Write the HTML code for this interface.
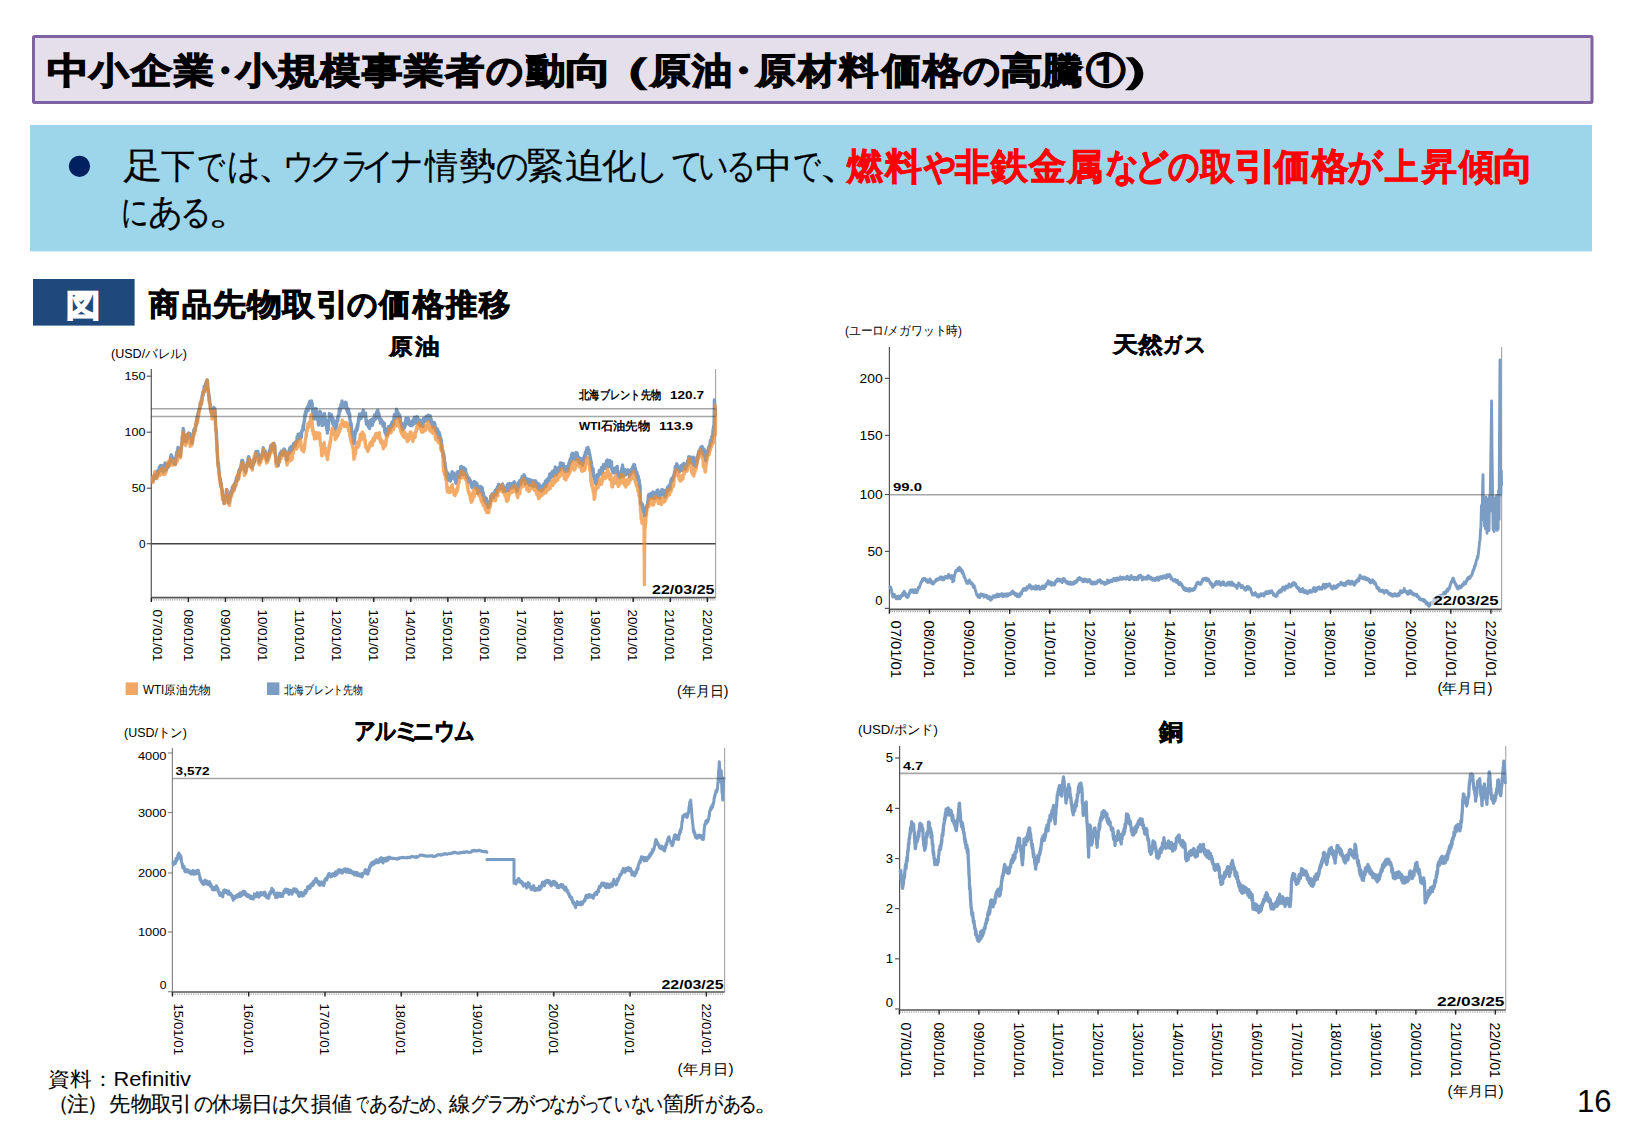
<!DOCTYPE html>
<html lang="ja"><head><meta charset="utf-8"><title>slide</title>
<style>
html,body{margin:0;padding:0;background:#fff;}
body{width:1625px;height:1125px;position:relative;overflow:hidden;font-family:'Liberation Sans', sans-serif;}
svg text{font-family:'Liberation Sans', sans-serif;}
</style></head><body>
<svg width="1625" height="1125" viewBox="0 0 1625 1125" style="position:absolute;left:0;top:0">
<rect x="33.5" y="36.5" width="1558.5" height="66" rx="1" fill="#e5dfec" stroke="#7f62a1" stroke-width="3"/>
<text transform="translate(68.79,82.98) scale(1.094,0.932)" x="0" y="0" font-size="39" font-weight="bold" fill="#000" text-anchor="middle" stroke="#000" stroke-width="1.3">中</text>
<text transform="translate(108.99,82.98) scale(1.026,0.932)" x="0" y="0" font-size="39" font-weight="bold" fill="#000" text-anchor="middle" stroke="#000" stroke-width="1.3">小</text>
<text transform="translate(151.70,82.98) scale(1.068,0.932)" x="0" y="0" font-size="39" font-weight="bold" fill="#000" text-anchor="middle" stroke="#000" stroke-width="1.3">企</text>
<text transform="translate(193.95,82.98) scale(1.029,0.932)" x="0" y="0" font-size="39" font-weight="bold" fill="#000" text-anchor="middle" stroke="#000" stroke-width="1.3">業</text>
<text transform="translate(224.57,82.98) scale(0.925,0.932)" x="0" y="0" font-size="39" font-weight="bold" fill="#000" text-anchor="middle" stroke="#000" stroke-width="1.3">・</text>
<text transform="translate(256.38,82.98) scale(1.041,0.932)" x="0" y="0" font-size="39" font-weight="bold" fill="#000" text-anchor="middle" stroke="#000" stroke-width="1.3">小</text>
<text transform="translate(298.95,82.98) scale(1.103,0.932)" x="0" y="0" font-size="39" font-weight="bold" fill="#000" text-anchor="middle" stroke="#000" stroke-width="1.3">規</text>
<text transform="translate(340.90,82.98) scale(1.047,0.932)" x="0" y="0" font-size="39" font-weight="bold" fill="#000" text-anchor="middle" stroke="#000" stroke-width="1.3">模</text>
<text transform="translate(382.45,82.98) scale(1.045,0.932)" x="0" y="0" font-size="39" font-weight="bold" fill="#000" text-anchor="middle" stroke="#000" stroke-width="1.3">事</text>
<text transform="translate(423.50,82.98) scale(1.026,0.932)" x="0" y="0" font-size="39" font-weight="bold" fill="#000" text-anchor="middle" stroke="#000" stroke-width="1.3">業</text>
<text transform="translate(465.10,82.98) scale(1.021,0.932)" x="0" y="0" font-size="39" font-weight="bold" fill="#000" text-anchor="middle" stroke="#000" stroke-width="1.3">者</text>
<text transform="translate(505.22,82.98) scale(0.949,0.932)" x="0" y="0" font-size="39" font-weight="bold" fill="#000" text-anchor="middle" stroke="#000" stroke-width="1.3">の</text>
<text transform="translate(545.41,82.98) scale(1.022,0.932)" x="0" y="0" font-size="39" font-weight="bold" fill="#000" text-anchor="middle" stroke="#000" stroke-width="1.3">動</text>
<text transform="translate(588.28,82.98) scale(1.223,0.932)" x="0" y="0" font-size="39" font-weight="bold" fill="#000" text-anchor="middle" stroke="#000" stroke-width="1.3">向</text>
<text transform="translate(624.00,82.98) scale(1.533,0.932)" x="0" y="0" font-size="39" font-weight="bold" fill="#000" text-anchor="middle" stroke="#000" stroke-width="1.3">（</text>
<text transform="translate(670.65,82.98) scale(1.045,0.932)" x="0" y="0" font-size="39" font-weight="bold" fill="#000" text-anchor="middle" stroke="#000" stroke-width="1.3">原</text>
<text transform="translate(712.20,82.98) scale(1.047,0.932)" x="0" y="0" font-size="39" font-weight="bold" fill="#000" text-anchor="middle" stroke="#000" stroke-width="1.3">油</text>
<text transform="translate(743.41,82.98) scale(1.038,0.932)" x="0" y="0" font-size="39" font-weight="bold" fill="#000" text-anchor="middle" stroke="#000" stroke-width="1.3">・</text>
<text transform="translate(775.40,82.98) scale(1.021,0.932)" x="0" y="0" font-size="39" font-weight="bold" fill="#000" text-anchor="middle" stroke="#000" stroke-width="1.3">原</text>
<text transform="translate(817.40,82.98) scale(0.995,0.932)" x="0" y="0" font-size="39" font-weight="bold" fill="#000" text-anchor="middle" stroke="#000" stroke-width="1.3">材</text>
<text transform="translate(858.40,82.98) scale(1.021,0.932)" x="0" y="0" font-size="39" font-weight="bold" fill="#000" text-anchor="middle" stroke="#000" stroke-width="1.3">料</text>
<text transform="translate(901.42,82.98) scale(1.021,0.932)" x="0" y="0" font-size="39" font-weight="bold" fill="#000" text-anchor="middle" stroke="#000" stroke-width="1.3">価</text>
<text transform="translate(942.96,82.98) scale(1.018,0.932)" x="0" y="0" font-size="39" font-weight="bold" fill="#000" text-anchor="middle" stroke="#000" stroke-width="1.3">格</text>
<text transform="translate(982.17,82.98) scale(0.946,0.932)" x="0" y="0" font-size="39" font-weight="bold" fill="#000" text-anchor="middle" stroke="#000" stroke-width="1.3">の</text>
<text transform="translate(1021.85,82.98) scale(1.103,0.932)" x="0" y="0" font-size="39" font-weight="bold" fill="#000" text-anchor="middle" stroke="#000" stroke-width="1.3">高</text>
<text transform="translate(1062.90,82.98) scale(1.068,0.932)" x="0" y="0" font-size="39" font-weight="bold" fill="#000" text-anchor="middle" stroke="#000" stroke-width="1.3">騰</text>
<text transform="translate(1105.39,82.98) scale(1.022,0.932)" x="0" y="0" font-size="39" font-weight="bold" fill="#000" text-anchor="middle" stroke="#000" stroke-width="1.3">①</text>
<text transform="translate(1150.52,82.98) scale(1.644,0.932)" x="0" y="0" font-size="39" font-weight="bold" fill="#000" text-anchor="middle" stroke="#000" stroke-width="1.3">）</text>
<rect x="30" y="125" width="1562" height="126.4" fill="#9dd5ea"/>
<circle cx="79.5" cy="166.3" r="10.6" fill="#002060"/>
<text transform="translate(141.95,178.20) scale(1.097,1.000)" x="0" y="0" font-size="35.5" font-weight="normal" fill="#000" text-anchor="middle" stroke="#000" stroke-width="0.2">足</text>
<text transform="translate(177.80,178.20) scale(0.976,1.000)" x="0" y="0" font-size="35.5" font-weight="normal" fill="#000" text-anchor="middle" stroke="#000" stroke-width="0.2">下</text>
<text transform="translate(211.61,178.20) scale(0.788,1.000)" x="0" y="0" font-size="35.5" font-weight="normal" fill="#000" text-anchor="middle" stroke="#000" stroke-width="0.2">で</text>
<text transform="translate(244.20,178.20) scale(0.920,1.000)" x="0" y="0" font-size="35.5" font-weight="normal" fill="#000" text-anchor="middle" stroke="#000" stroke-width="0.2">は</text>
<text transform="translate(278.52,178.20) scale(1.217,1.000)" x="0" y="0" font-size="35.5" font-weight="normal" fill="#000" text-anchor="middle" stroke="#000" stroke-width="0.2">、</text>
<text transform="translate(299.14,178.20) scale(0.889,1.000)" x="0" y="0" font-size="35.5" font-weight="normal" fill="#000" text-anchor="middle" stroke="#000" stroke-width="0.2">ウ</text>
<text transform="translate(327.35,178.20) scale(0.996,1.000)" x="0" y="0" font-size="35.5" font-weight="normal" fill="#000" text-anchor="middle" stroke="#000" stroke-width="0.2">ク</text>
<text transform="translate(354.88,178.20) scale(0.777,1.000)" x="0" y="0" font-size="35.5" font-weight="normal" fill="#000" text-anchor="middle" stroke="#000" stroke-width="0.2">ラ</text>
<text transform="translate(378.02,178.20) scale(0.923,1.000)" x="0" y="0" font-size="35.5" font-weight="normal" fill="#000" text-anchor="middle" stroke="#000" stroke-width="0.2">イ</text>
<text transform="translate(407.99,178.20) scale(0.894,1.000)" x="0" y="0" font-size="35.5" font-weight="normal" fill="#000" text-anchor="middle" stroke="#000" stroke-width="0.2">ナ</text>
<text transform="translate(442.20,178.20) scale(0.947,1.000)" x="0" y="0" font-size="35.5" font-weight="normal" fill="#000" text-anchor="middle" stroke="#000" stroke-width="0.2">情</text>
<text transform="translate(476.82,178.20) scale(1.036,1.000)" x="0" y="0" font-size="35.5" font-weight="normal" fill="#000" text-anchor="middle" stroke="#000" stroke-width="0.2">勢</text>
<text transform="translate(512.25,178.20) scale(0.897,1.000)" x="0" y="0" font-size="35.5" font-weight="normal" fill="#000" text-anchor="middle" stroke="#000" stroke-width="0.2">の</text>
<text transform="translate(545.55,178.20) scale(1.066,1.000)" x="0" y="0" font-size="35.5" font-weight="normal" fill="#000" text-anchor="middle" stroke="#000" stroke-width="0.2">緊</text>
<text transform="translate(583.99,178.20) scale(1.094,1.000)" x="0" y="0" font-size="35.5" font-weight="normal" fill="#000" text-anchor="middle" stroke="#000" stroke-width="0.2">迫</text>
<text transform="translate(618.90,178.20) scale(0.976,1.000)" x="0" y="0" font-size="35.5" font-weight="normal" fill="#000" text-anchor="middle" stroke="#000" stroke-width="0.2">化</text>
<text transform="translate(651.64,178.20) scale(0.964,1.000)" x="0" y="0" font-size="35.5" font-weight="normal" fill="#000" text-anchor="middle" stroke="#000" stroke-width="0.2">し</text>
<text transform="translate(687.24,178.20) scale(0.890,1.000)" x="0" y="0" font-size="35.5" font-weight="normal" fill="#000" text-anchor="middle" stroke="#000" stroke-width="0.2">て</text>
<text transform="translate(713.13,178.20) scale(0.835,1.000)" x="0" y="0" font-size="35.5" font-weight="normal" fill="#000" text-anchor="middle" stroke="#000" stroke-width="0.2">い</text>
<text transform="translate(741.56,178.20) scale(0.826,1.000)" x="0" y="0" font-size="35.5" font-weight="normal" fill="#000" text-anchor="middle" stroke="#000" stroke-width="0.2">る</text>
<text transform="translate(774.27,178.20) scale(1.079,1.000)" x="0" y="0" font-size="35.5" font-weight="normal" fill="#000" text-anchor="middle" stroke="#000" stroke-width="0.2">中</text>
<text transform="translate(806.94,178.20) scale(0.759,1.000)" x="0" y="0" font-size="35.5" font-weight="normal" fill="#000" text-anchor="middle" stroke="#000" stroke-width="0.2">で</text>
<text transform="translate(842.28,178.20) scale(1.383,1.000)" x="0" y="0" font-size="35.5" font-weight="normal" fill="#000" text-anchor="middle" stroke="#000" stroke-width="0.2">、</text>
<text transform="translate(864.91,179.00) scale(0.973,1.000)" x="0" y="0" font-size="36.5" font-weight="bold" fill="#ff0000" text-anchor="middle" stroke="#ff0000" stroke-width="0.8">燃</text>
<text transform="translate(903.20,179.00) scale(1.000,1.000)" x="0" y="0" font-size="36.5" font-weight="bold" fill="#ff0000" text-anchor="middle" stroke="#ff0000" stroke-width="0.8">料</text>
<text transform="translate(940.57,179.00) scale(0.872,1.000)" x="0" y="0" font-size="36.5" font-weight="bold" fill="#ff0000" text-anchor="middle" stroke="#ff0000" stroke-width="0.8">や</text>
<text transform="translate(972.30,179.00) scale(0.972,1.000)" x="0" y="0" font-size="36.5" font-weight="bold" fill="#ff0000" text-anchor="middle" stroke="#ff0000" stroke-width="0.8">非</text>
<text transform="translate(1009.70,179.00) scale(1.000,1.000)" x="0" y="0" font-size="36.5" font-weight="bold" fill="#ff0000" text-anchor="middle" stroke="#ff0000" stroke-width="0.8">鉄</text>
<text transform="translate(1047.50,179.00) scale(1.000,1.000)" x="0" y="0" font-size="36.5" font-weight="bold" fill="#ff0000" text-anchor="middle" stroke="#ff0000" stroke-width="0.8">金</text>
<text transform="translate(1085.45,179.00) scale(1.003,1.000)" x="0" y="0" font-size="36.5" font-weight="bold" fill="#ff0000" text-anchor="middle" stroke="#ff0000" stroke-width="0.8">属</text>
<text transform="translate(1121.77,179.00) scale(0.871,1.000)" x="0" y="0" font-size="36.5" font-weight="bold" fill="#ff0000" text-anchor="middle" stroke="#ff0000" stroke-width="0.8">な</text>
<text transform="translate(1151.91,179.00) scale(0.894,1.000)" x="0" y="0" font-size="36.5" font-weight="bold" fill="#ff0000" text-anchor="middle" stroke="#ff0000" stroke-width="0.8">ど</text>
<text transform="translate(1184.12,179.00) scale(0.840,1.000)" x="0" y="0" font-size="36.5" font-weight="bold" fill="#ff0000" text-anchor="middle" stroke="#ff0000" stroke-width="0.8">の</text>
<text transform="translate(1217.38,179.00) scale(0.949,1.000)" x="0" y="0" font-size="36.5" font-weight="bold" fill="#ff0000" text-anchor="middle" stroke="#ff0000" stroke-width="0.8">取</text>
<text transform="translate(1255.34,179.00) scale(1.196,1.000)" x="0" y="0" font-size="36.5" font-weight="bold" fill="#ff0000" text-anchor="middle" stroke="#ff0000" stroke-width="0.8">引</text>
<text transform="translate(1292.35,179.00) scale(1.003,1.000)" x="0" y="0" font-size="36.5" font-weight="bold" fill="#ff0000" text-anchor="middle" stroke="#ff0000" stroke-width="0.8">価</text>
<text transform="translate(1330.15,179.00) scale(0.997,1.000)" x="0" y="0" font-size="36.5" font-weight="bold" fill="#ff0000" text-anchor="middle" stroke="#ff0000" stroke-width="0.8">格</text>
<text transform="translate(1365.64,179.00) scale(0.924,1.000)" x="0" y="0" font-size="36.5" font-weight="bold" fill="#ff0000" text-anchor="middle" stroke="#ff0000" stroke-width="0.8">が</text>
<text transform="translate(1401.65,179.00) scale(0.925,1.000)" x="0" y="0" font-size="36.5" font-weight="bold" fill="#ff0000" text-anchor="middle" stroke="#ff0000" stroke-width="0.8">上</text>
<text transform="translate(1439.50,179.00) scale(0.972,1.000)" x="0" y="0" font-size="36.5" font-weight="bold" fill="#ff0000" text-anchor="middle" stroke="#ff0000" stroke-width="0.8">昇</text>
<text transform="translate(1476.50,179.00) scale(0.972,1.000)" x="0" y="0" font-size="36.5" font-weight="bold" fill="#ff0000" text-anchor="middle" stroke="#ff0000" stroke-width="0.8">傾</text>
<text transform="translate(1513.51,179.00) scale(1.107,1.000)" x="0" y="0" font-size="36.5" font-weight="bold" fill="#ff0000" text-anchor="middle" stroke="#ff0000" stroke-width="0.8">向</text>
<text transform="translate(134.62,224.00) scale(0.759,1.000)" x="0" y="0" font-size="35.5" font-weight="normal" fill="#000" text-anchor="middle" stroke="#000" stroke-width="0.2">に</text>
<text transform="translate(165.48,224.00) scale(0.968,1.000)" x="0" y="0" font-size="35.5" font-weight="normal" fill="#000" text-anchor="middle" stroke="#000" stroke-width="0.2">あ</text>
<text transform="translate(196.44,224.00) scale(0.889,1.000)" x="0" y="0" font-size="35.5" font-weight="normal" fill="#000" text-anchor="middle" stroke="#000" stroke-width="0.2">る</text>
<text transform="translate(233.00,224.00) scale(1.500,1.000)" x="0" y="0" font-size="35.5" font-weight="normal" fill="#000" text-anchor="middle" stroke="#000" stroke-width="0.2">。</text>
<rect x="33" y="279" width="101.6" height="46.6" fill="#1f497d"/>
<text transform="translate(83.50,315.50) scale(1.115,1.000)" x="0" y="0" font-size="31" font-weight="bold" fill="#fff" text-anchor="middle" stroke="#fff" stroke-width="1.4">図</text>
<text transform="translate(164.00,315.00) scale(0.973,1.000)" x="0" y="0" font-size="31" font-weight="bold" fill="#000" text-anchor="middle" stroke="#000" stroke-width="0.9">商</text>
<text transform="translate(196.75,315.00) scale(0.961,1.000)" x="0" y="0" font-size="31" font-weight="bold" fill="#000" text-anchor="middle" stroke="#000" stroke-width="0.9">品</text>
<text transform="translate(229.52,315.00) scale(1.055,1.000)" x="0" y="0" font-size="31" font-weight="bold" fill="#000" text-anchor="middle" stroke="#000" stroke-width="0.9">先</text>
<text transform="translate(264.51,315.00) scale(1.128,1.000)" x="0" y="0" font-size="31" font-weight="bold" fill="#000" text-anchor="middle" stroke="#000" stroke-width="0.9">物</text>
<text transform="translate(298.45,315.00) scale(1.050,1.000)" x="0" y="0" font-size="31" font-weight="bold" fill="#000" text-anchor="middle" stroke="#000" stroke-width="0.9">取</text>
<text transform="translate(332.80,315.00) scale(1.070,1.000)" x="0" y="0" font-size="31" font-weight="bold" fill="#000" text-anchor="middle" stroke="#000" stroke-width="0.9">引</text>
<text transform="translate(362.63,315.00) scale(0.969,1.000)" x="0" y="0" font-size="31" font-weight="bold" fill="#000" text-anchor="middle" stroke="#000" stroke-width="0.9">の</text>
<text transform="translate(394.80,315.00) scale(1.007,1.000)" x="0" y="0" font-size="31" font-weight="bold" fill="#000" text-anchor="middle" stroke="#000" stroke-width="0.9">価</text>
<text transform="translate(428.71,315.00) scale(1.019,1.000)" x="0" y="0" font-size="31" font-weight="bold" fill="#000" text-anchor="middle" stroke="#000" stroke-width="0.9">格</text>
<text transform="translate(461.60,315.00) scale(1.013,1.000)" x="0" y="0" font-size="31" font-weight="bold" fill="#000" text-anchor="middle" stroke="#000" stroke-width="0.9">推</text>
<text transform="translate(494.30,315.00) scale(1.013,1.000)" x="0" y="0" font-size="31" font-weight="bold" fill="#000" text-anchor="middle" stroke="#000" stroke-width="0.9">移</text>
<text transform="translate(401.25,354.26) scale(0.979,0.913)" x="0" y="0" font-size="24" font-weight="bold" fill="#000" text-anchor="middle" stroke="#000" stroke-width="0.5">原</text>
<text transform="translate(427.37,354.26) scale(1.030,0.913)" x="0" y="0" font-size="24" font-weight="bold" fill="#000" text-anchor="middle" stroke="#000" stroke-width="0.5">油</text>
<text transform="translate(1125.30,351.64) scale(1.090,0.965)" x="0" y="0" font-size="23" font-weight="bold" fill="#000" text-anchor="middle" stroke="#000" stroke-width="0.5">天</text>
<text transform="translate(1151.10,351.64) scale(1.091,0.965)" x="0" y="0" font-size="23" font-weight="bold" fill="#000" text-anchor="middle" stroke="#000" stroke-width="0.5">然</text>
<text transform="translate(1173.23,351.64) scale(0.823,0.965)" x="0" y="0" font-size="23" font-weight="bold" fill="#000" text-anchor="middle" stroke="#000" stroke-width="0.5">ガ</text>
<text transform="translate(1195.16,351.64) scale(0.960,0.965)" x="0" y="0" font-size="23" font-weight="bold" fill="#000" text-anchor="middle" stroke="#000" stroke-width="0.5">ス</text>
<text transform="translate(365.65,739.02) scale(0.945,1.060)" x="0" y="0" font-size="23" font-weight="bold" fill="#000" text-anchor="middle" stroke="#000" stroke-width="0.5">ア</text>
<text transform="translate(386.35,739.02) scale(0.904,1.060)" x="0" y="0" font-size="23" font-weight="bold" fill="#000" text-anchor="middle" stroke="#000" stroke-width="0.5">ル</text>
<text transform="translate(406.94,739.02) scale(1.392,1.060)" x="0" y="0" font-size="23" font-weight="bold" fill="#000" text-anchor="middle" stroke="#000" stroke-width="0.5">ミ</text>
<text transform="translate(424.51,739.02) scale(0.921,1.060)" x="0" y="0" font-size="23" font-weight="bold" fill="#000" text-anchor="middle" stroke="#000" stroke-width="0.5">ニ</text>
<text transform="translate(445.22,739.02) scale(0.922,1.060)" x="0" y="0" font-size="23" font-weight="bold" fill="#000" text-anchor="middle" stroke="#000" stroke-width="0.5">ウ</text>
<text transform="translate(464.90,739.02) scale(0.900,1.060)" x="0" y="0" font-size="23" font-weight="bold" fill="#000" text-anchor="middle" stroke="#000" stroke-width="0.5">ム</text>
<text transform="translate(1171.00,740.00) scale(1.000,1.000)" x="0" y="0" font-size="24" font-weight="bold" fill="#000" text-anchor="middle" stroke="#000" stroke-width="0.5">銅</text>
<line x1="715.6" y1="369" x2="715.6" y2="597.6" stroke="#aaa" stroke-width="1.2" />
<line x1="151.3" y1="369" x2="151.3" y2="597.6" stroke="#555" stroke-width="1.2" />
<line x1="146.8" y1="376.2" x2="151.3" y2="376.2" stroke="#555" stroke-width="1.2" />
<text x="145.5" y="380.4" font-size="11.2" font-weight="normal" fill="#000" text-anchor="end" textLength="21.0" lengthAdjust="spacingAndGlyphs" >150</text>
<line x1="146.8" y1="432.2" x2="151.3" y2="432.2" stroke="#555" stroke-width="1.2" />
<text x="145.5" y="436.4" font-size="11.2" font-weight="normal" fill="#000" text-anchor="end" textLength="21.0" lengthAdjust="spacingAndGlyphs" >100</text>
<line x1="146.8" y1="488.2" x2="151.3" y2="488.2" stroke="#555" stroke-width="1.2" />
<text x="145.5" y="492.4" font-size="11.2" font-weight="normal" fill="#000" text-anchor="end" textLength="13.8" lengthAdjust="spacingAndGlyphs" >50</text>
<line x1="146.8" y1="543.7" x2="151.3" y2="543.7" stroke="#555" stroke-width="1.2" />
<text x="145.5" y="547.9000000000001" font-size="11.2" font-weight="normal" fill="#000" text-anchor="end" textLength="6.6" lengthAdjust="spacingAndGlyphs" >0</text>
<line x1="151.3" y1="543.7" x2="715.6" y2="543.7" stroke="#444" stroke-width="1.5" />
<polyline points="152.5,477.2 152.7,478.3 152.9,478.2 153.1,481.0 153.3,478.5 153.5,477.8 153.7,476.7 153.9,477.7 154.1,477.2 154.3,474.9 154.5,477.6 154.7,477.9 154.9,477.1 155.1,477.3 155.3,475.6 155.5,474.8 155.7,474.6 155.9,475.1 156.1,478.5 156.3,475.6 156.5,476.9 156.7,474.1 156.9,477.1 157.1,475.9 157.3,470.9 157.5,471.8 157.7,474.1 157.9,473.5 158.1,473.3 158.3,473.7 158.5,470.4 158.7,472.6 158.9,469.4 159.1,469.7 159.3,467.1 159.6,467.0 159.8,470.9 160.0,468.5 160.2,467.1 160.4,469.9 160.6,465.3 160.8,465.9 161.0,468.5 161.2,465.7 161.4,469.2 161.6,470.1 161.8,465.7 162.0,470.4 162.2,470.0 162.4,468.3 162.6,468.7 162.8,466.5 163.0,466.7 163.2,472.2 163.4,468.3 163.6,470.4 163.8,467.5 164.0,470.1 164.2,468.3 164.4,464.7 164.6,464.6 164.8,466.6 165.0,463.0 165.2,464.2 165.4,465.7 165.6,468.3 165.8,468.4 166.0,466.7 166.2,466.4 166.4,470.2 166.6,464.4 166.8,467.2 167.0,467.9 167.2,468.1 167.4,466.9 167.6,466.6 167.8,467.4 168.0,467.3 168.2,463.5 168.4,463.8 168.6,465.9 168.8,466.5 169.0,463.4 169.2,464.6 169.4,463.6 169.6,461.7 169.8,461.7 170.0,461.7 170.2,462.6 170.4,461.7 170.6,456.3 170.8,460.2 171.0,461.9 171.2,454.7 171.4,456.8 171.6,460.2 171.8,457.1 172.0,456.3 172.2,461.6 172.4,459.9 172.6,458.6 172.8,461.7 173.0,458.6 173.1,460.9 173.3,458.4 173.5,459.4 173.7,461.3 173.9,462.4 174.1,463.9 174.3,460.4 174.5,461.9 174.7,461.3 174.9,460.0 175.1,459.7 175.3,464.5 175.5,460.0 175.7,461.7 175.9,459.8 176.1,455.7 176.3,457.7 176.5,453.2 176.8,452.6 177.0,453.9 177.2,451.0 177.4,455.6 177.6,451.0 177.8,449.1 178.0,447.3 178.2,451.3 178.4,450.5 178.6,451.2 178.8,448.1 179.0,448.4 179.2,450.2 179.4,451.0 179.6,450.4 179.7,451.1 179.9,452.1 180.1,450.8 180.3,454.6 180.5,456.2 180.7,452.0 180.9,451.0 181.1,447.8 181.3,448.4 181.5,447.7 181.8,445.5 182.0,442.9 182.2,437.0 182.4,438.2 182.6,437.6 182.8,436.8 183.0,433.0 183.2,428.4 183.4,433.2 183.6,429.9 183.8,433.4 184.0,437.3 184.2,434.1 184.5,435.9 184.7,439.3 184.9,440.1 185.1,441.3 185.3,441.3 185.5,440.1 185.7,440.6 185.9,442.1 186.1,441.9 186.3,437.1 186.5,440.0 186.8,440.8 187.0,437.2 187.2,437.9 187.4,434.3 187.6,434.6 187.8,434.2 188.0,434.3 188.2,435.1 188.4,433.1 188.6,433.7 188.8,433.3 189.0,435.0 189.2,438.1 189.4,433.3 189.6,437.1 189.8,433.3 190.1,434.5 190.3,434.3 190.5,437.2 190.7,437.4 190.9,437.7 191.1,439.5 191.3,438.1 191.5,442.7 191.7,443.3 191.9,442.2 192.1,443.4 192.3,440.9 192.5,441.6 192.7,436.1 192.9,437.6 193.2,436.2 193.4,436.1 193.6,431.2 193.8,429.9 194.0,432.5 194.2,429.5 194.4,430.4 194.6,428.3 194.8,428.4 195.0,429.6 195.2,429.8 195.4,430.2 195.7,424.2 195.9,425.6 196.1,426.2 196.3,422.8 196.5,422.7 196.7,422.5 196.9,417.1 197.1,416.4 197.3,420.7 197.5,417.2 197.7,417.2 197.9,413.6 198.2,413.1 198.4,412.4 198.6,411.3 198.8,411.9 199.0,409.1 199.2,409.5 199.4,407.9 199.6,408.5 199.8,407.2 200.0,404.4 200.2,407.4 200.4,405.0 200.6,404.8 200.8,404.8 200.9,401.8 201.1,403.9 201.3,404.4 201.5,401.8 201.7,401.2 201.9,399.0 202.1,395.9 202.3,396.1 202.5,394.9 202.7,393.7 202.9,391.8 203.1,395.3 203.3,393.4 203.6,393.2 203.8,392.1 204.0,391.8 204.2,386.1 204.4,390.6 204.6,390.3 204.8,390.5 205.0,387.6 205.2,388.6 205.4,384.2 205.6,386.5 205.8,386.4 206.1,381.9 206.3,386.0 206.5,382.7 206.7,382.7 206.9,379.9 207.1,382.0 207.3,380.2 207.5,381.7 207.7,385.8 207.9,388.2 208.1,388.5 208.3,392.0 208.5,390.3 208.7,396.1 208.9,394.7 209.1,396.1 209.3,400.3 209.5,398.1 209.8,402.0 210.0,404.1 210.2,405.2 210.4,404.9 210.6,408.7 210.8,410.9 211.0,410.3 211.2,408.8 211.4,411.4 211.6,413.1 211.8,412.4 212.0,412.4 212.2,414.3 212.4,412.4 212.6,413.6 212.8,412.4 213.0,410.9 213.2,412.4 213.4,412.3 213.7,408.4 213.9,407.5 214.1,412.1 214.3,412.2 214.5,411.5 214.7,408.3 214.9,408.5 215.1,413.9 215.2,414.0 215.4,418.5 215.6,423.1 215.8,428.8 216.0,431.2 216.2,429.4 216.4,431.9 216.6,439.2 216.8,441.6 217.0,446.5 217.2,452.8 217.4,452.9 217.6,458.0 217.8,463.4 218.0,462.9 218.2,465.5 218.4,462.6 218.6,465.4 218.9,470.9 219.1,470.3 219.3,473.5 219.5,477.7 219.7,477.0 219.9,479.9 220.1,478.1 220.3,478.8 220.5,481.0 220.7,485.8 220.9,486.7 221.2,483.6 221.4,486.4 221.6,488.5 221.8,488.1 222.0,488.8 222.2,491.1 222.4,490.5 222.6,494.3 222.8,496.3 223.0,496.6 223.1,499.8 223.3,498.0 223.5,500.0 223.7,496.9 223.9,500.9 224.1,503.7 224.3,499.8 224.5,500.4 224.7,497.1 224.9,497.0 225.1,500.3 225.3,498.0 225.6,496.0 225.8,495.0 226.0,494.8 226.2,493.9 226.4,493.0 226.6,489.4 226.8,491.3 227.0,489.9 227.2,495.5 227.4,497.5 227.6,494.1 227.8,494.8 228.0,495.0 228.2,499.2 228.4,498.6 228.6,503.1 228.8,498.7 229.0,500.7 229.2,498.4 229.4,498.2 229.6,497.3 229.8,499.1 230.0,494.9 230.2,495.7 230.4,496.8 230.6,493.2 230.8,491.7 231.0,494.7 231.2,494.1 231.4,490.7 231.6,491.5 231.8,493.3 232.0,490.6 232.2,487.9 232.4,487.4 232.6,486.8 232.8,490.2 233.0,489.2 233.2,489.1 233.4,490.1 233.6,486.4 233.8,486.9 234.0,484.4 234.1,488.7 234.3,484.0 234.5,488.3 234.7,488.2 234.9,487.0 235.1,482.7 235.3,483.8 235.5,484.8 235.7,480.6 235.9,481.2 236.1,479.9 236.3,478.2 236.5,480.0 236.7,480.1 236.9,481.4 237.1,478.4 237.3,479.9 237.6,475.4 237.8,476.8 238.0,476.5 238.2,479.1 238.4,477.3 238.6,474.9 238.8,470.5 239.0,472.7 239.2,473.1 239.4,472.6 239.6,470.1 239.8,468.7 240.0,471.5 240.2,468.0 240.4,470.4 240.7,468.5 240.9,468.2 241.1,465.2 241.3,467.9 241.5,462.4 241.7,462.3 241.9,460.2 242.1,462.7 242.3,463.1 242.5,460.3 242.7,461.0 242.9,462.9 243.1,461.9 243.3,463.8 243.5,466.7 243.8,469.3 244.0,469.1 244.2,469.4 244.4,469.6 244.6,467.1 244.8,470.3 245.0,470.7 245.2,471.2 245.4,471.9 245.6,472.0 245.8,467.8 246.0,471.0 246.2,469.5 246.4,467.1 246.6,464.7 246.8,464.9 246.9,466.1 247.1,466.6 247.3,462.5 247.5,464.8 247.7,461.1 247.9,460.9 248.1,458.7 248.3,458.1 248.5,458.4 248.7,456.6 248.9,456.8 249.1,458.9 249.3,463.3 249.5,462.6 249.7,461.1 249.9,459.4 250.1,463.7 250.3,466.0 250.5,464.4 250.7,465.7 250.9,467.2 251.1,463.5 251.3,464.4 251.5,466.9 251.7,465.2 251.9,465.7 252.1,468.0 252.3,467.4 252.5,464.4 252.7,463.7 252.9,464.1 253.1,465.1 253.3,462.4 253.5,462.0 253.7,461.0 253.9,463.2 254.0,459.3 254.2,458.6 254.4,461.8 254.6,461.7 254.8,460.7 255.0,458.8 255.2,458.5 255.4,455.8 255.6,455.9 255.8,454.2 256.0,451.4 256.2,455.0 256.4,454.4 256.6,455.6 256.8,451.7 257.0,455.6 257.2,452.3 257.4,454.5 257.6,456.1 257.8,451.1 258.0,453.4 258.2,453.5 258.4,454.3 258.6,454.6 258.8,460.3 259.0,461.2 259.2,458.9 259.4,459.5 259.6,462.0 259.8,461.7 260.0,456.4 260.2,459.7 260.4,456.8 260.6,459.6 260.8,455.1 261.0,456.7 261.2,458.5 261.5,454.9 261.7,457.6 261.9,456.1 262.1,456.2 262.3,452.7 262.5,454.7 262.7,455.7 262.9,451.6 263.1,448.3 263.3,447.7 263.5,453.3 263.7,451.4 263.9,452.2 264.1,452.2 264.3,450.2 264.5,454.3 264.7,452.3 264.9,451.4 265.1,454.1 265.4,451.5 265.6,453.8 265.8,456.2 266.0,454.0 266.2,455.3 266.4,458.3 266.6,456.3 266.8,460.5 267.0,460.5 267.2,458.4 267.4,459.2 267.6,459.5 267.8,459.6 268.0,458.0 268.2,455.9 268.4,456.5 268.6,454.7 268.8,455.4 269.0,454.3 269.2,450.7 269.4,454.4 269.6,455.0 269.8,453.0 270.0,452.9 270.2,448.7 270.4,447.9 270.6,445.9 270.8,448.8 271.0,448.1 271.2,447.9 271.4,445.2 271.6,448.8 271.8,446.2 272.0,447.9 272.2,447.8 272.4,449.5 272.6,449.5 272.8,449.0 272.9,444.0 273.1,446.1 273.3,446.0 273.5,445.5 273.7,449.5 273.9,443.2 274.1,444.7 274.3,445.8 274.5,444.6 274.7,445.2 274.9,447.0 275.1,453.2 275.3,454.4 275.6,456.9 275.8,456.3 276.0,458.9 276.2,462.4 276.4,462.8 276.6,462.0 276.8,463.8 277.0,462.3 277.2,462.9 277.4,462.3 277.6,462.3 277.8,463.0 278.0,463.3 278.2,465.9 278.4,462.9 278.5,464.3 278.7,461.0 278.9,462.0 279.1,459.4 279.3,461.1 279.5,457.5 279.7,455.8 279.9,453.3 280.1,454.1 280.3,454.7 280.5,454.5 280.7,452.4 280.9,453.4 281.1,453.2 281.3,451.1 281.5,451.2 281.7,454.1 281.9,451.6 282.1,454.3 282.3,453.6 282.5,455.0 282.8,452.0 283.0,453.1 283.2,450.9 283.4,453.1 283.6,452.2 283.8,449.1 284.0,449.5 284.2,449.0 284.4,451.7 284.6,452.7 284.8,449.7 285.0,451.9 285.2,453.1 285.4,451.1 285.6,454.8 285.9,456.3 286.1,458.6 286.3,459.6 286.5,457.1 286.7,460.4 286.9,459.8 287.1,456.6 287.3,459.3 287.5,456.7 287.7,454.9 287.9,455.8 288.0,455.0 288.2,453.2 288.4,454.3 288.6,454.2 288.8,453.1 289.0,450.3 289.2,451.9 289.4,451.4 289.6,449.3 289.8,448.1 290.0,448.2 290.2,452.0 290.4,447.4 290.6,447.9 290.8,447.1 291.0,451.1 291.2,448.1 291.4,446.5 291.6,449.4 291.8,448.1 292.0,446.2 292.2,447.9 292.4,449.5 292.6,448.8 292.8,447.5 293.1,446.3 293.3,448.0 293.5,447.7 293.7,443.6 293.9,443.2 294.1,445.7 294.3,442.8 294.5,445.9 294.7,444.4 294.9,443.1 295.1,445.8 295.3,445.5 295.5,441.9 295.7,443.9 295.9,443.6 296.1,441.3 296.3,442.5 296.5,441.2 296.7,442.4 296.9,441.8 297.1,436.6 297.3,437.6 297.5,439.4 297.7,436.3 297.9,436.0 298.1,434.2 298.3,437.0 298.5,438.8 298.7,438.6 298.9,434.5 299.1,437.9 299.3,436.7 299.4,438.0 299.6,436.4 299.8,438.0 300.0,438.7 300.2,434.4 300.4,437.9 300.6,433.9 300.8,433.0 301.0,434.9 301.2,437.2 301.4,437.5 301.6,432.0 301.8,432.2 302.0,429.9 302.2,431.6 302.4,430.2 302.6,430.3 302.8,429.4 303.0,427.2 303.2,425.2 303.4,430.0 303.6,425.4 303.8,425.1 304.1,421.0 304.3,421.8 304.5,419.2 304.7,418.9 304.9,414.4 305.1,416.8 305.3,414.3 305.5,411.4 305.7,414.4 305.9,414.0 306.1,413.3 306.3,409.8 306.5,411.3 306.7,410.4 306.9,408.3 307.1,407.6 307.3,407.6 307.5,407.1 307.7,406.6 307.9,408.5 308.1,410.6 308.3,407.6 308.5,408.7 308.7,404.6 308.9,403.9 309.1,408.3 309.3,402.2 309.5,404.6 309.7,401.4 309.9,405.2 310.1,401.2 310.3,403.4 310.5,401.8 310.7,402.3 310.9,403.2 311.2,403.8 311.4,405.4 311.6,401.0 311.8,404.5 312.0,404.6 312.2,403.2 312.4,408.3 312.6,408.3 312.8,412.2 313.0,410.7 313.2,412.1 313.4,413.0 313.6,415.4 313.8,419.1 314.0,415.9 314.2,419.0 314.4,414.1 314.6,413.9 314.9,415.2 315.1,409.5 315.3,408.8 315.5,410.8 315.7,413.1 315.9,408.3 316.1,409.7 316.3,411.9 316.5,411.5 316.7,417.5 316.9,418.1 317.1,417.8 317.4,419.8 317.6,419.6 317.8,420.5 318.0,419.8 318.2,422.3 318.4,424.3 318.6,425.0 318.8,422.2 319.1,421.5 319.3,413.9 319.5,414.3 319.7,411.3 319.9,415.6 320.1,411.5 320.3,416.4 320.5,416.4 320.7,412.5 320.9,415.4 321.1,415.5 321.3,418.7 321.5,423.4 321.7,420.2 321.9,421.8 322.1,425.6 322.3,422.5 322.5,425.4 322.7,425.2 322.9,421.4 323.1,419.7 323.3,419.9 323.5,421.9 323.7,421.3 323.9,414.9 324.1,414.5 324.3,413.7 324.5,413.6 324.7,416.0 324.9,416.2 325.1,418.5 325.3,420.8 325.5,419.2 325.7,420.9 325.9,425.5 326.2,424.6 326.4,423.0 326.6,424.3 326.8,429.9 327.0,429.1 327.2,428.4 327.4,433.2 327.6,429.3 327.8,428.7 328.0,429.8 328.2,430.0 328.4,423.8 328.6,423.7 328.8,419.9 329.0,419.7 329.2,416.7 329.4,413.5 329.6,417.6 329.8,414.9 330.0,415.8 330.2,416.5 330.4,418.7 330.6,417.5 330.8,417.0 331.0,416.2 331.2,415.0 331.4,419.2 331.5,414.6 331.7,417.3 331.9,418.1 332.1,420.4 332.3,421.3 332.5,420.6 332.7,423.9 332.9,424.2 333.1,418.4 333.3,420.9 333.5,424.8 333.7,423.8 333.9,424.0 334.1,425.7 334.3,421.8 334.5,424.1 334.7,425.5 334.9,425.9 335.1,422.7 335.3,428.9 335.5,424.3 335.7,426.2 335.9,423.0 336.1,426.8 336.3,427.0 336.5,425.0 336.8,420.3 337.0,422.0 337.2,422.6 337.4,421.3 337.6,417.4 337.8,420.6 338.0,416.6 338.2,417.7 338.4,415.0 338.6,414.9 338.8,415.4 339.0,414.8 339.2,410.7 339.4,408.4 339.6,408.8 339.8,411.3 340.0,411.3 340.2,410.4 340.4,407.2 340.6,409.0 340.8,405.5 341.0,404.2 341.2,404.7 341.4,406.0 341.6,403.8 341.8,405.3 342.0,400.9 342.2,403.0 342.4,405.2 342.6,405.0 342.8,402.9 343.0,407.3 343.2,403.3 343.4,406.5 343.6,406.3 343.8,404.3 344.0,403.4 344.1,404.2 344.3,404.4 344.5,403.2 344.7,403.8 344.9,403.0 345.1,405.5 345.3,403.6 345.5,402.2 345.7,404.3 345.9,408.2 346.1,402.5 346.3,404.3 346.5,406.0 346.7,409.4 346.9,408.6 347.1,411.3 347.3,408.6 347.5,408.0 347.7,410.4 347.9,408.6 348.1,413.5 348.3,412.8 348.5,409.5 348.7,410.0 348.9,413.3 349.1,414.1 349.3,414.8 349.5,414.2 349.7,413.7 349.9,419.7 350.2,420.4 350.4,423.6 350.6,425.0 350.8,425.5 351.0,424.8 351.2,423.4 351.4,425.8 351.6,428.6 351.8,432.1 352.0,431.6 352.2,434.1 352.4,431.9 352.6,433.8 352.8,435.8 353.0,438.1 353.2,436.4 353.4,442.1 353.6,441.2 353.8,440.5 354.0,443.7 354.2,441.6 354.4,440.2 354.6,439.3 354.8,438.2 355.0,433.3 355.2,433.6 355.4,430.9 355.6,433.6 355.8,430.0 356.0,431.8 356.2,428.7 356.4,428.8 356.6,430.6 356.8,429.5 357.0,426.2 357.2,427.0 357.4,429.1 357.6,423.9 357.8,427.1 358.0,424.7 358.2,423.6 358.4,420.6 358.7,417.9 358.9,420.7 359.1,420.5 359.3,419.6 359.5,413.8 359.7,417.0 359.9,414.5 360.1,414.5 360.3,414.6 360.5,415.0 360.7,415.1 360.9,416.8 361.1,413.7 361.3,418.4 361.5,416.8 361.7,414.5 361.9,415.1 362.1,415.5 362.3,413.0 362.4,415.0 362.6,416.3 362.8,414.7 363.0,412.5 363.2,410.2 363.4,415.0 363.6,412.3 363.8,415.6 364.0,412.5 364.2,413.6 364.4,413.7 364.6,415.6 364.8,416.7 365.0,413.4 365.2,416.8 365.4,413.2 365.6,413.1 365.8,416.7 366.0,421.3 366.2,421.5 366.4,424.0 366.6,423.8 366.8,422.5 367.0,420.7 367.2,423.4 367.4,421.5 367.6,423.6 367.8,425.5 368.0,425.0 368.2,424.4 368.4,426.8 368.6,422.4 368.8,426.0 369.0,427.5 369.2,422.7 369.4,423.9 369.6,428.5 369.8,426.9 370.0,420.9 370.2,420.5 370.5,424.7 370.7,423.6 370.9,423.3 371.1,423.0 371.3,422.1 371.5,424.2 371.7,419.4 371.9,421.1 372.1,424.3 372.3,425.4 372.5,424.5 372.7,423.6 372.9,419.6 373.1,419.0 373.3,419.5 373.5,419.3 373.7,421.4 373.9,421.0 374.1,420.8 374.3,418.3 374.5,414.9 374.7,417.9 374.9,415.8 375.1,414.8 375.2,415.8 375.4,419.2 375.6,415.1 375.8,415.2 376.0,418.5 376.2,417.3 376.4,413.9 376.6,411.9 376.8,415.9 377.0,415.2 377.2,412.0 377.4,413.7 377.6,414.0 377.8,410.1 378.0,411.8 378.2,415.4 378.4,416.0 378.6,415.3 378.8,413.1 379.0,418.2 379.2,414.8 379.4,418.7 379.6,418.8 379.8,419.5 380.0,420.4 380.2,419.8 380.4,423.1 380.6,419.2 380.8,419.1 381.0,419.1 381.2,420.1 381.4,422.4 381.7,423.6 381.9,421.0 382.1,420.9 382.3,422.3 382.5,423.9 382.7,422.2 382.9,425.2 383.1,426.0 383.3,423.6 383.5,422.6 383.7,424.2 383.9,426.9 384.1,423.8 384.3,423.0 384.5,425.1 384.7,431.2 384.9,429.5 385.1,432.6 385.3,432.5 385.5,433.5 385.7,433.0 385.9,432.1 386.1,435.2 386.3,431.1 386.5,435.0 386.7,434.2 386.9,435.3 387.1,430.4 387.3,432.7 387.5,434.7 387.7,430.0 387.9,428.1 388.1,432.3 388.3,428.6 388.5,429.1 388.7,426.4 388.9,429.8 389.1,427.0 389.3,429.8 389.5,430.3 389.7,427.6 389.9,430.4 390.1,428.7 390.3,426.1 390.5,426.6 390.7,427.7 390.9,424.7 391.2,425.3 391.4,424.0 391.6,426.6 391.8,425.4 392.0,423.6 392.2,421.8 392.4,422.4 392.6,426.1 392.8,424.5 393.0,425.3 393.2,425.3 393.4,423.9 393.6,424.2 393.8,420.4 394.0,416.8 394.2,418.3 394.4,414.3 394.6,417.9 394.8,417.2 395.0,416.2 395.2,416.3 395.4,415.9 395.6,418.5 395.8,416.5 395.9,414.5 396.1,414.6 396.3,412.6 396.5,409.2 396.7,410.6 396.9,413.2 397.1,410.7 397.3,413.1 397.5,415.0 397.7,415.6 397.9,414.6 398.1,412.5 398.3,414.3 398.5,417.9 398.7,417.3 398.9,415.8 399.1,415.3 399.3,416.2 399.5,417.3 399.7,415.0 399.9,421.7 400.1,419.7 400.3,417.4 400.5,421.6 400.7,422.4 400.9,423.6 401.1,423.1 401.3,424.7 401.5,426.4 401.7,426.6 401.9,423.4 402.1,425.9 402.4,429.7 402.6,428.0 402.8,424.7 403.0,428.2 403.2,424.4 403.4,424.8 403.6,427.2 403.8,426.6 404.0,427.7 404.2,426.9 404.4,428.0 404.6,427.3 404.8,426.9 405.0,422.4 405.2,425.7 405.4,421.4 405.6,420.5 405.8,422.9 406.0,418.2 406.2,418.6 406.4,420.5 406.6,420.6 406.8,418.9 407.0,423.8 407.2,422.8 407.4,419.8 407.6,420.7 407.8,419.7 408.0,422.1 408.2,418.3 408.4,419.2 408.6,422.2 408.8,420.3 409.0,421.7 409.2,424.0 409.4,424.6 409.6,422.5 409.8,421.5 410.0,423.2 410.1,425.3 410.3,422.8 410.5,424.6 410.7,425.5 410.9,424.7 411.1,424.4 411.3,423.5 411.5,424.4 411.7,421.6 411.9,424.5 412.1,425.7 412.3,423.6 412.5,422.9 412.7,421.1 412.9,420.2 413.1,423.4 413.3,422.5 413.5,422.4 413.7,424.1 413.9,418.7 414.2,421.8 414.4,417.1 414.6,420.7 414.8,422.4 415.0,420.1 415.2,422.6 415.4,422.6 415.6,423.0 415.8,419.6 416.0,419.8 416.2,420.1 416.4,419.6 416.6,419.6 416.8,416.6 417.0,418.1 417.2,420.2 417.4,416.8 417.6,418.5 417.8,422.7 418.0,422.3 418.2,418.9 418.4,419.8 418.6,419.6 418.8,420.3 419.0,424.2 419.2,424.1 419.4,421.4 419.6,422.4 419.8,425.0 420.0,424.2 420.2,420.1 420.4,426.1 420.6,422.8 420.8,423.7 421.0,423.2 421.2,425.0 421.4,424.3 421.6,422.1 421.8,420.6 422.1,421.8 422.3,424.7 422.5,421.5 422.7,426.0 422.9,426.4 423.1,421.7 423.3,420.7 423.5,418.4 423.7,421.2 423.9,419.3 424.1,421.7 424.3,420.6 424.5,421.7 424.7,421.3 424.9,420.2 425.1,419.5 425.3,418.0 425.5,419.4 425.7,419.3 425.9,419.0 426.1,416.5 426.3,419.3 426.5,417.2 426.7,417.3 426.9,417.1 427.1,420.1 427.3,419.4 427.5,418.9 427.7,418.1 427.9,416.9 428.1,415.1 428.3,416.6 428.5,416.6 428.7,417.9 428.9,415.9 429.1,416.2 429.3,416.7 429.5,418.9 429.7,420.5 429.9,419.1 430.1,419.2 430.2,415.7 430.4,417.2 430.6,422.0 430.8,420.6 431.0,419.9 431.2,419.2 431.4,423.4 431.6,423.1 431.8,422.7 432.0,422.3 432.2,424.1 432.4,424.9 432.6,421.9 432.8,423.9 433.0,427.4 433.2,425.1 433.4,424.4 433.6,426.9 433.9,424.2 434.1,426.9 434.3,425.6 434.5,422.6 434.7,425.4 434.9,424.2 435.1,428.5 435.3,429.3 435.5,429.3 435.7,427.7 435.9,431.2 436.1,428.3 436.3,431.0 436.5,428.3 436.7,429.7 436.9,432.5 437.1,428.7 437.3,429.5 437.4,434.0 437.6,433.4 437.8,429.9 438.0,430.6 438.2,432.5 438.4,433.3 438.6,437.6 438.8,435.5 439.0,435.9 439.2,432.3 439.4,436.1 439.6,438.3 439.8,434.2 440.0,436.1 440.2,437.9 440.4,440.1 440.6,440.0 440.8,438.4 441.0,439.1 441.2,442.9 441.4,440.2 441.6,447.9 441.8,444.6 442.0,445.1 442.2,451.3 442.4,449.9 442.6,450.1 442.8,451.5 443.0,456.1 443.2,455.7 443.4,457.1 443.6,453.2 443.8,454.4 444.0,456.6 444.2,456.6 444.4,459.9 444.6,461.1 444.8,462.1 445.0,464.3 445.1,462.9 445.3,467.0 445.5,466.5 445.7,469.5 445.9,468.8 446.1,471.1 446.3,473.5 446.5,476.8 446.7,476.9 446.9,476.6 447.1,476.7 447.4,472.7 447.6,475.0 447.8,478.8 448.0,478.7 448.2,475.0 448.4,479.9 448.6,474.0 448.8,477.2 449.0,478.4 449.2,476.9 449.4,480.4 449.6,475.2 449.8,477.6 450.0,476.9 450.2,476.9 450.4,481.2 450.6,477.4 450.8,477.4 451.0,475.8 451.2,475.4 451.4,475.0 451.6,479.0 451.8,476.3 452.1,471.6 452.3,475.5 452.5,472.7 452.7,474.9 452.9,475.9 453.1,477.0 453.3,475.0 453.5,472.8 453.7,473.1 453.9,475.2 454.1,473.9 454.3,478.0 454.6,476.9 454.8,479.0 455.0,479.8 455.2,475.3 455.4,476.7 455.6,477.8 455.8,483.2 456.0,481.5 456.2,481.2 456.4,477.2 456.6,478.9 456.8,476.7 457.0,475.7 457.2,471.9 457.4,474.9 457.6,473.9 457.8,475.8 458.0,474.8 458.2,474.7 458.5,471.7 458.7,472.5 458.9,475.0 459.1,475.6 459.3,477.5 459.5,476.2 459.7,472.2 459.9,473.4 460.1,474.0 460.3,474.9 460.5,470.4 460.7,466.7 460.9,471.1 461.1,469.6 461.3,467.2 461.5,466.4 461.7,471.1 461.9,468.2 462.1,466.8 462.3,471.0 462.5,468.5 462.6,470.8 462.8,472.2 463.0,469.3 463.2,474.6 463.4,470.2 463.6,469.6 463.8,473.1 464.0,468.5 464.2,467.8 464.4,471.9 464.6,472.1 464.8,470.5 465.0,471.6 465.2,473.4 465.4,473.5 465.6,469.2 465.8,473.4 466.0,472.1 466.2,474.2 466.4,477.1 466.6,477.6 466.8,474.4 467.0,476.4 467.2,475.3 467.4,476.7 467.6,478.7 467.8,479.3 468.0,479.3 468.2,478.4 468.4,481.1 468.6,481.6 468.8,477.7 469.0,479.2 469.2,478.2 469.4,479.3 469.7,479.8 469.9,482.3 470.1,480.2 470.3,480.2 470.5,482.9 470.7,482.8 470.9,482.9 471.1,485.4 471.3,483.1 471.5,482.5 471.7,486.9 471.9,487.5 472.1,484.4 472.3,483.6 472.5,483.6 472.7,484.0 472.9,486.4 473.1,485.1 473.3,482.7 473.5,485.5 473.7,486.7 473.9,484.1 474.2,481.3 474.4,484.1 474.6,484.1 474.8,487.7 475.0,483.8 475.2,487.6 475.4,486.8 475.6,484.7 475.8,482.4 476.0,486.1 476.2,483.0 476.4,485.5 476.6,488.1 476.8,488.0 477.0,483.8 477.2,484.9 477.4,484.9 477.6,487.0 477.8,493.6 478.0,488.5 478.2,488.5 478.4,490.0 478.6,490.3 478.8,488.2 479.0,490.4 479.2,488.1 479.4,489.9 479.6,490.3 479.8,486.7 480.0,489.0 480.2,487.0 480.4,488.4 480.6,486.3 480.8,490.6 481.0,491.5 481.2,487.2 481.4,492.1 481.6,491.8 481.8,492.1 482.0,487.5 482.2,487.8 482.4,488.6 482.5,490.2 482.7,494.2 482.9,495.7 483.1,493.9 483.3,492.6 483.5,494.5 483.7,495.1 483.9,497.6 484.1,498.3 484.3,500.8 484.5,496.7 484.7,498.9 484.9,498.9 485.1,498.2 485.3,498.0 485.5,500.4 485.7,503.0 485.9,500.4 486.1,498.6 486.4,498.3 486.6,499.2 486.8,504.0 487.0,501.8 487.2,504.5 487.4,505.8 487.6,502.7 487.8,503.9 488.0,503.4 488.2,507.7 488.4,506.7 488.6,502.5 488.8,505.8 489.0,506.2 489.2,503.4 489.4,501.3 489.6,502.5 489.8,501.7 490.0,502.8 490.2,503.8 490.4,500.0 490.6,499.8 490.8,495.8 491.0,496.3 491.2,499.3 491.4,496.8 491.6,496.1 491.8,494.5 492.0,493.9 492.2,497.0 492.4,495.1 492.6,497.7 492.8,495.3 493.0,497.3 493.2,497.3 493.4,497.6 493.6,496.2 493.8,495.0 494.0,492.9 494.2,493.1 494.4,493.2 494.6,492.9 494.7,494.2 494.9,494.9 495.1,490.3 495.3,494.2 495.5,493.1 495.7,492.8 495.9,494.9 496.1,489.4 496.3,490.6 496.5,490.2 496.7,493.6 496.9,489.1 497.1,491.2 497.3,487.2 497.5,489.0 497.7,487.8 497.9,486.3 498.1,489.5 498.3,489.5 498.5,484.1 498.7,485.7 498.9,484.5 499.2,486.7 499.4,484.6 499.6,486.6 499.8,485.8 500.0,485.9 500.2,485.8 500.4,486.1 500.6,486.6 500.8,488.0 501.0,487.5 501.2,488.9 501.4,486.7 501.6,485.6 501.8,487.7 502.0,487.4 502.2,485.9 502.4,487.1 502.6,484.0 502.8,489.4 503.0,485.2 503.2,485.7 503.4,489.9 503.6,490.2 503.8,491.4 504.0,491.2 504.2,491.1 504.4,491.1 504.6,490.3 504.8,488.0 505.0,490.1 505.2,490.7 505.4,491.2 505.6,488.9 505.8,488.7 506.0,490.8 506.2,488.4 506.4,489.6 506.6,489.9 506.8,491.0 507.0,486.9 507.2,485.1 507.4,487.6 507.7,486.1 507.9,484.8 508.1,484.0 508.3,485.8 508.5,488.9 508.7,490.7 508.9,488.7 509.1,485.8 509.3,483.5 509.5,487.8 509.7,487.3 509.9,488.3 510.1,485.9 510.3,486.1 510.5,485.0 510.7,486.7 510.9,484.6 511.1,487.4 511.3,485.6 511.6,483.7 511.8,486.3 512.0,485.6 512.2,487.9 512.4,483.5 512.6,484.1 512.8,485.9 513.0,483.3 513.2,484.3 513.4,485.7 513.6,484.2 513.8,483.8 514.0,484.5 514.2,481.6 514.4,483.1 514.6,483.4 514.8,486.1 515.0,486.7 515.2,486.7 515.4,485.9 515.6,487.8 515.8,488.1 516.0,484.8 516.2,486.1 516.4,489.6 516.6,489.5 516.8,490.4 517.0,491.5 517.2,490.1 517.4,490.2 517.6,486.6 517.8,488.3 518.0,482.7 518.2,486.1 518.4,484.1 518.6,482.9 518.8,486.9 518.9,482.3 519.1,484.8 519.3,484.1 519.5,481.0 519.7,484.6 519.9,480.4 520.1,483.9 520.3,483.9 520.5,480.8 520.7,481.8 520.9,481.8 521.1,483.9 521.3,480.2 521.5,479.8 521.7,478.1 521.9,477.5 522.1,476.8 522.3,479.1 522.5,478.6 522.7,477.2 522.9,480.0 523.1,477.7 523.3,480.0 523.5,478.1 523.8,475.2 524.0,474.8 524.2,477.8 524.4,481.0 524.6,475.7 524.8,480.6 525.0,477.7 525.2,480.8 525.4,483.8 525.6,483.4 525.8,480.8 526.0,478.2 526.2,482.6 526.4,482.3 526.6,482.7 526.8,481.4 527.0,479.6 527.2,479.0 527.4,481.2 527.6,480.3 527.8,482.0 528.0,479.2 528.2,482.5 528.4,481.1 528.6,479.5 528.8,479.3 529.0,484.5 529.2,484.3 529.4,484.7 529.6,482.7 529.8,485.1 530.0,479.7 530.2,483.6 530.4,485.3 530.6,481.9 530.8,481.0 531.0,481.9 531.2,481.0 531.4,485.2 531.6,483.5 531.8,481.6 532.0,480.4 532.2,484.3 532.4,481.5 532.6,481.0 532.8,481.7 533.0,485.0 533.2,486.6 533.4,484.7 533.6,484.4 533.8,485.0 534.0,481.2 534.2,483.1 534.4,480.6 534.6,484.0 534.8,485.8 535.0,484.2 535.3,481.5 535.5,484.4 535.7,480.9 535.9,484.6 536.1,481.8 536.3,484.6 536.5,485.7 536.7,485.6 536.9,487.1 537.1,486.4 537.3,486.9 537.5,485.4 537.7,483.4 537.9,485.3 538.1,488.8 538.3,486.5 538.5,486.3 538.7,486.7 539.0,484.0 539.2,485.1 539.4,486.4 539.6,489.3 539.8,490.1 540.0,489.0 540.2,488.1 540.4,489.6 540.6,485.8 540.8,490.3 541.0,489.6 541.2,489.3 541.4,487.3 541.6,491.0 541.8,489.5 542.0,488.0 542.2,490.2 542.4,489.0 542.6,486.5 542.8,486.2 543.0,489.6 543.2,487.1 543.4,486.1 543.6,488.7 543.8,484.0 544.0,487.5 544.2,484.3 544.4,485.4 544.6,485.4 544.8,483.3 545.0,484.4 545.2,483.0 545.4,480.8 545.6,483.4 545.8,485.5 546.0,486.5 546.2,482.2 546.4,482.9 546.6,481.9 546.8,480.5 547.1,479.4 547.3,482.6 547.5,479.5 547.7,480.9 547.9,479.9 548.1,479.3 548.3,479.1 548.5,477.6 548.7,480.5 548.9,478.8 549.1,480.4 549.3,478.9 549.5,477.5 549.7,474.9 549.9,473.9 550.1,476.0 550.3,476.9 550.5,476.1 550.7,477.9 550.9,475.8 551.1,477.0 551.3,476.1 551.5,475.3 551.7,475.9 551.8,476.4 552.0,474.5 552.2,471.5 552.4,474.6 552.6,475.5 552.8,472.8 553.0,476.4 553.2,473.6 553.4,471.4 553.6,475.5 553.8,474.0 554.0,470.3 554.2,470.4 554.4,471.0 554.6,471.7 554.8,471.3 555.0,471.7 555.2,467.0 555.4,468.5 555.6,468.8 555.8,471.3 556.0,473.4 556.2,470.1 556.4,474.8 556.6,471.8 556.8,469.9 557.0,468.6 557.2,471.4 557.4,470.3 557.7,470.0 557.9,468.0 558.1,472.0 558.3,469.1 558.5,471.4 558.7,469.0 558.9,468.9 559.1,468.7 559.3,467.3 559.5,469.1 559.7,468.4 559.9,470.1 560.1,467.2 560.3,462.9 560.5,468.9 560.7,463.6 560.9,463.0 561.1,465.3 561.3,463.6 561.5,467.6 561.7,465.8 561.9,464.4 562.1,464.5 562.3,466.4 562.5,464.0 562.7,466.0 562.9,463.5 563.2,464.5 563.4,463.9 563.6,466.6 563.8,468.9 564.0,466.2 564.2,469.5 564.4,468.2 564.6,470.2 564.8,471.0 565.0,468.6 565.2,470.2 565.4,469.5 565.6,471.4 565.8,467.3 566.0,470.4 566.2,466.7 566.4,467.0 566.6,468.7 566.8,466.5 567.0,468.8 567.2,467.2 567.4,470.3 567.6,467.1 567.8,469.0 568.0,471.0 568.2,467.7 568.4,469.5 568.6,466.7 568.8,463.7 569.0,463.1 569.2,463.2 569.4,462.0 569.6,464.1 569.8,463.2 570.0,459.5 570.2,460.5 570.4,459.4 570.6,458.5 570.8,462.1 571.1,458.8 571.3,459.5 571.5,454.6 571.7,456.7 571.9,453.9 572.1,454.9 572.3,453.6 572.5,453.2 572.7,457.5 572.9,456.1 573.1,456.1 573.3,456.8 573.5,457.7 573.7,458.2 573.9,456.7 574.1,458.8 574.3,457.0 574.5,458.6 574.7,459.3 574.9,459.8 575.1,459.4 575.3,458.3 575.5,456.1 575.7,454.2 575.9,452.6 576.1,455.1 576.3,452.8 576.5,455.1 576.7,455.0 576.9,454.8 577.1,453.0 577.3,454.7 577.5,456.6 577.7,460.7 577.9,456.4 578.1,459.9 578.3,460.7 578.5,461.1 578.7,458.2 578.9,457.8 579.1,462.5 579.3,457.7 579.6,459.9 579.8,462.8 580.0,461.8 580.2,461.3 580.4,461.3 580.6,458.6 580.8,460.8 581.0,458.7 581.2,461.5 581.4,462.2 581.6,463.8 581.8,463.1 582.0,464.4 582.2,463.6 582.4,460.0 582.6,465.1 582.8,463.0 583.0,461.5 583.2,463.2 583.3,461.3 583.5,460.6 583.7,459.4 583.9,457.1 584.1,456.9 584.3,456.8 584.5,455.4 584.7,457.8 584.9,455.0 585.1,456.6 585.3,452.3 585.5,455.5 585.7,453.7 586.0,451.1 586.2,453.6 586.4,449.6 586.6,449.4 586.8,449.5 587.0,447.9 587.2,450.0 587.4,450.3 587.6,447.9 587.8,450.0 588.0,447.5 588.2,450.1 588.5,450.9 588.7,452.6 588.9,449.7 589.1,453.8 589.3,452.4 589.5,454.8 589.7,454.3 589.9,454.8 590.1,458.6 590.3,457.1 590.5,457.9 590.8,460.9 591.0,463.1 591.2,465.8 591.4,462.1 591.6,464.7 591.8,466.2 592.0,468.7 592.2,468.3 592.4,471.0 592.6,469.8 592.8,469.6 593.0,469.8 593.2,468.9 593.4,474.4 593.5,473.5 593.7,477.0 593.9,474.4 594.1,477.2 594.3,478.8 594.5,476.1 594.7,476.3 594.9,482.1 595.1,483.3 595.3,481.0 595.5,478.2 595.7,479.3 595.9,478.9 596.1,483.8 596.3,482.0 596.5,479.4 596.7,481.4 596.9,478.4 597.1,478.2 597.3,474.7 597.5,476.1 597.7,476.7 597.9,475.7 598.1,476.9 598.3,474.0 598.5,475.2 598.7,473.8 598.9,474.5 599.1,475.1 599.3,470.4 599.5,473.2 599.7,474.1 599.9,471.8 600.1,470.8 600.3,471.7 600.5,471.2 600.7,470.3 600.9,471.0 601.1,473.9 601.3,471.8 601.5,467.3 601.7,470.9 601.9,471.5 602.1,469.0 602.3,466.8 602.5,471.6 602.7,467.0 602.9,468.3 603.1,468.6 603.3,468.8 603.5,464.3 603.7,467.9 603.9,465.0 604.1,468.5 604.3,467.7 604.5,468.7 604.7,465.6 604.9,466.7 605.1,468.1 605.3,465.2 605.5,464.3 605.7,464.4 605.9,467.1 606.1,465.2 606.3,462.0 606.5,460.9 606.7,463.6 606.9,463.3 607.1,462.6 607.3,462.6 607.5,459.9 607.7,463.0 607.9,461.5 608.1,461.9 608.3,463.1 608.5,463.2 608.7,464.0 608.9,466.5 609.1,462.9 609.3,466.4 609.5,465.0 609.7,462.1 609.9,460.7 610.1,465.3 610.3,463.8 610.5,466.6 610.7,463.9 610.9,466.0 611.1,467.0 611.3,463.7 611.5,461.9 611.7,467.5 611.9,469.3 612.1,470.2 612.3,471.1 612.5,467.8 612.7,470.7 612.9,472.6 613.1,471.1 613.3,469.9 613.5,472.8 613.7,471.8 613.9,472.8 614.1,472.6 614.3,470.1 614.6,472.6 614.8,470.4 615.0,472.0 615.2,467.9 615.4,470.7 615.6,471.5 615.8,470.8 616.0,469.3 616.2,468.6 616.4,467.6 616.6,468.2 616.8,467.4 617.0,471.9 617.1,468.1 617.3,466.4 617.5,473.1 617.7,470.2 617.9,472.8 618.1,472.1 618.3,475.7 618.5,473.4 618.7,475.7 618.9,476.6 619.1,475.2 619.3,472.8 619.5,476.8 619.7,476.2 619.9,477.6 620.1,476.9 620.3,476.5 620.5,474.8 620.7,475.5 620.9,476.5 621.1,475.4 621.3,472.4 621.5,471.1 621.7,468.8 621.9,470.5 622.1,467.4 622.3,467.0 622.5,464.8 622.7,468.6 622.9,467.4 623.1,471.1 623.4,469.1 623.6,471.1 623.8,476.1 624.0,472.3 624.2,471.2 624.4,472.8 624.6,470.4 624.8,469.7 625.0,472.5 625.2,474.1 625.4,474.6 625.6,474.9 625.8,470.3 626.0,470.4 626.2,471.2 626.4,471.9 626.6,472.8 626.8,472.9 627.0,470.7 627.2,471.0 627.4,470.4 627.6,470.1 627.8,473.0 628.0,469.6 628.2,473.0 628.4,471.0 628.6,473.5 628.8,473.5 629.0,473.3 629.2,476.4 629.4,474.9 629.6,474.4 629.8,473.8 630.0,473.7 630.2,474.5 630.4,472.7 630.6,472.7 630.8,471.9 631.0,470.7 631.2,472.9 631.4,469.2 631.6,470.1 631.8,472.2 632.0,470.2 632.2,472.4 632.4,470.9 632.6,467.1 632.8,466.6 633.0,467.8 633.2,467.2 633.4,468.2 633.6,467.1 633.8,464.4 634.0,467.4 634.2,468.3 634.4,468.3 634.6,464.9 634.8,467.2 635.0,467.4 635.2,470.8 635.4,471.4 635.6,468.3 635.8,472.3 636.0,475.3 636.2,471.6 636.4,475.8 636.6,475.2 636.8,475.4 637.0,472.2 637.2,474.3 637.5,476.9 637.7,479.5 637.9,478.1 638.1,476.9 638.3,476.2 638.5,480.7 638.7,478.7 638.9,481.4 639.1,483.5 639.3,480.0 639.4,486.1 639.6,487.0 639.8,487.4 640.0,485.0 640.2,487.8 640.4,501.2 640.6,503.7 640.8,504.4 641.0,501.9 641.2,502.5 641.4,504.2 641.5,504.7 641.7,504.6 641.9,504.5 642.1,504.3 642.3,506.5 642.5,508.2 642.7,504.3 642.9,508.0 643.1,506.6 643.3,510.6 643.5,509.4 643.7,512.4 643.9,510.9 644.1,510.5 644.3,515.5 644.5,510.8 644.7,512.9 644.9,512.9 645.1,514.8 645.3,512.2 645.5,512.2 645.7,510.8 645.9,512.8 646.1,509.8 646.3,508.1 646.5,507.1 646.7,507.7 646.9,505.1 647.1,506.9 647.3,505.2 647.5,503.6 647.7,503.2 647.9,500.5 648.1,501.0 648.3,496.6 648.5,495.6 648.7,494.6 648.9,498.6 649.1,495.3 649.3,496.4 649.5,494.5 649.7,498.5 649.9,494.0 650.1,496.0 650.3,495.3 650.5,493.8 650.6,497.8 650.8,496.9 651.0,495.6 651.2,493.5 651.4,496.9 651.6,496.3 651.8,495.1 652.0,493.4 652.2,497.2 652.4,497.5 652.6,495.1 652.8,495.8 653.0,492.0 653.2,494.2 653.4,493.8 653.6,492.1 653.8,496.2 654.0,493.5 654.2,498.6 654.5,498.0 654.7,497.8 654.9,495.6 655.1,495.3 655.3,497.8 655.5,494.7 655.7,494.0 655.9,495.4 656.1,496.1 656.3,492.4 656.5,492.6 656.7,493.5 656.9,491.3 657.1,490.5 657.3,491.3 657.5,492.5 657.7,493.4 657.9,489.9 658.1,494.3 658.3,496.0 658.5,492.8 658.6,491.6 658.8,497.2 659.0,495.1 659.2,495.9 659.4,495.0 659.6,496.4 659.8,498.4 660.0,494.7 660.2,495.1 660.4,494.2 660.6,492.2 660.8,492.9 661.0,492.3 661.2,494.7 661.4,491.8 661.6,491.0 661.8,490.3 662.0,489.5 662.2,494.1 662.5,493.8 662.7,490.7 662.9,492.2 663.1,490.9 663.3,495.1 663.5,490.2 663.7,491.2 663.9,494.1 664.1,490.7 664.3,491.4 664.5,493.4 664.7,492.3 664.9,494.3 665.1,497.1 665.3,494.2 665.5,494.0 665.7,495.7 665.9,492.4 666.2,491.2 666.4,489.9 666.6,492.3 666.8,493.1 667.0,491.7 667.2,491.2 667.4,491.3 667.6,486.9 667.8,488.7 668.0,489.8 668.2,486.6 668.4,489.5 668.6,490.3 668.8,490.0 669.0,485.5 669.2,486.2 669.4,489.2 669.6,485.8 669.8,484.6 670.0,488.9 670.2,485.5 670.4,484.9 670.6,482.2 670.8,481.4 671.0,480.4 671.2,479.4 671.4,479.8 671.6,479.6 671.8,478.9 672.0,478.3 672.2,480.1 672.4,480.7 672.6,480.3 672.8,479.6 673.0,477.2 673.2,478.6 673.4,478.2 673.6,476.0 673.8,475.7 674.0,474.6 674.2,474.9 674.4,473.6 674.5,471.6 674.7,471.6 674.9,473.3 675.1,470.9 675.3,466.4 675.5,468.0 675.7,469.9 675.9,468.3 676.1,468.4 676.3,469.3 676.5,467.8 676.7,463.7 676.9,466.0 677.1,464.4 677.3,465.2 677.5,467.5 677.7,468.1 677.9,469.4 678.1,468.9 678.3,467.0 678.6,468.1 678.8,469.2 679.0,468.0 679.2,470.1 679.4,471.6 679.6,470.5 679.8,469.4 680.0,471.0 680.2,468.3 680.4,468.0 680.6,466.4 680.8,468.3 681.0,465.7 681.2,470.2 681.4,465.1 681.6,469.2 681.8,464.8 682.0,469.5 682.2,470.2 682.4,466.2 682.6,467.9 682.8,466.4 683.0,465.3 683.2,467.7 683.4,467.5 683.6,465.4 683.8,463.4 684.0,464.0 684.2,468.0 684.4,464.7 684.6,467.4 684.8,469.1 685.0,467.5 685.2,465.5 685.4,466.8 685.6,465.7 685.8,468.9 686.0,464.8 686.1,465.4 686.3,466.8 686.5,465.4 686.7,463.7 686.9,465.4 687.1,464.2 687.3,464.5 687.5,464.9 687.7,460.5 687.9,461.5 688.1,460.3 688.3,463.2 688.5,458.9 688.7,456.7 688.9,458.0 689.1,458.2 689.3,458.5 689.5,457.9 689.7,457.5 689.9,459.4 690.2,459.2 690.4,456.9 690.6,459.2 690.8,458.8 691.0,459.0 691.2,459.1 691.4,460.1 691.6,460.2 691.8,462.9 692.0,458.5 692.2,458.6 692.4,460.1 692.6,459.2 692.8,458.1 693.0,462.2 693.1,458.3 693.3,457.2 693.5,461.0 693.7,463.5 693.9,465.3 694.1,463.5 694.3,462.3 694.5,463.2 694.7,462.6 694.9,462.4 695.1,463.0 695.3,464.5 695.5,466.4 695.7,465.1 695.9,463.7 696.1,465.3 696.3,462.5 696.5,461.2 696.7,461.6 696.9,457.1 697.1,460.5 697.3,461.1 697.5,460.0 697.7,455.8 697.9,459.4 698.0,454.1 698.2,454.1 698.4,455.2 698.6,453.8 698.8,451.2 699.0,453.0 699.2,453.6 699.4,452.3 699.6,450.8 699.8,451.0 700.0,451.1 700.2,449.1 700.4,449.3 700.6,449.9 700.8,447.2 701.0,448.8 701.2,448.2 701.4,447.1 701.6,451.4 701.8,447.2 702.0,449.5 702.2,446.5 702.4,449.5 702.6,450.5 702.8,454.0 703.0,452.2 703.1,452.5 703.3,448.6 703.5,450.3 703.7,455.1 703.9,451.4 704.1,449.1 704.3,450.3 704.5,451.4 704.7,452.9 704.9,453.1 705.2,456.4 705.4,458.8 705.6,460.5 705.8,460.9 706.0,456.3 706.2,456.6 706.4,453.7 706.6,455.4 706.8,456.1 707.1,455.9 707.3,455.3 707.5,450.7 707.7,451.4 707.9,452.1 708.1,450.2 708.3,451.2 708.5,447.3 708.7,449.0 708.9,447.6 709.1,447.9 709.3,445.7 709.5,446.9 709.7,446.2 709.9,446.6 710.0,446.3 710.2,442.6 710.4,440.5 710.6,440.8 710.8,440.4 711.0,440.3 711.2,441.4 711.4,441.4 711.6,442.5 711.8,436.7 712.0,436.3 712.2,438.6 712.4,437.4 712.6,434.1 712.8,435.8 713.0,430.5 713.2,428.8 713.4,429.0 713.6,425.9 713.8,427.8 714.0,425.7 714.2,414.4 714.4,399.9 714.6,403.7 714.8,408.6 715.0,410.2 715.2,408.0 715.4,412.9 715.6,415.0" fill="none" stroke="#7b9dc3" stroke-width="3.3" stroke-linejoin="round" stroke-linecap="round" opacity="1" />
<polyline points="152.5,482.0 152.7,478.0 152.9,482.7 153.1,481.8 153.3,476.2 153.5,478.2 153.7,476.1 153.9,476.4 154.1,479.1 154.3,475.6 154.5,477.1 154.7,471.8 154.9,471.6 155.1,475.2 155.3,473.0 155.5,473.5 155.7,475.5 155.9,475.7 156.1,475.2 156.3,473.8 156.5,477.7 156.7,478.2 156.9,478.4 157.1,476.2 157.3,473.9 157.5,476.1 157.7,474.4 157.9,476.3 158.1,473.3 158.3,474.2 158.5,474.0 158.7,475.5 158.9,472.7 159.1,473.3 159.3,471.6 159.6,471.6 159.8,472.4 160.0,475.3 160.2,471.6 160.4,473.5 160.6,468.8 160.8,472.0 161.0,469.0 161.2,472.1 161.4,471.5 161.6,468.0 161.8,470.1 162.0,473.5 162.2,470.2 162.4,473.9 162.6,472.9 162.8,473.7 163.0,474.4 163.2,471.9 163.4,472.4 163.6,470.7 163.8,471.6 164.0,472.7 164.2,469.7 164.4,474.7 164.6,472.3 164.8,471.7 165.0,471.4 165.2,474.2 165.4,471.5 165.6,471.1 165.8,472.6 166.0,472.5 166.2,467.5 166.4,469.6 166.6,469.5 166.8,466.1 167.0,464.2 167.2,465.1 167.4,463.4 167.6,464.8 167.8,462.2 168.0,461.6 168.2,461.6 168.4,464.8 168.6,465.1 168.8,465.5 169.0,466.0 169.2,464.0 169.4,460.9 169.6,461.8 169.8,461.1 170.0,459.1 170.2,461.9 170.4,459.4 170.6,459.2 170.8,460.6 171.0,463.4 171.2,459.8 171.4,461.1 171.6,460.2 171.8,462.2 172.0,462.4 172.2,465.0 172.4,462.5 172.6,463.8 172.8,463.2 173.0,465.2 173.1,463.1 173.3,464.0 173.5,462.5 173.7,462.8 173.9,462.6 174.1,462.9 174.3,463.6 174.5,462.7 174.7,462.2 174.9,464.0 175.1,463.6 175.3,464.6 175.5,461.3 175.7,460.4 175.9,458.8 176.1,463.2 176.3,460.6 176.5,456.8 176.8,461.3 177.0,461.7 177.2,461.3 177.4,457.2 177.6,458.8 177.8,454.9 178.0,452.8 178.2,455.8 178.4,454.3 178.6,450.4 178.8,451.4 179.0,455.9 179.2,455.0 179.4,452.1 179.6,455.7 179.7,454.7 179.9,454.7 180.1,456.0 180.3,456.4 180.5,457.9 180.7,455.7 180.9,454.7 181.1,451.1 181.3,447.4 181.5,445.2 181.8,444.2 182.0,442.6 182.2,442.0 182.4,436.3 182.6,433.8 182.8,433.3 183.0,432.0 183.2,436.9 183.4,435.2 183.6,435.1 183.8,439.0 184.0,438.8 184.2,441.0 184.5,438.9 184.7,437.9 184.9,439.0 185.1,442.4 185.3,445.2 185.5,445.2 185.7,445.4 185.9,442.2 186.1,442.3 186.3,443.9 186.5,443.3 186.8,441.5 187.0,438.1 187.2,439.0 187.4,438.3 187.6,436.6 187.8,433.8 188.0,437.5 188.2,433.4 188.4,435.5 188.6,436.4 188.8,435.9 189.0,438.9 189.2,437.8 189.4,438.9 189.6,440.4 189.8,441.8 190.1,446.3 190.3,442.9 190.5,443.1 190.7,444.4 190.9,443.0 191.1,443.4 191.3,444.2 191.5,441.2 191.7,445.5 191.9,443.8 192.1,441.8 192.3,439.7 192.5,442.4 192.7,439.3 192.9,440.5 193.2,436.4 193.4,436.1 193.6,433.7 193.8,435.7 194.0,434.5 194.2,431.6 194.4,434.2 194.6,434.2 194.8,429.2 195.0,431.5 195.2,427.9 195.4,425.7 195.7,424.6 195.9,424.1 196.1,421.4 196.3,420.9 196.5,421.7 196.7,424.7 196.9,421.3 197.1,419.9 197.3,419.0 197.5,423.2 197.7,420.7 197.9,419.2 198.2,418.1 198.4,413.0 198.6,413.9 198.8,415.5 199.0,411.2 199.2,411.4 199.4,410.1 199.6,410.7 199.8,408.0 200.0,408.8 200.2,402.6 200.4,405.4 200.6,404.0 200.8,403.8 200.9,404.5 201.1,400.0 201.3,401.8 201.5,404.0 201.7,401.9 201.9,399.7 202.1,401.2 202.3,400.0 202.5,396.5 202.7,392.7 202.9,395.5 203.1,394.7 203.3,394.9 203.6,390.6 203.8,391.3 204.0,392.6 204.2,390.5 204.4,391.7 204.6,391.7 204.8,389.4 205.0,388.5 205.2,388.0 205.4,387.4 205.6,386.3 205.8,388.4 206.1,386.7 206.3,383.0 206.5,385.9 206.7,381.8 206.9,384.4 207.1,379.8 207.3,385.0 207.5,381.3 207.7,385.8 207.9,388.7 208.1,391.9 208.3,393.4 208.5,392.5 208.7,395.4 208.9,398.9 209.1,400.9 209.3,403.2 209.5,402.1 209.8,404.5 210.0,406.3 210.2,409.0 210.4,409.5 210.6,411.6 210.8,412.3 211.0,410.6 211.2,412.3 211.4,410.9 211.6,414.8 211.8,414.8 212.0,419.0 212.2,416.3 212.4,416.8 212.6,412.9 212.8,411.9 213.0,414.4 213.2,413.0 213.4,416.6 213.7,412.9 213.9,411.2 214.1,415.1 214.3,412.3 214.5,411.6 214.7,412.1 214.9,410.5 215.1,414.1 215.2,419.6 215.4,424.8 215.6,426.9 215.8,429.7 216.0,430.8 216.2,431.4 216.4,438.6 216.6,442.0 216.8,441.4 217.0,450.0 217.2,449.3 217.4,454.9 217.6,458.6 217.8,463.7 218.0,467.1 218.2,464.8 218.4,466.6 218.6,468.4 218.9,473.9 219.1,472.3 219.3,476.0 219.5,475.6 219.7,478.2 219.9,481.8 220.1,483.9 220.3,481.2 220.5,484.3 220.7,483.2 220.9,482.4 221.2,483.5 221.4,485.2 221.6,487.6 221.8,494.5 222.0,493.8 222.2,495.6 222.4,496.8 222.6,499.3 222.8,496.0 223.0,495.9 223.1,500.0 223.3,496.4 223.5,500.9 223.7,500.1 223.9,502.4 224.1,503.5 224.3,501.9 224.5,502.2 224.7,501.5 224.9,499.5 225.1,499.3 225.3,503.1 225.6,501.1 225.8,499.9 226.0,496.3 226.2,495.7 226.4,491.9 226.6,489.7 226.8,494.5 227.0,494.6 227.2,497.3 227.4,495.4 227.6,495.0 227.8,498.2 228.0,499.4 228.2,498.3 228.4,498.5 228.6,501.2 228.8,502.0 229.0,501.9 229.2,505.3 229.4,505.4 229.6,503.6 229.8,502.6 230.0,502.3 230.2,500.4 230.4,500.1 230.6,497.9 230.8,496.5 231.0,493.9 231.2,494.4 231.4,494.5 231.6,496.0 231.8,496.2 232.0,493.2 232.2,493.0 232.4,489.1 232.6,492.6 232.8,489.3 233.0,489.4 233.2,490.8 233.4,491.1 233.6,485.5 233.8,490.9 234.0,486.7 234.1,491.0 234.3,489.8 234.5,485.3 234.7,487.3 234.9,486.0 235.1,485.6 235.3,485.9 235.5,484.5 235.7,485.2 235.9,484.2 236.1,485.4 236.3,482.2 236.5,479.5 236.7,477.1 236.9,481.9 237.1,475.7 237.3,477.7 237.6,476.6 237.8,474.4 238.0,476.8 238.2,478.3 238.4,475.5 238.6,475.5 238.8,479.1 239.0,475.1 239.2,476.7 239.4,474.3 239.6,475.4 239.8,469.9 240.0,470.4 240.2,470.8 240.4,470.1 240.7,466.6 240.9,469.8 241.1,466.4 241.3,464.4 241.5,463.7 241.7,465.0 241.9,464.5 242.1,464.8 242.3,462.3 242.5,464.9 242.7,467.2 242.9,468.8 243.1,467.0 243.3,465.0 243.5,469.0 243.8,467.6 244.0,471.2 244.2,473.3 244.4,475.6 244.6,470.7 244.8,472.5 245.0,471.8 245.2,474.4 245.4,470.7 245.6,473.6 245.8,472.0 246.0,472.6 246.2,470.1 246.4,465.7 246.6,469.7 246.8,464.7 246.9,466.2 247.1,467.5 247.3,463.4 247.5,464.3 247.7,464.0 247.9,462.7 248.1,461.4 248.3,460.4 248.5,463.2 248.7,458.8 248.9,463.3 249.1,464.6 249.3,463.2 249.5,463.7 249.7,459.9 249.9,460.9 250.1,462.2 250.3,460.3 250.5,463.5 250.7,463.6 250.9,464.8 251.1,465.2 251.3,463.6 251.5,468.0 251.7,467.5 251.9,466.2 252.1,466.4 252.3,470.2 252.5,466.9 252.7,464.0 252.9,461.9 253.1,463.4 253.3,461.0 253.5,465.1 253.7,462.9 253.9,459.1 254.0,458.7 254.2,455.8 254.4,456.2 254.6,457.0 254.8,457.5 255.0,453.9 255.2,457.1 255.4,453.4 255.6,452.9 255.8,455.5 256.0,452.8 256.2,453.7 256.4,453.4 256.6,455.4 256.8,455.2 257.0,458.7 257.2,458.4 257.4,458.9 257.6,458.1 257.8,460.3 258.0,458.4 258.2,460.8 258.4,463.5 258.6,458.4 258.8,462.8 259.0,464.3 259.2,461.6 259.4,460.8 259.6,464.8 259.8,460.5 260.0,462.6 260.2,462.9 260.4,462.1 260.6,461.4 260.8,462.4 261.0,460.0 261.2,459.8 261.5,455.6 261.7,456.5 261.9,459.1 262.1,456.8 262.3,454.4 262.5,454.7 262.7,457.4 262.9,453.6 263.1,454.2 263.3,452.5 263.5,448.8 263.7,453.6 263.9,451.1 264.1,453.7 264.3,450.9 264.5,451.5 264.7,453.2 264.9,454.0 265.1,453.8 265.4,459.2 265.6,455.1 265.8,457.6 266.0,459.0 266.2,460.4 266.4,462.0 266.6,463.1 266.8,459.2 267.0,462.5 267.2,462.3 267.4,460.4 267.6,462.2 267.8,461.1 268.0,460.8 268.2,456.3 268.4,457.4 268.6,456.7 268.8,454.9 269.0,454.3 269.2,453.7 269.4,457.4 269.6,452.6 269.8,452.9 270.0,453.6 270.2,452.8 270.4,452.1 270.6,453.1 270.8,447.3 271.0,449.2 271.2,451.8 271.4,451.1 271.6,447.7 271.8,446.3 272.0,444.5 272.2,447.6 272.4,445.2 272.6,444.7 272.8,446.2 272.9,443.4 273.1,446.1 273.3,448.3 273.5,447.6 273.7,452.3 273.9,447.6 274.1,448.4 274.3,446.7 274.5,445.2 274.7,447.8 274.9,453.8 275.1,452.3 275.3,454.3 275.6,456.4 275.8,462.1 276.0,464.7 276.2,461.7 276.4,466.5 276.6,464.4 276.8,466.3 277.0,463.3 277.2,460.9 277.4,461.2 277.6,459.4 277.8,461.6 278.0,461.0 278.2,457.8 278.4,459.6 278.5,462.1 278.7,460.6 278.9,458.0 279.1,460.9 279.3,458.6 279.5,458.7 279.7,462.0 279.9,459.4 280.1,458.3 280.3,457.2 280.5,456.2 280.7,458.4 280.9,455.0 281.1,457.1 281.3,458.5 281.5,454.4 281.7,454.2 281.9,453.2 282.1,452.7 282.3,451.8 282.5,453.4 282.8,455.5 283.0,451.3 283.2,453.4 283.4,451.3 283.6,451.4 283.8,455.5 284.0,454.4 284.2,452.9 284.4,454.0 284.6,451.4 284.8,451.8 285.0,452.3 285.2,453.4 285.4,454.1 285.6,454.4 285.9,452.6 286.1,455.2 286.3,458.8 286.5,461.9 286.7,463.0 286.9,463.4 287.1,465.1 287.3,461.4 287.5,461.2 287.7,461.9 287.9,463.0 288.0,458.5 288.2,461.2 288.4,457.1 288.6,454.3 288.8,452.9 289.0,457.8 289.2,453.6 289.4,452.5 289.6,453.7 289.8,457.9 290.0,459.0 290.2,460.2 290.4,460.8 290.6,457.9 290.8,459.1 291.0,458.6 291.2,459.4 291.4,457.1 291.6,460.0 291.8,456.4 292.1,454.5 292.3,459.0 292.5,454.8 292.7,454.1 292.9,452.5 293.1,451.5 293.3,451.9 293.5,452.8 293.7,451.5 293.9,446.7 294.1,447.8 294.3,446.6 294.5,449.0 294.7,449.0 294.9,447.8 295.1,445.2 295.3,444.7 295.5,443.0 295.7,445.2 295.9,449.1 296.1,448.0 296.3,445.1 296.5,446.7 296.7,449.0 296.9,447.8 297.0,445.3 297.2,441.7 297.4,442.0 297.6,441.7 297.8,446.7 298.0,446.3 298.2,445.5 298.4,446.0 298.6,442.6 298.8,445.7 299.0,441.7 299.2,441.1 299.4,444.1 299.6,439.9 299.8,443.1 300.0,439.0 300.2,440.6 300.4,440.1 300.6,440.3 300.8,442.5 301.0,445.3 301.2,446.6 301.4,449.0 301.6,447.4 301.8,450.2 302.1,446.9 302.3,448.0 302.5,448.7 302.7,447.4 302.9,446.3 303.1,447.6 303.3,447.4 303.5,450.6 303.7,451.8 303.9,450.1 304.1,446.9 304.3,449.4 304.5,447.7 304.7,443.8 304.9,445.3 305.1,442.0 305.3,439.7 305.5,439.1 305.7,438.2 305.9,437.7 306.1,433.2 306.3,437.2 306.5,430.7 306.7,430.7 306.9,429.2 307.1,431.8 307.3,427.2 307.5,427.9 307.7,429.6 307.9,423.6 308.1,425.0 308.3,424.7 308.5,425.5 308.7,427.2 308.9,427.0 309.2,425.4 309.4,424.3 309.6,421.7 309.8,424.0 310.0,422.7 310.2,422.5 310.4,419.1 310.6,421.2 310.8,416.8 311.0,419.2 311.2,414.4 311.4,418.7 311.6,419.1 311.8,422.8 312.0,423.8 312.2,422.1 312.4,429.5 312.6,431.2 312.8,428.3 313.0,429.1 313.2,434.3 313.4,430.6 313.6,433.8 313.8,433.3 314.0,435.4 314.2,434.5 314.4,439.0 314.6,436.7 314.8,436.2 315.0,438.5 315.2,438.2 315.4,435.5 315.6,432.9 315.8,435.9 316.0,434.5 316.2,436.1 316.4,432.6 316.6,435.0 316.8,438.6 317.0,436.4 317.2,433.0 317.4,435.6 317.6,435.2 317.8,437.5 318.1,436.2 318.3,434.1 318.5,436.9 318.7,436.9 318.9,432.9 319.1,433.1 319.3,433.1 319.5,433.3 319.7,433.8 319.9,439.1 320.1,441.3 320.3,441.1 320.5,445.0 320.8,443.6 321.0,444.8 321.2,447.1 321.4,450.3 321.6,455.4 321.8,453.0 322.0,455.9 322.2,455.0 322.4,451.8 322.6,448.8 322.8,452.4 323.0,450.7 323.2,448.8 323.4,447.4 323.6,448.1 323.8,445.2 324.0,446.7 324.2,442.5 324.4,449.9 324.6,449.7 324.8,450.9 325.0,451.3 325.2,451.9 325.4,450.4 325.6,448.1 325.8,453.9 326.0,454.8 326.2,453.0 326.4,451.6 326.6,456.0 326.8,454.0 327.0,454.8 327.2,456.0 327.4,459.5 327.6,459.5 327.8,455.6 328.0,455.1 328.2,455.0 328.4,451.7 328.6,451.2 328.8,450.9 329.0,450.0 329.2,445.2 329.4,448.2 329.6,447.3 329.8,446.5 330.0,441.2 330.2,441.6 330.4,443.3 330.6,438.1 330.8,439.1 330.9,439.9 331.1,437.0 331.3,432.8 331.5,435.1 331.7,431.4 331.9,429.3 332.1,433.2 332.3,427.8 332.5,431.4 332.7,430.5 332.9,429.4 333.1,430.9 333.3,430.5 333.5,434.4 333.7,433.9 333.9,432.1 334.1,433.7 334.3,434.0 334.5,432.4 334.7,431.0 334.9,434.2 335.1,436.9 335.3,439.7 335.5,436.9 335.7,435.0 335.9,438.4 336.1,435.3 336.3,434.0 336.5,438.0 336.7,433.1 336.9,432.3 337.1,433.9 337.4,433.7 337.6,433.2 337.8,430.9 338.0,435.5 338.2,431.2 338.4,429.9 338.6,433.5 338.8,429.3 339.0,429.2 339.2,429.1 339.4,428.4 339.6,431.7 339.8,426.9 340.0,427.3 340.2,425.0 340.4,428.1 340.6,428.9 340.8,426.7 341.0,424.3 341.2,425.0 341.4,423.9 341.6,424.2 341.8,423.7 342.0,420.6 342.2,420.1 342.4,423.9 342.6,422.0 342.8,424.5 343.0,422.3 343.2,423.9 343.4,422.6 343.6,422.2 343.8,423.3 344.0,424.8 344.2,423.1 344.4,426.6 344.6,423.7 344.8,422.4 345.0,425.3 345.1,423.8 345.3,423.2 345.5,425.7 345.7,426.4 345.9,424.5 346.1,424.6 346.3,422.4 346.5,422.8 346.7,425.8 346.9,425.3 347.1,426.9 347.3,424.9 347.5,425.2 347.7,425.8 347.9,424.2 348.1,427.0 348.3,429.6 348.5,428.8 348.7,431.1 348.9,427.0 349.1,427.9 349.3,427.5 349.6,430.7 349.8,436.1 350.0,434.5 350.2,434.6 350.4,438.5 350.6,436.4 350.8,440.1 351.0,439.5 351.2,442.5 351.4,438.8 351.6,439.3 351.8,438.9 352.0,441.2 352.2,445.0 352.4,443.1 352.6,447.1 352.8,447.2 353.0,448.9 353.2,447.9 353.4,453.6 353.6,453.2 353.8,457.1 354.0,459.4 354.2,456.3 354.4,456.5 354.6,452.9 354.8,456.6 355.0,454.5 355.2,452.1 355.4,453.6 355.6,453.7 355.8,450.3 356.0,449.2 356.2,446.9 356.4,446.0 356.6,446.6 356.8,445.2 357.0,442.5 357.2,445.2 357.4,444.3 357.6,442.6 357.8,447.4 358.0,446.0 358.2,446.6 358.4,443.8 358.7,442.8 358.9,446.0 359.1,441.2 359.3,440.4 359.5,442.7 359.7,440.1 359.9,438.3 360.1,435.6 360.3,434.8 360.5,434.1 360.7,436.1 360.9,434.0 361.1,436.9 361.3,435.5 361.5,439.7 361.7,437.7 361.9,433.4 362.1,435.3 362.3,431.9 362.5,434.8 362.7,433.5 362.9,432.7 363.1,434.2 363.3,437.8 363.5,433.6 363.7,438.3 363.9,434.9 364.1,434.6 364.3,436.2 364.5,439.8 364.7,439.6 364.9,439.0 365.1,443.4 365.3,440.0 365.4,444.5 365.6,445.0 365.8,447.6 366.0,447.7 366.2,447.1 366.4,447.1 366.6,448.0 366.8,449.1 367.0,446.9 367.2,449.9 367.4,448.8 367.6,449.4 367.8,451.5 368.0,450.6 368.2,449.0 368.4,446.6 368.6,447.1 368.8,449.6 369.0,447.6 369.2,445.5 369.4,447.1 369.6,444.5 369.8,444.1 370.0,445.2 370.2,442.6 370.5,446.0 370.7,445.8 370.9,443.4 371.1,444.8 371.3,443.5 371.5,442.6 371.7,441.1 371.9,442.1 372.1,442.7 372.3,445.4 372.5,442.9 372.7,439.7 372.9,442.7 373.1,440.0 373.3,438.1 373.5,438.6 373.7,441.3 373.9,438.0 374.1,439.7 374.3,441.0 374.5,438.4 374.7,438.1 374.9,435.8 375.1,437.4 375.2,436.4 375.4,435.1 375.6,435.7 375.8,433.4 376.0,435.8 376.2,434.5 376.4,437.7 376.6,433.5 376.8,436.3 377.0,436.1 377.2,436.5 377.4,438.0 377.6,434.4 377.8,434.0 378.0,433.2 378.2,433.1 378.4,437.5 378.6,437.9 378.8,436.4 379.0,436.4 379.2,437.4 379.4,432.6 379.6,437.2 379.8,439.4 380.0,436.6 380.2,440.6 380.4,439.2 380.6,441.8 380.8,440.1 381.0,443.2 381.2,441.3 381.4,439.8 381.6,441.0 381.8,442.5 382.0,443.4 382.2,443.3 382.4,441.1 382.6,445.4 382.8,443.8 383.1,447.1 383.3,448.8 383.5,447.6 383.7,444.6 383.9,445.9 384.1,443.4 384.3,443.2 384.5,444.8 384.7,444.6 384.9,444.9 385.1,443.2 385.3,443.1 385.5,446.0 385.7,445.1 385.9,440.1 386.1,442.5 386.3,440.9 386.5,436.5 386.7,434.5 386.9,437.1 387.1,435.4 387.3,435.7 387.5,437.3 387.7,436.7 387.9,435.4 388.1,432.4 388.3,433.9 388.5,433.4 388.7,431.7 388.9,431.0 389.1,432.5 389.3,428.9 389.5,432.4 389.7,432.3 389.9,432.2 390.2,429.2 390.4,433.0 390.6,430.4 390.8,430.8 391.0,430.8 391.2,432.6 391.4,431.8 391.6,429.4 391.8,428.3 392.0,429.2 392.2,429.8 392.4,428.9 392.6,426.6 392.8,428.9 393.0,427.1 393.2,425.5 393.4,425.9 393.6,429.7 393.8,425.5 394.0,427.7 394.2,423.6 394.4,426.0 394.6,425.3 394.8,424.1 395.0,421.2 395.2,422.6 395.4,420.7 395.5,422.0 395.7,421.9 395.9,422.7 396.1,420.7 396.3,421.6 396.5,424.9 396.7,425.0 396.9,426.0 397.1,425.5 397.3,422.4 397.5,425.4 397.7,422.9 397.9,418.5 398.1,421.5 398.3,419.8 398.5,421.7 398.7,424.3 398.9,421.1 399.1,419.3 399.3,420.7 399.5,426.4 399.7,427.8 399.9,424.1 400.1,423.8 400.3,424.9 400.5,427.8 400.7,430.8 400.9,429.8 401.1,432.4 401.3,433.1 401.5,429.7 401.7,429.7 401.9,427.9 402.1,434.6 402.3,432.8 402.5,433.9 402.7,430.5 402.9,434.3 403.1,433.2 403.3,436.6 403.5,433.3 403.7,432.4 403.9,435.9 404.1,430.8 404.3,432.2 404.5,435.3 404.8,437.7 405.0,434.8 405.2,436.6 405.4,435.8 405.6,438.0 405.8,437.1 406.0,436.6 406.2,434.0 406.4,435.4 406.6,437.8 406.8,436.3 407.0,440.0 407.2,441.5 407.4,441.5 407.6,440.1 407.8,438.2 408.0,440.5 408.2,439.2 408.4,440.0 408.6,440.2 408.8,439.2 409.0,434.6 409.1,437.5 409.3,437.6 409.5,436.1 409.7,434.6 409.9,434.2 410.1,432.1 410.3,434.6 410.5,434.5 410.7,434.4 410.9,431.9 411.1,435.1 411.3,436.0 411.5,437.4 411.7,437.2 411.9,438.8 412.1,437.4 412.3,435.8 412.5,438.4 412.7,440.0 412.9,441.6 413.1,439.6 413.3,439.7 413.5,438.8 413.7,434.0 413.9,436.8 414.1,435.0 414.3,435.9 414.5,433.2 414.7,433.5 414.9,437.7 415.2,437.2 415.4,432.4 415.6,433.7 415.8,430.4 416.0,432.6 416.2,430.8 416.4,430.7 416.6,429.4 416.8,426.9 417.0,429.5 417.2,425.5 417.4,425.7 417.6,428.6 417.8,428.4 418.0,424.2 418.2,426.9 418.4,427.3 418.6,425.5 418.8,427.0 419.0,422.6 419.2,423.5 419.4,428.3 419.6,427.1 419.8,423.9 420.1,425.7 420.3,424.9 420.5,429.1 420.7,425.3 420.9,427.0 421.1,429.0 421.3,431.9 421.5,428.0 421.7,428.4 421.9,430.0 422.1,430.9 422.3,432.4 422.5,430.3 422.7,427.8 422.9,427.7 423.1,432.0 423.3,427.4 423.5,429.8 423.7,429.1 423.9,426.3 424.1,429.4 424.3,428.0 424.5,425.3 424.7,425.2 424.9,428.7 425.1,430.3 425.3,430.5 425.5,430.2 425.7,426.5 425.9,426.2 426.1,428.0 426.3,426.3 426.5,425.3 426.7,428.0 426.9,427.9 427.1,424.1 427.3,423.8 427.5,422.7 427.7,423.3 427.9,425.3 428.1,421.4 428.3,427.0 428.5,424.9 428.7,424.6 428.9,424.4 429.1,428.7 429.3,426.7 429.5,429.8 429.7,430.1 429.9,427.5 430.0,430.9 430.2,427.5 430.4,430.3 430.6,431.3 430.8,430.8 431.0,431.2 431.2,431.9 431.4,426.6 431.6,431.5 431.8,427.8 432.0,431.3 432.2,429.3 432.4,429.6 432.6,429.0 432.8,433.3 433.0,432.8 433.2,428.5 433.4,427.2 433.6,428.5 433.9,430.8 434.1,427.7 434.3,429.7 434.5,429.4 434.7,432.7 434.9,432.0 435.1,432.4 435.3,437.8 435.5,436.1 435.7,439.7 435.9,439.1 436.1,437.4 436.3,438.1 436.5,436.7 436.7,438.1 436.9,437.8 437.1,439.2 437.3,436.6 437.5,438.5 437.7,439.6 437.9,442.0 438.1,439.8 438.3,442.6 438.5,440.4 438.7,442.0 438.9,441.9 439.1,442.4 439.3,440.6 439.5,443.3 439.7,438.7 439.9,444.2 440.1,444.5 440.3,444.5 440.5,443.7 440.7,444.1 440.9,449.9 441.1,445.1 441.3,451.0 441.4,445.7 441.6,448.2 441.8,447.6 442.0,451.3 442.2,451.0 442.4,450.0 442.6,452.1 442.8,450.6 443.0,455.9 443.1,461.4 443.3,467.7 443.5,468.0 443.7,471.9 443.9,470.8 444.1,471.5 444.3,469.3 444.5,470.1 444.7,475.2 444.9,469.6 445.1,473.8 445.3,474.4 445.5,473.5 445.7,479.7 445.9,474.8 446.1,478.6 446.3,480.8 446.5,479.8 446.7,484.6 446.9,487.7 447.1,489.5 447.3,491.0 447.5,491.8 447.7,487.0 447.9,487.3 448.1,488.2 448.3,488.4 448.4,490.8 448.6,492.3 448.8,489.9 449.0,491.5 449.2,489.9 449.4,489.0 449.6,491.9 449.8,491.7 450.0,490.7 450.2,492.6 450.4,488.5 450.6,490.3 450.8,491.2 451.1,489.9 451.3,488.8 451.5,490.3 451.7,485.6 451.9,489.2 452.1,485.4 452.3,486.6 452.5,484.7 452.7,490.4 452.9,489.4 453.1,490.2 453.3,492.1 453.5,489.9 453.7,489.7 453.9,494.5 454.1,491.2 454.3,493.6 454.5,495.1 454.7,494.8 454.9,495.8 455.1,494.6 455.3,493.3 455.5,491.9 455.7,493.4 455.9,492.0 456.1,491.5 456.3,493.3 456.5,492.7 456.7,490.6 456.9,488.6 457.1,491.9 457.3,490.1 457.5,488.3 457.7,489.8 457.9,484.8 458.1,487.2 458.3,484.5 458.5,480.1 458.7,481.3 458.9,482.0 459.1,482.7 459.3,478.9 459.5,476.8 459.7,477.7 459.9,474.9 460.1,475.5 460.3,476.3 460.5,478.7 460.7,475.3 460.9,472.6 461.1,474.3 461.3,470.8 461.5,475.4 461.7,473.0 461.9,471.1 462.1,474.9 462.3,471.8 462.5,471.5 462.7,474.4 462.9,473.9 463.1,476.6 463.3,477.7 463.5,472.9 463.7,476.3 463.9,472.9 464.1,475.9 464.3,473.1 464.5,474.1 464.7,476.3 464.9,474.8 465.1,476.3 465.3,479.4 465.5,475.2 465.7,475.9 465.9,479.9 466.1,477.0 466.3,479.0 466.5,481.4 466.7,482.3 466.9,483.7 467.1,482.7 467.3,485.7 467.5,483.9 467.7,488.5 467.9,487.7 468.1,490.9 468.3,491.1 468.5,492.0 468.7,491.4 468.9,493.5 469.1,493.0 469.3,492.6 469.5,494.9 469.7,493.5 469.9,494.4 470.1,493.9 470.3,499.3 470.5,496.4 470.7,500.3 470.9,496.1 471.1,495.2 471.3,498.0 471.5,502.3 471.7,497.7 471.9,501.4 472.1,498.1 472.3,498.7 472.5,498.8 472.7,500.0 472.9,495.7 473.1,495.8 473.3,490.3 473.6,492.8 473.8,493.9 474.0,495.5 474.2,496.9 474.4,494.1 474.6,492.5 474.8,493.9 475.0,491.4 475.2,489.6 475.4,487.9 475.6,491.8 475.8,490.2 476.0,493.4 476.2,492.2 476.4,492.2 476.6,492.2 476.8,493.2 477.0,492.9 477.2,489.4 477.4,492.6 477.6,493.7 477.8,492.3 478.0,493.7 478.2,490.3 478.4,490.2 478.6,493.0 478.8,493.6 479.0,495.9 479.2,495.6 479.4,495.0 479.6,493.5 479.8,493.3 480.0,493.4 480.2,494.7 480.4,493.5 480.6,495.4 480.8,499.6 481.0,499.5 481.2,497.0 481.4,499.6 481.5,502.0 481.7,497.4 481.9,501.4 482.1,497.4 482.3,500.2 482.5,498.9 482.7,503.0 482.9,501.6 483.1,505.4 483.3,501.9 483.5,503.3 483.7,501.8 483.9,499.2 484.1,503.9 484.3,502.7 484.5,505.2 484.7,502.8 484.9,507.3 485.1,509.3 485.3,508.5 485.5,505.2 485.8,510.4 486.0,506.1 486.2,507.6 486.4,510.8 486.6,508.3 486.8,512.6 487.0,511.8 487.2,509.2 487.4,509.5 487.6,507.0 487.8,511.5 488.0,510.5 488.2,511.7 488.4,512.2 488.6,509.8 488.8,512.7 489.0,510.1 489.2,508.8 489.4,508.8 489.6,508.3 489.8,506.5 490.0,502.1 490.2,504.9 490.4,506.6 490.6,504.6 490.8,501.6 491.0,501.6 491.2,501.5 491.4,499.2 491.6,499.5 491.8,500.8 492.0,494.4 492.2,496.8 492.4,495.2 492.6,498.7 492.8,498.5 493.0,495.8 493.2,495.1 493.4,499.0 493.6,496.3 493.7,498.2 493.9,494.8 494.1,499.5 494.3,498.9 494.5,497.2 494.7,500.9 494.9,496.4 495.1,496.3 495.3,499.4 495.5,500.6 495.7,496.6 495.9,493.9 496.1,495.8 496.3,495.4 496.5,494.3 496.7,495.5 496.9,495.8 497.1,490.6 497.3,491.4 497.5,493.4 497.7,496.1 497.9,492.9 498.1,491.2 498.3,491.1 498.6,489.2 498.8,491.2 499.0,491.4 499.2,490.4 499.4,490.5 499.6,491.3 499.8,486.5 500.0,489.2 500.2,488.8 500.4,489.3 500.6,490.5 500.8,486.6 501.0,488.2 501.2,489.9 501.4,485.4 501.6,489.3 501.8,488.7 502.0,485.0 502.2,484.8 502.4,485.1 502.6,490.2 502.8,487.8 503.0,492.7 503.2,492.5 503.4,492.0 503.6,491.9 503.8,490.9 504.0,488.4 504.2,491.0 504.4,493.3 504.6,494.3 504.8,495.0 505.0,495.8 505.2,493.0 505.4,496.4 505.6,493.5 505.8,496.1 506.0,495.7 506.2,498.4 506.4,500.6 506.6,499.9 506.8,500.5 507.0,501.5 507.2,499.9 507.4,496.7 507.6,495.6 507.8,499.0 508.0,496.9 508.2,500.1 508.4,496.9 508.7,495.5 508.9,495.9 509.1,492.2 509.3,492.0 509.5,492.4 509.7,494.1 509.9,492.4 510.1,492.6 510.3,490.8 510.5,489.2 510.7,489.4 510.9,491.3 511.1,489.7 511.3,492.7 511.5,492.6 511.7,492.4 511.9,490.1 512.1,489.6 512.3,489.1 512.6,492.1 512.8,488.2 513.0,490.1 513.2,489.4 513.4,489.4 513.6,487.1 513.8,486.1 514.0,486.9 514.2,487.0 514.4,488.0 514.6,489.9 514.8,489.8 515.0,485.3 515.2,490.3 515.4,491.8 515.6,491.2 515.8,492.2 516.0,487.9 516.2,493.0 516.4,488.9 516.6,491.5 516.8,490.8 517.0,495.7 517.2,495.4 517.4,494.5 517.6,491.8 517.8,497.6 518.0,492.3 518.2,492.3 518.4,492.8 518.6,493.1 518.8,492.9 519.0,493.8 519.2,489.9 519.3,492.5 519.5,493.1 519.7,494.0 519.9,492.2 520.1,488.3 520.3,487.4 520.5,488.1 520.7,486.3 520.9,486.2 521.1,485.9 521.3,481.0 521.5,482.5 521.7,486.6 521.9,487.0 522.1,486.8 522.3,483.1 522.5,484.0 522.7,480.5 522.9,482.2 523.1,479.5 523.3,479.0 523.5,478.4 523.7,480.6 523.9,480.5 524.1,480.6 524.3,485.1 524.5,480.9 524.7,483.1 524.9,486.1 525.1,482.4 525.3,483.1 525.5,481.7 525.7,483.3 525.9,486.2 526.1,483.3 526.3,483.8 526.5,485.6 526.7,487.4 526.9,489.9 527.1,489.9 527.3,488.0 527.5,489.1 527.8,488.5 528.0,485.0 528.2,486.5 528.4,489.6 528.6,491.4 528.8,489.5 529.0,489.7 529.2,490.5 529.4,491.2 529.6,489.9 529.8,487.6 530.0,489.4 530.2,487.3 530.4,487.0 530.6,486.2 530.8,487.9 531.0,487.4 531.2,485.5 531.4,485.9 531.7,488.2 531.9,486.3 532.1,485.9 532.3,487.6 532.5,488.4 532.7,484.9 532.9,483.6 533.1,482.1 533.3,482.7 533.5,484.7 533.7,484.6 533.9,488.9 534.1,490.1 534.3,486.4 534.5,484.4 534.7,486.7 534.9,488.9 535.1,487.1 535.3,485.2 535.5,490.8 535.7,488.0 535.9,490.0 536.1,492.0 536.3,490.6 536.5,493.6 536.7,493.8 536.9,494.6 537.1,492.1 537.3,492.7 537.5,495.1 537.7,491.7 537.9,491.1 538.1,494.8 538.3,497.1 538.5,495.4 538.7,498.6 538.9,498.2 539.1,497.3 539.3,495.0 539.5,496.3 539.7,494.3 539.9,497.5 540.1,494.0 540.3,491.0 540.5,491.2 540.7,492.3 540.9,493.4 541.1,490.4 541.3,492.9 541.5,489.8 541.7,490.5 542.0,490.9 542.2,495.4 542.4,492.5 542.6,490.6 542.8,492.9 543.0,493.6 543.2,491.6 543.4,491.9 543.6,493.8 543.8,491.1 544.0,492.6 544.2,488.8 544.4,491.0 544.6,487.5 544.8,491.8 545.0,488.8 545.2,488.7 545.4,492.0 545.6,488.4 545.8,487.7 546.0,492.9 546.2,486.2 546.5,488.2 546.7,488.4 546.9,487.1 547.1,490.5 547.3,490.3 547.5,487.4 547.7,486.3 547.9,489.8 548.1,485.2 548.3,490.0 548.5,489.1 548.7,488.9 548.9,486.7 549.1,486.0 549.3,487.2 549.5,487.4 549.7,488.8 549.9,483.9 550.1,483.2 550.3,488.3 550.5,484.7 550.7,486.5 550.8,484.3 551.0,484.8 551.2,484.1 551.4,482.0 551.6,485.5 551.8,483.1 552.0,480.9 552.2,481.7 552.4,481.6 552.6,485.2 552.8,485.6 553.0,482.9 553.2,482.4 553.4,482.8 553.6,480.1 553.8,479.2 554.0,482.3 554.2,481.4 554.4,481.2 554.6,483.0 554.8,477.7 555.0,476.2 555.2,481.9 555.4,477.9 555.6,476.1 555.8,481.7 556.0,480.5 556.2,476.3 556.4,480.6 556.6,476.4 556.8,480.5 557.0,476.7 557.2,475.3 557.4,478.8 557.6,478.2 557.8,480.2 558.0,476.7 558.2,476.3 558.4,477.8 558.6,474.4 558.8,475.4 559.0,474.7 559.2,475.4 559.4,474.3 559.6,476.8 559.8,472.8 560.0,476.3 560.3,474.8 560.5,472.2 560.7,473.7 560.9,469.7 561.1,474.5 561.3,474.8 561.5,470.7 561.7,471.6 561.9,469.0 562.1,471.6 562.3,474.1 562.5,473.4 562.7,471.2 562.9,472.9 563.1,472.2 563.3,472.5 563.5,474.5 563.7,472.1 563.9,476.2 564.1,473.6 564.3,478.7 564.5,475.7 564.7,475.1 564.9,478.1 565.1,474.7 565.3,477.0 565.5,474.5 565.7,476.2 565.9,479.9 566.1,476.0 566.3,475.8 566.5,473.7 566.8,477.7 567.0,473.0 567.2,477.5 567.4,476.5 567.6,475.4 567.8,472.0 568.0,475.0 568.2,475.6 568.4,474.9 568.6,474.8 568.8,474.1 569.0,469.0 569.2,472.1 569.4,471.2 569.6,473.1 569.8,470.5 570.0,471.6 570.2,469.4 570.4,471.8 570.6,467.3 570.8,470.2 571.1,469.3 571.3,466.8 571.5,467.2 571.7,464.1 571.9,464.3 572.1,462.1 572.3,461.8 572.5,465.8 572.7,465.3 572.9,461.4 573.1,467.2 573.3,463.4 573.5,468.4 573.7,465.4 573.9,464.0 574.1,466.4 574.3,470.2 574.5,467.8 574.7,469.6 574.9,468.1 575.1,466.4 575.3,468.3 575.5,464.0 575.7,465.1 575.9,463.7 576.1,466.5 576.3,465.6 576.5,465.2 576.7,462.3 576.9,460.7 577.1,462.3 577.3,462.4 577.5,459.5 577.7,459.6 577.9,461.5 578.1,460.5 578.3,463.9 578.5,460.2 578.7,460.9 578.9,462.2 579.1,462.4 579.3,462.6 579.5,464.4 579.7,467.2 580.0,465.2 580.2,465.0 580.4,467.4 580.6,465.4 580.8,462.7 581.0,467.0 581.2,466.5 581.4,470.4 581.6,468.6 581.8,470.0 582.0,468.8 582.2,471.3 582.4,468.1 582.6,466.1 582.8,464.2 583.0,467.1 583.2,469.3 583.4,470.4 583.6,467.1 583.8,465.6 584.0,470.6 584.2,465.9 584.4,466.6 584.6,470.4 584.8,469.5 585.0,465.7 585.2,468.4 585.4,464.5 585.6,462.8 585.8,464.2 586.0,459.3 586.2,460.2 586.4,458.8 586.6,461.4 586.8,462.3 587.0,458.6 587.2,457.2 587.4,459.9 587.6,460.7 587.8,459.5 588.0,463.6 588.2,462.1 588.5,460.4 588.7,464.1 588.9,463.2 589.1,463.7 589.3,462.0 589.5,464.5 589.7,470.0 589.9,470.9 590.1,470.6 590.3,470.9 590.5,475.2 590.8,480.2 591.0,482.4 591.2,479.4 591.4,482.2 591.6,483.5 591.8,486.0 592.0,484.8 592.2,485.1 592.4,485.5 592.6,488.7 592.8,487.8 593.0,488.0 593.2,492.3 593.4,491.7 593.6,492.5 593.8,492.7 594.0,496.7 594.2,499.4 594.4,497.4 594.6,496.9 594.8,493.0 595.0,497.1 595.2,492.4 595.4,491.4 595.6,491.0 595.8,490.7 595.9,490.2 596.1,486.1 596.3,487.4 596.5,488.4 596.7,484.7 596.9,487.0 597.1,484.5 597.3,484.6 597.5,487.4 597.7,485.5 597.9,483.5 598.1,487.7 598.3,484.2 598.5,484.5 598.7,484.0 598.9,484.3 599.1,481.5 599.4,481.3 599.6,479.1 599.8,480.1 600.0,480.9 600.2,483.0 600.4,484.3 600.6,484.5 600.8,479.7 601.0,479.4 601.2,480.7 601.4,481.0 601.6,480.3 601.8,483.9 602.0,477.9 602.2,477.8 602.4,480.6 602.6,475.9 602.8,477.7 603.0,475.2 603.2,473.3 603.4,477.9 603.6,478.8 603.8,477.5 604.0,475.2 604.2,476.1 604.5,477.8 604.7,473.4 604.9,478.7 605.1,475.7 605.3,473.9 605.5,477.4 605.7,477.3 605.9,476.8 606.1,474.9 606.3,477.8 606.5,476.0 606.7,474.4 606.9,472.5 607.1,470.7 607.3,468.4 607.5,469.6 607.7,470.7 607.9,469.5 608.1,472.8 608.3,472.7 608.5,472.3 608.7,473.1 608.9,474.5 609.1,474.6 609.3,475.7 609.5,477.9 609.7,479.4 609.9,477.4 610.1,475.0 610.3,474.1 610.5,478.9 610.7,476.7 610.9,477.5 611.1,475.8 611.3,480.1 611.5,482.6 611.7,482.1 611.9,486.8 612.1,484.3 612.3,484.3 612.5,487.0 612.7,486.4 612.9,482.0 613.1,481.5 613.3,481.3 613.5,479.9 613.7,482.6 613.9,480.1 614.1,483.0 614.4,478.2 614.6,482.0 614.8,483.3 615.0,479.1 615.2,480.3 615.4,480.5 615.6,476.2 615.8,477.6 616.0,474.5 616.2,475.7 616.4,479.9 616.6,476.6 616.8,482.3 617.0,480.0 617.1,480.9 617.3,482.4 617.5,482.3 617.7,480.8 617.9,485.1 618.1,486.0 618.3,486.5 618.5,483.9 618.7,482.3 618.9,481.8 619.1,485.2 619.3,483.5 619.5,480.0 619.7,479.6 619.9,481.4 620.1,484.0 620.3,480.4 620.5,483.4 620.7,480.3 620.9,477.3 621.1,477.9 621.3,475.8 621.5,476.3 621.7,474.3 621.9,476.4 622.1,476.5 622.3,477.1 622.5,476.4 622.7,475.6 622.9,479.6 623.1,475.7 623.3,475.8 623.4,480.5 623.6,478.0 623.8,483.7 624.0,480.2 624.2,481.8 624.4,485.0 624.6,485.1 624.8,484.7 625.0,485.3 625.2,485.5 625.4,483.6 625.6,484.1 625.8,487.1 626.0,485.7 626.2,481.3 626.4,481.0 626.7,483.5 626.9,479.6 627.1,483.5 627.3,483.1 627.5,481.9 627.7,483.3 627.9,481.0 628.1,484.4 628.3,481.3 628.5,482.2 628.7,481.0 628.9,481.1 629.1,483.0 629.3,477.9 629.5,481.4 629.7,479.4 629.9,478.6 630.1,474.4 630.3,477.1 630.5,480.0 630.7,479.9 630.9,477.1 631.1,478.3 631.4,474.7 631.6,477.0 631.8,476.5 632.0,478.0 632.2,478.5 632.4,475.3 632.6,477.8 632.8,471.8 633.0,473.6 633.2,473.1 633.4,474.0 633.6,471.2 633.8,476.1 634.0,474.9 634.2,476.8 634.4,475.6 634.6,479.5 634.8,474.9 635.0,477.1 635.2,481.8 635.4,481.5 635.6,483.2 635.8,483.1 636.0,483.1 636.2,484.9 636.4,486.1 636.6,485.7 636.8,484.2 637.0,486.2 637.2,485.9 637.4,488.0 637.6,488.0 637.8,491.2 638.0,490.4 638.2,490.7 638.4,491.9 638.6,491.6 638.8,490.7 639.0,496.2 639.2,495.9 639.4,495.8 639.6,496.7 639.8,494.5 640.0,500.7 640.2,504.0 640.4,508.0 640.7,512.9 640.9,512.8 641.1,518.7 641.3,516.5 641.5,519.2 641.7,520.3 641.9,522.6 642.1,523.4 642.3,520.6 642.5,518.9 642.8,521.4 643.0,518.6 643.2,519.5 643.4,521.5 643.6,521.9 643.8,518.5 644.0,523.4 644.2,554.3 644.4,584.7 644.6,553.3 644.8,529.9 645.0,524.9 645.2,528.2 645.4,523.4 645.6,522.5 645.8,522.1 645.9,519.8 646.1,515.6 646.3,514.2 646.5,515.9 646.7,508.7 646.9,511.3 647.1,509.7 647.3,506.3 647.5,506.4 647.7,505.2 647.9,507.8 648.1,507.1 648.2,505.9 648.4,505.6 648.6,505.0 648.8,505.3 649.0,506.2 649.2,503.0 649.4,503.2 649.6,501.5 649.8,499.4 650.0,500.4 650.2,502.5 650.4,500.3 650.6,503.0 650.8,503.0 651.0,498.8 651.2,500.2 651.4,501.8 651.6,498.9 651.8,503.1 652.0,503.9 652.2,503.5 652.4,505.0 652.6,501.7 652.8,502.5 653.0,501.4 653.2,499.4 653.4,498.6 653.6,504.9 653.8,500.6 654.0,501.9 654.2,501.8 654.4,502.4 654.6,497.0 654.8,498.0 655.0,499.1 655.2,500.0 655.4,497.0 655.6,500.4 655.8,499.9 656.0,497.7 656.2,496.6 656.4,497.1 656.6,499.5 656.8,500.4 657.0,499.1 657.2,498.0 657.4,498.8 657.6,498.8 657.8,499.6 658.0,499.2 658.2,503.3 658.4,501.8 658.6,500.0 658.8,502.5 659.0,501.9 659.2,500.6 659.4,502.1 659.6,498.1 659.8,503.5 660.0,502.2 660.2,502.3 660.4,502.1 660.6,498.8 660.8,500.5 661.0,502.9 661.2,499.8 661.4,504.6 661.6,503.5 661.8,502.8 662.0,498.2 662.2,498.3 662.5,500.2 662.7,498.2 662.9,499.6 663.1,500.9 663.3,501.9 663.5,500.3 663.7,500.9 663.9,502.1 664.1,500.9 664.3,501.9 664.5,499.3 664.7,501.6 664.9,499.1 665.1,501.3 665.3,498.7 665.5,497.2 665.7,499.3 665.9,497.0 666.2,494.3 666.4,497.7 666.6,493.1 666.8,498.2 667.0,496.0 667.2,492.3 667.4,494.2 667.6,489.8 667.8,492.5 668.0,493.8 668.2,490.5 668.4,494.7 668.6,489.5 668.8,492.6 669.0,492.8 669.2,490.3 669.4,495.0 669.6,492.9 669.8,493.6 670.0,492.0 670.1,491.0 670.3,490.5 670.5,489.1 670.7,490.4 670.9,490.3 671.1,491.4 671.3,490.3 671.5,489.6 671.7,488.7 671.9,486.2 672.1,483.5 672.3,485.5 672.5,487.5 672.7,484.5 672.9,486.4 673.1,485.1 673.3,486.5 673.5,484.6 673.7,485.7 673.9,482.4 674.1,478.6 674.3,477.5 674.5,473.6 674.7,473.3 674.9,475.2 675.1,474.2 675.3,473.5 675.5,475.9 675.7,472.5 675.9,469.7 676.1,472.0 676.3,475.5 676.5,471.6 676.7,475.5 676.9,471.5 677.1,470.1 677.3,474.7 677.5,475.2 677.7,472.3 677.9,475.1 678.1,476.1 678.3,472.5 678.6,476.1 678.8,472.3 679.0,478.9 679.2,478.4 679.4,476.8 679.6,479.8 679.8,480.7 680.0,476.4 680.2,480.1 680.4,479.7 680.6,480.1 680.8,478.5 681.0,481.0 681.2,476.9 681.4,480.0 681.6,477.8 681.8,475.9 682.0,476.3 682.3,477.3 682.5,475.8 682.7,475.2 682.9,479.2 683.1,476.1 683.3,475.0 683.5,474.1 683.7,474.1 683.9,474.0 684.1,470.2 684.3,474.4 684.5,471.6 684.7,467.1 684.9,467.9 685.1,470.6 685.3,471.3 685.5,467.6 685.7,468.3 685.9,467.8 686.1,469.4 686.3,471.0 686.5,471.3 686.7,467.3 686.9,471.0 687.0,470.6 687.2,470.8 687.4,468.0 687.6,467.9 687.8,465.2 688.0,463.6 688.2,466.4 688.4,465.8 688.6,466.7 688.8,462.9 689.0,460.9 689.2,463.0 689.4,460.0 689.6,458.7 689.8,462.2 690.0,464.6 690.2,462.1 690.4,464.9 690.6,466.2 690.8,464.2 691.0,466.4 691.2,470.5 691.4,466.5 691.6,468.0 691.8,473.0 692.0,469.4 692.2,468.1 692.4,468.6 692.6,474.2 692.8,473.7 693.0,470.1 693.2,470.4 693.4,474.4 693.6,475.2 693.8,476.0 694.0,473.6 694.2,470.8 694.4,473.3 694.6,472.8 694.8,472.8 695.0,469.6 695.2,471.1 695.4,468.1 695.6,468.4 695.8,468.7 696.0,467.6 696.2,469.1 696.4,464.4 696.6,465.8 696.8,465.6 697.0,463.5 697.3,463.2 697.5,457.9 697.7,460.5 697.9,457.6 698.1,458.8 698.3,455.2 698.5,456.3 698.7,455.4 698.9,453.6 699.1,453.7 699.3,453.7 699.5,451.6 699.7,451.6 699.9,450.2 700.1,449.5 700.3,450.4 700.5,450.7 700.7,455.4 700.9,455.6 701.1,455.6 701.3,456.3 701.5,454.8 701.7,451.9 701.9,456.8 702.1,457.8 702.3,457.5 702.5,454.3 702.7,457.1 702.9,459.2 703.1,460.2 703.3,466.5 703.5,464.8 703.7,465.4 703.9,464.0 704.1,467.2 704.3,463.8 704.5,469.2 704.6,466.3 704.8,466.9 705.0,471.7 705.2,469.0 705.4,472.1 705.6,470.3 705.8,468.2 706.0,463.5 706.2,464.4 706.4,464.6 706.6,462.5 706.8,459.2 707.0,459.9 707.2,456.5 707.4,458.8 707.6,455.8 707.8,455.5 708.0,456.4 708.2,455.6 708.4,452.7 708.6,455.0 708.8,453.6 709.0,450.0 709.2,452.7 709.4,454.3 709.6,451.8 709.8,448.3 710.0,448.8 710.2,446.5 710.4,450.2 710.6,446.0 710.8,447.8 711.0,446.2 711.2,447.7 711.4,443.1 711.6,444.4 711.8,445.3 712.0,442.8 712.2,445.1 712.4,443.5 712.6,441.2 712.8,439.3 713.0,441.5 713.2,439.6 713.4,443.0 713.6,439.6 713.8,439.3 714.0,434.8 714.2,437.2 714.4,434.7 714.6,428.3 714.8,419.8 715.0,405.1 715.3,434.9 715.5,427.7 715.6,416.0" fill="none" stroke="rgb(239,140,46)" stroke-width="3.3" stroke-linejoin="round" stroke-linecap="round" opacity="0.73" />
<line x1="151.3" y1="408.8" x2="715.6" y2="408.8" stroke="rgba(60,60,60,0.45)" stroke-width="1.6" />
<line x1="151.3" y1="416.5" x2="715.6" y2="416.5" stroke="rgba(60,60,60,0.45)" stroke-width="1.6" />
<line x1="151.3" y1="597.6" x2="715.6" y2="597.6" stroke="#555" stroke-width="1.7" />
<line x1="151.3" y1="599.8000000000001" x2="715.6" y2="599.8000000000001" stroke="#999" stroke-width="1.3" stroke-dasharray="1.1 1.2"/>
<line x1="151.3" y1="597.6" x2="151.3" y2="602.1" stroke="#222" stroke-width="1.4" />
<line x1="188.37" y1="597.6" x2="188.37" y2="602.1" stroke="#222" stroke-width="1.4" />
<line x1="225.44" y1="597.6" x2="225.44" y2="602.1" stroke="#222" stroke-width="1.4" />
<line x1="262.51" y1="597.6" x2="262.51" y2="602.1" stroke="#222" stroke-width="1.4" />
<line x1="299.58000000000004" y1="597.6" x2="299.58000000000004" y2="602.1" stroke="#222" stroke-width="1.4" />
<line x1="336.65" y1="597.6" x2="336.65" y2="602.1" stroke="#222" stroke-width="1.4" />
<line x1="373.72" y1="597.6" x2="373.72" y2="602.1" stroke="#222" stroke-width="1.4" />
<line x1="410.79" y1="597.6" x2="410.79" y2="602.1" stroke="#222" stroke-width="1.4" />
<line x1="447.86" y1="597.6" x2="447.86" y2="602.1" stroke="#222" stroke-width="1.4" />
<line x1="484.93" y1="597.6" x2="484.93" y2="602.1" stroke="#222" stroke-width="1.4" />
<line x1="522.0" y1="597.6" x2="522.0" y2="602.1" stroke="#222" stroke-width="1.4" />
<line x1="559.0699999999999" y1="597.6" x2="559.0699999999999" y2="602.1" stroke="#222" stroke-width="1.4" />
<line x1="596.1400000000001" y1="597.6" x2="596.1400000000001" y2="602.1" stroke="#222" stroke-width="1.4" />
<line x1="633.21" y1="597.6" x2="633.21" y2="602.1" stroke="#222" stroke-width="1.4" />
<line x1="670.28" y1="597.6" x2="670.28" y2="602.1" stroke="#222" stroke-width="1.4" />
<line x1="707.3499999999999" y1="597.6" x2="707.3499999999999" y2="602.1" stroke="#222" stroke-width="1.4" />
<text x="0" y="0" font-size="13.5" font-weight="normal" fill="#000" text-anchor="start" textLength="52" lengthAdjust="spacingAndGlyphs" transform="translate(152.9,609.5) rotate(90)">07/01/01</text>
<text x="0" y="0" font-size="13.5" font-weight="normal" fill="#000" text-anchor="start" textLength="52" lengthAdjust="spacingAndGlyphs" transform="translate(183.5,609.5) rotate(90)">08/01/01</text>
<text x="0" y="0" font-size="13.5" font-weight="normal" fill="#000" text-anchor="start" textLength="52" lengthAdjust="spacingAndGlyphs" transform="translate(220.6,609.5) rotate(90)">09/01/01</text>
<text x="0" y="0" font-size="13.5" font-weight="normal" fill="#000" text-anchor="start" textLength="52" lengthAdjust="spacingAndGlyphs" transform="translate(257.6,609.5) rotate(90)">10/01/01</text>
<text x="0" y="0" font-size="13.5" font-weight="normal" fill="#000" text-anchor="start" textLength="52" lengthAdjust="spacingAndGlyphs" transform="translate(294.7,609.5) rotate(90)">11/01/01</text>
<text x="0" y="0" font-size="13.5" font-weight="normal" fill="#000" text-anchor="start" textLength="52" lengthAdjust="spacingAndGlyphs" transform="translate(331.8,609.5) rotate(90)">12/01/01</text>
<text x="0" y="0" font-size="13.5" font-weight="normal" fill="#000" text-anchor="start" textLength="52" lengthAdjust="spacingAndGlyphs" transform="translate(368.9,609.5) rotate(90)">13/01/01</text>
<text x="0" y="0" font-size="13.5" font-weight="normal" fill="#000" text-anchor="start" textLength="52" lengthAdjust="spacingAndGlyphs" transform="translate(405.9,609.5) rotate(90)">14/01/01</text>
<text x="0" y="0" font-size="13.5" font-weight="normal" fill="#000" text-anchor="start" textLength="52" lengthAdjust="spacingAndGlyphs" transform="translate(443.0,609.5) rotate(90)">15/01/01</text>
<text x="0" y="0" font-size="13.5" font-weight="normal" fill="#000" text-anchor="start" textLength="52" lengthAdjust="spacingAndGlyphs" transform="translate(480.1,609.5) rotate(90)">16/01/01</text>
<text x="0" y="0" font-size="13.5" font-weight="normal" fill="#000" text-anchor="start" textLength="52" lengthAdjust="spacingAndGlyphs" transform="translate(517.1,609.5) rotate(90)">17/01/01</text>
<text x="0" y="0" font-size="13.5" font-weight="normal" fill="#000" text-anchor="start" textLength="52" lengthAdjust="spacingAndGlyphs" transform="translate(554.2,609.5) rotate(90)">18/01/01</text>
<text x="0" y="0" font-size="13.5" font-weight="normal" fill="#000" text-anchor="start" textLength="52" lengthAdjust="spacingAndGlyphs" transform="translate(591.3,609.5) rotate(90)">19/01/01</text>
<text x="0" y="0" font-size="13.5" font-weight="normal" fill="#000" text-anchor="start" textLength="52" lengthAdjust="spacingAndGlyphs" transform="translate(628.4,609.5) rotate(90)">20/01/01</text>
<text x="0" y="0" font-size="13.5" font-weight="normal" fill="#000" text-anchor="start" textLength="52" lengthAdjust="spacingAndGlyphs" transform="translate(665.4,609.5) rotate(90)">21/01/01</text>
<text x="0" y="0" font-size="13.5" font-weight="normal" fill="#000" text-anchor="start" textLength="52" lengthAdjust="spacingAndGlyphs" transform="translate(702.5,609.5) rotate(90)">22/01/01</text>
<text x="111" y="357.5" font-size="13" font-weight="normal" fill="#000" text-anchor="start" textLength="76" lengthAdjust="spacingAndGlyphs" >(USD/バレル)</text>
<text x="579" y="398.5" font-size="11.5" font-weight="bold" fill="#000" text-anchor="start" textLength="82" lengthAdjust="spacingAndGlyphs" >北海ブレント先物</text>
<text x="670" y="398.5" font-size="11.5" font-weight="bold" fill="#000" text-anchor="start" textLength="34" lengthAdjust="spacingAndGlyphs" >120.7</text>
<text x="579" y="430" font-size="11.5" font-weight="bold" fill="#000" text-anchor="start" textLength="71" lengthAdjust="spacingAndGlyphs" >WTI石油先物</text>
<text x="659" y="430" font-size="11.5" font-weight="bold" fill="#000" text-anchor="start" textLength="34" lengthAdjust="spacingAndGlyphs" >113.9</text>
<text x="652" y="594" font-size="12" font-weight="bold" fill="#000" text-anchor="start" textLength="62.5" lengthAdjust="spacingAndGlyphs" >22/03/25</text>
<rect x="125.6" y="682.4" width="12.4" height="12.6" fill="#f2a862"/>
<rect x="267" y="682.4" width="12.4" height="12.6" fill="#7b9dc3"/>
<text x="143" y="694" font-size="12" font-weight="normal" fill="#000" text-anchor="start" textLength="68" lengthAdjust="spacingAndGlyphs" >WTI原油先物</text>
<text x="284" y="694" font-size="12" font-weight="normal" fill="#000" text-anchor="start" textLength="79" lengthAdjust="spacingAndGlyphs" >北海ブレント先物</text>
<text x="677" y="696" font-size="14" font-weight="normal" fill="#000" text-anchor="start" textLength="51.5" lengthAdjust="spacingAndGlyphs" >(年月日)</text>
<line x1="1501.6" y1="347" x2="1501.6" y2="609.3" stroke="#aaa" stroke-width="1.2" />
<line x1="889.4" y1="347" x2="889.4" y2="609.3" stroke="#555" stroke-width="1.2" />
<line x1="884.9" y1="378.4" x2="889.4" y2="378.4" stroke="#555" stroke-width="1.2" />
<text x="882.6" y="382.59999999999997" font-size="12" font-weight="normal" fill="#000" text-anchor="end" textLength="23.1" lengthAdjust="spacingAndGlyphs" >200</text>
<line x1="884.9" y1="435.4" x2="889.4" y2="435.4" stroke="#555" stroke-width="1.2" />
<text x="882.6" y="439.59999999999997" font-size="12" font-weight="normal" fill="#000" text-anchor="end" textLength="23.1" lengthAdjust="spacingAndGlyphs" >150</text>
<line x1="884.9" y1="494.5" x2="889.4" y2="494.5" stroke="#555" stroke-width="1.2" />
<text x="882.6" y="498.7" font-size="12" font-weight="normal" fill="#000" text-anchor="end" textLength="23.1" lengthAdjust="spacingAndGlyphs" >100</text>
<line x1="884.9" y1="551.4" x2="889.4" y2="551.4" stroke="#555" stroke-width="1.2" />
<text x="882.6" y="555.6" font-size="12" font-weight="normal" fill="#000" text-anchor="end" textLength="15.2" lengthAdjust="spacingAndGlyphs" >50</text>
<line x1="884.9" y1="608.4" x2="889.4" y2="608.4" stroke="#555" stroke-width="1.2" />
<text x="882.6" y="605.2" font-size="12" font-weight="normal" fill="#000" text-anchor="end" textLength="7.3" lengthAdjust="spacingAndGlyphs" >0</text>
<polyline points="890.0,586.7 890.2,586.9 890.4,588.0 890.6,587.6 890.8,587.2 891.0,589.3 891.2,589.1 891.4,589.8 891.6,591.0 891.8,591.3 892.0,593.8 892.2,593.0 892.4,593.2 892.6,596.6 892.8,595.8 893.0,597.0 893.2,596.1 893.4,596.9 893.6,595.5 893.8,595.9 894.0,595.6 894.2,595.4 894.4,594.4 894.6,595.2 894.8,595.7 895.0,597.0 895.2,596.4 895.4,597.2 895.6,597.7 895.8,597.7 896.0,597.1 896.2,598.8 896.4,598.0 896.6,597.0 896.8,597.4 897.0,596.5 897.2,597.1 897.4,597.4 897.6,597.1 897.8,598.7 898.0,598.3 898.2,597.1 898.4,598.0 898.6,596.0 898.8,596.6 899.0,596.2 899.2,597.6 899.4,596.6 899.6,596.7 899.8,598.8 900.0,598.7 900.2,598.4 900.4,597.8 900.6,597.0 900.8,596.2 901.0,596.3 901.2,596.9 901.4,595.2 901.6,595.6 901.8,595.1 902.0,596.0 902.2,595.1 902.4,595.6 902.6,595.9 902.8,593.0 903.0,594.0 903.2,594.9 903.4,594.4 903.6,593.4 903.8,592.7 904.0,593.1 904.2,591.2 904.4,593.4 904.6,594.1 904.8,593.9 905.0,594.3 905.2,592.8 905.4,594.4 905.6,593.8 905.8,596.0 906.0,595.6 906.2,596.8 906.4,595.7 906.6,596.5 906.8,595.7 907.0,594.9 907.2,595.8 907.4,595.9 907.6,597.6 907.8,595.9 908.0,596.1 908.2,596.8 908.4,596.4 908.6,595.7 908.8,595.7 909.0,593.7 909.2,594.4 909.4,593.6 909.6,592.3 909.8,591.5 910.0,591.9 910.2,590.6 910.4,589.9 910.6,591.2 910.8,590.8 911.0,592.0 911.2,591.9 911.4,590.8 911.6,591.2 911.8,590.6 912.0,590.8 912.2,590.0 912.4,591.5 912.6,589.9 912.8,589.7 913.0,591.8 913.2,591.8 913.4,590.7 913.6,590.2 913.8,592.9 914.0,592.0 914.2,590.6 914.4,590.6 914.6,591.0 914.8,590.6 915.0,589.6 915.2,590.7 915.4,589.6 915.6,590.6 915.8,591.7 916.0,590.8 916.2,592.7 916.4,590.8 916.6,591.9 916.8,591.4 917.0,592.5 917.2,590.8 917.4,590.7 917.6,590.0 917.8,590.3 918.0,590.1 918.2,588.4 918.4,587.2 918.6,588.1 918.8,587.1 919.0,587.1 919.2,587.2 919.4,587.8 919.6,586.2 919.8,585.6 920.0,585.7 920.2,585.1 920.4,584.0 920.6,583.2 920.8,583.6 921.0,582.4 921.2,582.3 921.4,581.9 921.6,581.3 921.8,582.0 922.0,581.4 922.2,580.1 922.4,579.3 922.6,580.6 922.8,580.7 923.0,580.1 923.2,580.4 923.4,579.6 923.6,578.4 923.8,579.2 924.0,580.0 924.2,578.6 924.4,579.3 924.6,579.6 924.8,579.5 925.0,578.4 925.2,579.1 925.4,579.2 925.6,579.7 925.8,580.0 926.0,579.4 926.2,579.2 926.4,581.4 926.6,580.6 926.8,581.6 927.0,579.9 927.2,582.2 927.4,581.2 927.6,581.6 927.8,581.5 928.0,581.4 928.2,580.9 928.4,581.1 928.6,582.3 928.8,581.0 929.0,581.7 929.2,582.2 929.4,581.5 929.6,580.1 929.8,579.0 930.0,580.0 930.2,579.1 930.4,580.1 930.6,580.8 930.8,580.1 931.0,582.0 931.2,581.9 931.4,583.0 931.6,582.8 931.8,583.3 932.0,583.7 932.2,582.8 932.4,583.2 932.6,581.9 932.8,583.8 933.0,583.9 933.2,583.3 933.4,584.1 933.6,582.2 933.8,582.1 934.0,582.4 934.2,582.2 934.4,582.0 934.6,582.3 934.8,581.2 935.0,581.6 935.2,581.4 935.4,581.5 935.6,580.9 935.8,580.0 936.0,580.2 936.2,579.4 936.4,580.4 936.6,580.2 936.8,579.0 937.0,580.4 937.2,580.1 937.4,578.8 937.6,579.5 937.8,579.5 938.0,579.0 938.2,579.6 938.4,579.8 938.6,578.8 938.8,579.5 939.0,579.3 939.2,578.5 939.4,578.6 939.6,579.1 939.8,578.7 940.0,576.9 940.2,577.0 940.4,577.1 940.6,578.4 940.8,577.9 941.0,579.4 941.2,577.8 941.4,578.4 941.6,579.3 941.8,578.4 942.0,577.6 942.2,577.1 942.4,578.9 942.6,577.4 942.8,580.0 943.0,579.3 943.2,579.5 943.4,579.0 943.6,578.2 943.8,578.7 944.0,579.5 944.2,578.8 944.4,577.5 944.6,578.4 944.8,576.9 945.0,577.1 945.2,576.6 945.4,576.4 945.6,577.7 945.8,577.8 946.0,577.0 946.2,577.1 946.4,576.6 946.6,577.7 946.8,577.8 947.0,577.5 947.2,577.9 947.4,578.2 947.6,576.7 947.8,576.6 948.0,576.5 948.2,575.7 948.4,575.0 948.6,574.4 948.8,574.9 949.0,575.6 949.2,575.8 949.4,575.2 949.6,575.3 949.8,576.9 950.0,577.7 950.2,575.9 950.4,577.2 950.6,577.7 950.8,577.5 951.0,578.5 951.2,578.0 951.4,576.4 951.6,577.8 951.8,576.0 952.0,575.5 952.2,576.9 952.4,578.5 952.6,580.1 952.8,581.8 953.0,581.2 953.2,580.1 953.4,580.5 953.6,580.1 953.8,580.8 954.0,577.6 954.2,577.7 954.4,576.0 954.6,575.2 954.8,574.2 955.0,573.7 955.2,573.4 955.4,572.0 955.6,571.1 955.8,571.7 956.0,570.3 956.2,570.9 956.4,570.9 956.6,570.2 956.8,571.0 957.0,569.9 957.2,570.7 957.4,570.4 957.6,570.7 957.8,570.4 958.0,569.0 958.2,568.2 958.4,569.8 958.6,568.7 958.8,570.3 959.0,568.4 959.2,567.6 959.4,567.3 959.6,568.4 959.8,569.7 960.0,569.3 960.2,570.8 960.4,570.3 960.6,570.6 960.8,568.7 961.0,570.2 961.2,570.4 961.4,570.7 961.6,569.8 961.8,571.1 962.0,570.4 962.2,573.2 962.4,573.1 962.6,571.2 962.8,572.2 963.0,572.6 963.2,573.8 963.4,573.5 963.6,574.2 963.8,576.4 964.0,575.1 964.2,577.3 964.4,577.2 964.6,577.1 964.8,578.0 965.0,578.5 965.2,578.5 965.4,579.6 965.6,579.3 965.8,579.9 966.0,581.3 966.2,581.6 966.4,581.0 966.6,581.4 966.8,583.4 967.0,582.3 967.2,582.7 967.4,582.5 967.6,582.4 967.8,582.6 968.0,583.4 968.2,582.6 968.4,581.1 968.6,581.1 968.8,581.1 969.0,581.2 969.2,580.6 969.4,579.9 969.6,581.7 969.8,581.9 970.0,581.1 970.2,582.1 970.4,582.4 970.6,582.2 970.8,583.1 971.0,584.0 971.2,583.6 971.4,582.8 971.6,583.5 971.8,582.9 972.0,583.3 972.2,583.8 972.4,584.1 972.6,584.8 972.8,584.1 973.0,586.2 973.2,586.7 973.4,586.2 973.6,587.5 973.8,586.9 974.0,585.4 974.2,586.3 974.4,588.0 974.6,587.2 974.8,587.4 975.0,589.0 975.2,589.6 975.4,590.2 975.6,591.6 975.8,591.1 976.0,591.9 976.2,592.7 976.4,593.2 976.6,594.7 976.8,594.5 977.0,594.3 977.2,594.4 977.4,596.0 977.6,596.3 977.8,594.7 978.0,595.5 978.2,597.2 978.4,595.2 978.6,595.6 978.8,596.9 979.0,597.1 979.2,597.2 979.4,596.5 979.6,597.5 979.8,597.5 980.0,595.4 980.2,595.3 980.4,594.4 980.6,595.8 980.8,593.9 981.0,594.7 981.2,595.5 981.4,594.1 981.6,594.4 981.8,594.1 982.0,595.6 982.2,594.5 982.4,595.3 982.6,595.5 982.8,595.5 983.0,594.9 983.2,596.0 983.4,594.8 983.6,596.4 983.8,597.3 984.0,596.3 984.2,594.6 984.4,596.2 984.6,595.3 984.8,596.6 985.0,595.4 985.2,596.8 985.4,595.8 985.6,595.4 985.8,595.5 986.0,596.5 986.2,595.4 986.4,595.2 986.6,596.2 986.8,596.4 987.0,595.4 987.2,596.7 987.4,596.8 987.6,598.2 987.8,597.9 988.0,597.9 988.2,598.7 988.4,597.3 988.6,597.4 988.8,597.8 989.0,598.1 989.2,597.2 989.4,597.5 989.6,596.7 989.8,597.1 990.0,597.9 990.2,599.2 990.4,600.1 990.6,600.2 990.8,598.3 991.0,598.9 991.2,599.5 991.4,598.8 991.6,599.3 991.8,597.3 992.0,597.3 992.2,598.6 992.4,597.4 992.6,597.3 992.8,597.3 993.0,596.0 993.2,597.4 993.4,597.3 993.6,596.8 993.8,597.0 994.0,597.1 994.2,595.8 994.4,596.1 994.6,595.9 994.8,597.4 995.0,596.2 995.2,597.0 995.4,595.3 995.6,596.7 995.8,596.3 996.0,597.0 996.2,597.1 996.4,596.6 996.6,595.8 996.8,595.2 997.0,595.2 997.2,594.4 997.4,594.0 997.6,595.4 997.8,595.6 998.0,595.6 998.2,596.9 998.4,595.7 998.6,596.3 998.8,595.2 999.0,596.6 999.2,594.4 999.4,595.3 999.6,595.7 999.8,595.5 1000.0,594.9 1000.2,595.8 1000.4,595.0 1000.6,595.5 1000.8,595.3 1001.0,595.1 1001.2,594.4 1001.4,595.0 1001.6,593.8 1001.8,593.6 1002.0,594.9 1002.2,593.8 1002.4,595.5 1002.6,596.0 1002.8,596.8 1003.0,596.1 1003.2,596.3 1003.4,595.2 1003.6,595.1 1003.8,594.6 1004.0,595.4 1004.2,594.9 1004.4,596.0 1004.6,595.5 1004.8,593.9 1005.0,594.9 1005.2,595.6 1005.4,595.0 1005.6,595.7 1005.8,595.0 1006.0,596.3 1006.2,596.1 1006.4,594.8 1006.6,594.7 1006.8,594.4 1007.0,593.7 1007.2,593.7 1007.4,595.4 1007.6,594.7 1007.8,596.0 1008.0,594.8 1008.2,594.9 1008.4,594.4 1008.6,595.1 1008.8,594.9 1009.0,593.7 1009.2,594.9 1009.4,594.1 1009.6,594.7 1009.8,594.0 1010.0,594.6 1010.2,594.3 1010.4,594.5 1010.6,593.0 1010.8,593.1 1011.0,593.7 1011.2,593.1 1011.4,592.2 1011.6,592.3 1011.8,591.7 1012.0,593.1 1012.2,591.6 1012.4,591.4 1012.6,592.5 1012.8,591.3 1013.0,592.4 1013.2,592.2 1013.4,592.4 1013.6,593.7 1013.8,592.2 1014.0,593.1 1014.2,593.8 1014.4,593.3 1014.6,593.6 1014.8,592.9 1015.0,593.9 1015.2,594.7 1015.4,595.3 1015.6,595.1 1015.8,595.0 1016.0,593.6 1016.2,594.4 1016.4,595.8 1016.6,594.7 1016.8,595.0 1017.0,595.2 1017.2,596.6 1017.4,595.2 1017.6,594.0 1017.8,594.3 1018.0,595.2 1018.2,596.2 1018.4,594.4 1018.6,595.5 1018.8,596.9 1019.0,595.9 1019.2,595.5 1019.4,596.6 1019.6,594.5 1019.8,595.6 1020.0,596.2 1020.2,593.8 1020.4,593.5 1020.6,592.8 1020.8,593.7 1021.0,594.2 1021.2,592.5 1021.4,592.5 1021.6,594.1 1021.8,591.6 1022.0,591.4 1022.2,590.6 1022.4,591.2 1022.6,590.6 1022.8,591.2 1023.0,590.3 1023.2,590.4 1023.4,588.6 1023.6,588.6 1023.8,588.7 1024.0,589.7 1024.2,588.5 1024.4,589.5 1024.6,589.7 1024.8,590.1 1025.0,588.8 1025.2,589.4 1025.4,590.3 1025.6,588.4 1025.8,590.4 1026.0,590.3 1026.2,589.2 1026.4,588.2 1026.6,588.9 1026.8,589.4 1027.0,586.8 1027.2,588.1 1027.4,588.9 1027.6,587.2 1027.8,587.8 1028.0,586.9 1028.2,586.9 1028.4,587.6 1028.6,587.4 1028.8,587.6 1029.0,586.7 1029.2,585.7 1029.4,587.0 1029.6,584.7 1029.8,586.4 1030.0,585.3 1030.2,585.6 1030.4,586.1 1030.6,586.4 1030.8,585.9 1031.0,586.5 1031.2,588.6 1031.4,588.0 1031.6,589.0 1031.8,588.3 1032.0,587.6 1032.2,587.1 1032.4,587.0 1032.6,587.2 1032.8,588.2 1033.0,588.5 1033.2,587.4 1033.4,586.8 1033.6,588.3 1033.8,587.3 1034.0,587.3 1034.2,588.0 1034.4,588.8 1034.6,588.9 1034.8,588.0 1035.0,588.2 1035.2,588.7 1035.4,588.6 1035.6,588.6 1035.8,585.8 1036.0,586.1 1036.2,587.1 1036.4,586.5 1036.6,589.3 1036.8,587.2 1037.0,588.0 1037.2,588.4 1037.4,587.4 1037.6,588.4 1037.8,587.2 1038.0,587.7 1038.2,588.4 1038.4,588.0 1038.6,586.0 1038.8,588.0 1039.0,587.2 1039.2,588.7 1039.4,587.3 1039.6,589.2 1039.8,587.5 1040.0,589.0 1040.2,589.3 1040.4,587.8 1040.6,587.5 1040.8,588.9 1041.0,588.1 1041.2,588.4 1041.4,587.3 1041.6,587.2 1041.8,587.9 1042.0,586.3 1042.2,586.1 1042.4,587.3 1042.6,588.0 1042.8,586.5 1043.0,587.9 1043.2,588.4 1043.4,588.6 1043.6,586.7 1043.8,586.0 1044.0,587.0 1044.2,588.6 1044.4,586.2 1044.6,586.6 1044.8,586.0 1045.0,587.2 1045.2,585.6 1045.4,586.6 1045.6,586.5 1045.8,586.4 1046.0,584.1 1046.2,584.5 1046.4,584.8 1046.6,584.4 1046.8,583.1 1047.0,583.5 1047.2,583.9 1047.4,582.7 1047.6,582.1 1047.8,581.7 1048.0,582.6 1048.2,580.7 1048.4,582.4 1048.6,581.5 1048.8,582.5 1049.0,583.4 1049.2,582.9 1049.4,584.4 1049.6,583.4 1049.8,583.3 1050.0,582.1 1050.2,582.6 1050.4,584.2 1050.6,582.0 1050.8,582.7 1051.0,582.2 1051.2,583.9 1051.4,584.5 1051.6,585.3 1051.8,583.5 1052.0,582.8 1052.2,584.0 1052.4,582.8 1052.6,583.9 1052.8,583.6 1053.0,583.4 1053.2,583.6 1053.4,583.5 1053.6,583.7 1053.8,584.1 1054.0,584.7 1054.2,585.0 1054.4,583.9 1054.6,584.3 1054.8,584.6 1055.0,583.5 1055.2,582.1 1055.4,581.2 1055.6,580.9 1055.8,582.3 1056.0,581.7 1056.2,582.1 1056.4,581.0 1056.6,580.2 1056.8,580.8 1057.0,579.7 1057.2,579.3 1057.4,580.1 1057.6,578.9 1057.8,579.8 1058.0,581.1 1058.2,580.9 1058.4,579.7 1058.6,580.3 1058.8,580.4 1059.0,579.3 1059.2,580.6 1059.4,579.6 1059.6,580.4 1059.8,581.2 1060.0,580.0 1060.2,581.3 1060.4,579.2 1060.6,579.6 1060.8,579.6 1061.0,581.2 1061.2,580.8 1061.4,580.4 1061.6,581.2 1061.8,582.1 1062.0,582.1 1062.2,582.6 1062.4,581.3 1062.6,580.5 1062.8,579.8 1063.0,580.9 1063.2,579.1 1063.4,578.4 1063.6,579.1 1063.8,580.4 1064.0,580.0 1064.2,579.6 1064.4,578.9 1064.6,579.5 1064.8,580.1 1065.0,580.3 1065.2,581.2 1065.4,582.0 1065.6,581.4 1065.8,582.0 1066.0,581.1 1066.2,582.2 1066.4,582.7 1066.6,582.1 1066.8,582.0 1067.0,581.3 1067.2,581.7 1067.4,583.5 1067.6,581.7 1067.8,581.7 1068.0,582.3 1068.2,582.1 1068.4,583.0 1068.6,582.5 1068.8,583.7 1069.0,584.2 1069.2,583.2 1069.4,583.1 1069.6,582.2 1069.8,582.3 1070.0,582.8 1070.2,581.9 1070.4,583.5 1070.6,582.3 1070.8,583.1 1071.0,584.2 1071.2,583.7 1071.4,583.6 1071.6,583.6 1071.8,583.5 1072.0,584.3 1072.2,583.4 1072.4,584.1 1072.6,583.4 1072.8,583.7 1073.0,583.2 1073.2,582.5 1073.4,584.1 1073.6,583.6 1073.8,582.1 1074.0,583.9 1074.2,581.9 1074.4,581.6 1074.6,582.4 1074.8,582.9 1075.0,582.2 1075.2,583.0 1075.4,582.9 1075.6,582.6 1075.8,582.1 1076.0,580.8 1076.2,580.9 1076.4,581.4 1076.6,581.7 1076.8,582.1 1077.0,581.8 1077.2,579.9 1077.4,580.4 1077.6,579.5 1077.8,580.3 1078.0,578.5 1078.2,579.5 1078.4,578.3 1078.6,579.7 1078.8,578.2 1079.0,578.1 1079.2,578.0 1079.4,579.0 1079.6,577.5 1079.8,579.7 1080.0,579.2 1080.2,579.5 1080.4,578.6 1080.6,579.2 1080.8,578.8 1081.0,578.7 1081.2,580.0 1081.4,579.4 1081.6,579.1 1081.8,579.2 1082.0,578.9 1082.2,580.4 1082.4,580.1 1082.6,581.1 1082.8,581.6 1083.0,580.0 1083.2,581.9 1083.4,580.9 1083.6,579.9 1083.8,580.1 1084.0,579.1 1084.2,579.6 1084.4,581.3 1084.6,579.1 1084.8,580.5 1085.0,579.2 1085.2,580.6 1085.4,581.3 1085.6,580.7 1085.8,579.8 1086.0,581.2 1086.2,579.8 1086.4,580.3 1086.6,581.1 1086.8,579.9 1087.0,579.8 1087.2,581.8 1087.4,581.0 1087.6,581.6 1087.8,582.0 1088.0,581.2 1088.2,580.9 1088.4,579.8 1088.6,579.7 1088.8,581.3 1089.0,581.2 1089.2,580.5 1089.4,579.4 1089.6,580.7 1089.8,580.5 1090.0,580.7 1090.2,580.1 1090.4,581.4 1090.6,581.6 1090.8,582.9 1091.0,583.5 1091.2,582.7 1091.4,582.4 1091.6,583.8 1091.8,581.9 1092.0,582.6 1092.2,582.7 1092.4,582.9 1092.6,583.2 1092.8,583.4 1093.0,584.2 1093.2,582.8 1093.4,583.0 1093.6,583.3 1093.8,583.6 1094.0,582.9 1094.2,582.4 1094.4,581.9 1094.6,583.3 1094.8,582.8 1095.0,582.2 1095.2,583.7 1095.4,584.0 1095.6,583.2 1095.8,582.9 1096.0,583.2 1096.2,582.9 1096.4,582.0 1096.6,582.2 1096.8,583.4 1097.0,583.3 1097.2,581.6 1097.4,582.2 1097.6,581.4 1097.8,580.8 1098.0,581.8 1098.2,580.8 1098.4,580.5 1098.6,581.0 1098.8,581.5 1099.0,580.3 1099.2,580.8 1099.4,580.9 1099.6,581.0 1099.8,581.4 1100.0,579.7 1100.2,580.3 1100.4,582.0 1100.6,582.0 1100.8,582.4 1101.0,582.3 1101.2,583.1 1101.4,582.1 1101.6,581.2 1101.8,582.3 1102.0,581.9 1102.2,581.8 1102.4,583.1 1102.6,582.8 1102.8,582.4 1103.0,582.5 1103.2,582.5 1103.4,582.2 1103.6,582.7 1103.8,583.3 1104.0,583.4 1104.2,583.7 1104.4,583.8 1104.6,584.6 1104.8,582.2 1105.0,582.5 1105.2,584.2 1105.4,583.2 1105.6,583.9 1105.8,583.4 1106.0,583.4 1106.2,583.7 1106.4,582.5 1106.6,583.2 1106.8,583.7 1107.0,583.4 1107.2,581.7 1107.4,581.8 1107.6,580.0 1107.8,581.9 1108.0,580.2 1108.2,581.9 1108.4,582.3 1108.6,582.5 1108.8,582.0 1109.0,581.7 1109.2,582.3 1109.4,582.4 1109.6,581.6 1109.8,581.2 1110.0,580.9 1110.2,581.9 1110.4,581.0 1110.6,580.3 1110.8,580.6 1111.0,580.9 1111.2,580.8 1111.4,580.9 1111.6,579.9 1111.8,580.9 1112.0,581.6 1112.2,580.9 1112.4,580.1 1112.6,580.7 1112.8,580.2 1113.0,579.7 1113.2,580.5 1113.4,579.4 1113.6,578.5 1113.8,579.6 1114.0,578.6 1114.2,580.2 1114.4,580.8 1114.6,579.2 1114.8,579.6 1115.0,578.8 1115.2,579.8 1115.4,578.4 1115.6,579.8 1115.8,578.9 1116.0,579.4 1116.2,579.0 1116.4,580.8 1116.6,580.0 1116.8,579.4 1117.0,580.2 1117.2,578.0 1117.4,578.2 1117.6,579.1 1117.8,579.7 1118.0,578.7 1118.2,578.4 1118.4,579.6 1118.6,579.8 1118.8,579.4 1119.0,578.8 1119.2,578.8 1119.4,578.1 1119.6,579.8 1119.8,578.6 1120.0,578.2 1120.2,577.4 1120.4,576.8 1120.6,578.3 1120.8,578.0 1121.0,578.2 1121.2,577.3 1121.4,577.5 1121.6,579.2 1121.8,578.6 1122.0,578.6 1122.2,578.0 1122.4,578.3 1122.6,579.3 1122.8,578.4 1123.0,578.7 1123.2,577.2 1123.4,578.9 1123.6,578.8 1123.8,577.5 1124.0,578.7 1124.2,577.8 1124.4,578.1 1124.6,578.6 1124.8,577.9 1125.0,578.3 1125.2,578.8 1125.4,578.3 1125.6,578.5 1125.8,578.0 1126.0,577.6 1126.2,579.2 1126.4,578.8 1126.6,576.9 1126.8,577.9 1127.0,578.4 1127.2,576.1 1127.4,577.6 1127.6,576.6 1127.8,576.7 1128.0,576.9 1128.2,577.8 1128.4,578.5 1128.6,577.9 1128.8,578.3 1129.0,577.8 1129.2,579.9 1129.4,578.8 1129.6,579.2 1129.8,579.7 1130.0,578.7 1130.2,578.2 1130.4,577.7 1130.6,578.6 1130.8,577.3 1131.0,575.9 1131.2,575.6 1131.4,576.2 1131.6,576.7 1131.8,577.7 1132.0,578.5 1132.2,578.3 1132.4,577.5 1132.6,578.9 1132.8,578.0 1133.0,578.3 1133.2,578.5 1133.4,577.7 1133.6,579.1 1133.8,577.2 1134.0,579.8 1134.2,577.4 1134.4,577.2 1134.6,578.2 1134.8,579.5 1135.0,578.1 1135.2,577.8 1135.4,577.6 1135.6,577.7 1135.8,578.0 1136.0,578.5 1136.2,578.5 1136.4,577.4 1136.6,578.8 1136.8,579.7 1137.0,579.0 1137.2,578.7 1137.4,578.7 1137.6,579.1 1137.8,577.4 1138.0,578.1 1138.2,579.2 1138.4,576.1 1138.6,576.2 1138.8,577.2 1139.0,575.9 1139.2,575.5 1139.4,575.4 1139.6,576.2 1139.8,576.9 1140.0,576.2 1140.2,576.2 1140.4,577.2 1140.6,575.1 1140.8,575.8 1141.0,577.4 1141.2,577.2 1141.4,576.5 1141.6,577.5 1141.8,577.8 1142.0,577.8 1142.2,580.0 1142.4,578.8 1142.6,578.7 1142.8,578.5 1143.0,577.3 1143.2,577.8 1143.4,577.0 1143.6,577.4 1143.8,579.2 1144.0,578.2 1144.2,577.7 1144.4,577.5 1144.6,579.0 1144.8,578.5 1145.0,577.7 1145.2,578.4 1145.4,578.6 1145.6,577.4 1145.8,578.8 1146.0,579.0 1146.2,578.5 1146.4,579.1 1146.6,577.8 1146.8,578.3 1147.0,579.3 1147.2,576.8 1147.4,577.3 1147.6,578.5 1147.8,576.7 1148.0,575.7 1148.2,576.8 1148.4,576.0 1148.6,576.2 1148.8,575.9 1149.0,576.2 1149.2,577.1 1149.4,577.2 1149.6,577.3 1149.8,577.9 1150.0,578.9 1150.2,577.4 1150.4,579.0 1150.6,578.9 1150.8,578.2 1151.0,578.8 1151.2,577.3 1151.4,577.8 1151.6,578.8 1151.8,577.8 1152.0,578.4 1152.2,579.4 1152.4,580.3 1152.6,580.0 1152.8,580.1 1153.0,579.3 1153.2,580.0 1153.4,579.8 1153.6,579.1 1153.8,578.7 1154.0,578.8 1154.2,578.5 1154.4,579.3 1154.6,578.9 1154.8,578.9 1155.0,580.5 1155.2,578.9 1155.4,579.1 1155.6,579.8 1155.8,578.2 1156.0,579.7 1156.2,580.1 1156.4,580.0 1156.6,578.4 1156.8,579.2 1157.0,579.3 1157.2,577.2 1157.4,577.0 1157.6,578.7 1157.8,578.9 1158.0,578.2 1158.2,579.7 1158.4,578.6 1158.6,580.4 1158.8,579.5 1159.0,579.5 1159.2,577.7 1159.4,579.0 1159.6,578.3 1159.8,577.4 1160.0,578.9 1160.2,577.1 1160.4,576.6 1160.6,578.3 1160.8,577.2 1161.0,577.7 1161.2,577.7 1161.4,577.2 1161.6,578.1 1161.8,577.1 1162.0,577.9 1162.2,578.5 1162.4,576.9 1162.6,576.4 1162.8,576.1 1163.0,577.0 1163.2,578.1 1163.4,577.0 1163.6,576.2 1163.8,576.3 1164.0,577.2 1164.2,577.4 1164.4,576.6 1164.6,575.8 1164.8,577.0 1165.0,576.6 1165.2,576.4 1165.4,576.0 1165.6,578.1 1165.8,577.4 1166.0,578.2 1166.2,577.5 1166.4,575.6 1166.6,576.8 1166.8,576.6 1167.0,574.8 1167.2,576.2 1167.4,575.0 1167.6,577.2 1167.8,575.2 1168.0,576.7 1168.2,576.5 1168.4,576.6 1168.6,576.6 1168.8,574.6 1169.0,575.9 1169.2,575.3 1169.4,574.4 1169.6,574.6 1169.8,574.7 1170.0,576.2 1170.2,575.7 1170.4,575.7 1170.6,577.3 1170.8,577.8 1171.0,579.0 1171.2,577.0 1171.4,578.1 1171.6,579.0 1171.8,578.6 1172.0,579.3 1172.2,578.4 1172.4,579.0 1172.6,579.8 1172.8,579.5 1173.0,579.6 1173.2,580.2 1173.4,581.0 1173.6,581.0 1173.8,580.3 1174.0,580.2 1174.2,581.1 1174.4,580.9 1174.6,580.3 1174.8,579.5 1175.0,579.4 1175.2,580.0 1175.4,580.0 1175.6,581.3 1175.8,579.9 1176.0,580.5 1176.2,581.7 1176.4,582.2 1176.6,580.4 1176.8,581.9 1177.0,581.7 1177.2,581.1 1177.4,581.2 1177.6,580.5 1177.8,582.9 1178.0,582.0 1178.2,583.6 1178.4,583.9 1178.6,583.1 1178.8,583.1 1179.0,583.5 1179.2,584.9 1179.4,582.6 1179.6,583.2 1179.8,583.5 1180.0,583.5 1180.2,582.5 1180.4,584.7 1180.6,583.2 1180.8,583.3 1181.0,584.9 1181.2,583.4 1181.4,584.7 1181.6,584.1 1181.8,584.6 1182.0,585.3 1182.2,586.4 1182.4,587.3 1182.6,585.7 1182.8,586.2 1183.0,586.7 1183.2,588.4 1183.4,587.3 1183.6,588.4 1183.8,589.0 1184.0,589.7 1184.2,588.4 1184.4,587.7 1184.6,588.7 1184.8,587.9 1185.0,589.3 1185.2,589.4 1185.4,590.2 1185.6,590.6 1185.8,588.5 1186.0,588.2 1186.2,590.0 1186.4,588.5 1186.6,589.8 1186.8,589.8 1187.0,590.6 1187.2,589.4 1187.4,590.5 1187.6,589.7 1187.8,589.7 1188.0,590.8 1188.2,589.6 1188.4,588.9 1188.6,591.3 1188.8,590.7 1189.0,588.8 1189.2,589.0 1189.4,588.4 1189.6,588.6 1189.8,589.8 1190.0,590.2 1190.2,590.8 1190.4,591.0 1190.6,590.8 1190.8,589.5 1191.0,589.5 1191.2,589.7 1191.4,589.1 1191.6,589.2 1191.8,590.2 1192.0,590.3 1192.2,589.1 1192.4,590.2 1192.6,589.9 1192.8,590.4 1193.0,589.1 1193.2,588.9 1193.4,590.3 1193.6,589.0 1193.8,588.5 1194.0,588.8 1194.2,588.2 1194.4,589.7 1194.6,589.2 1194.8,588.1 1195.0,588.8 1195.2,587.3 1195.4,586.2 1195.6,587.4 1195.8,586.9 1196.0,586.4 1196.2,584.7 1196.4,585.0 1196.6,584.2 1196.8,583.0 1197.0,583.9 1197.2,583.3 1197.4,582.6 1197.6,582.8 1197.8,582.3 1198.0,582.5 1198.2,582.1 1198.4,582.4 1198.6,583.5 1198.8,583.3 1199.0,583.5 1199.2,583.6 1199.4,584.2 1199.6,583.4 1199.8,583.6 1200.0,583.4 1200.2,583.6 1200.4,583.6 1200.6,584.4 1200.8,583.3 1201.0,584.2 1201.2,582.4 1201.4,582.9 1201.6,581.6 1201.8,582.0 1202.0,580.6 1202.2,581.6 1202.4,579.5 1202.6,581.2 1202.8,580.2 1203.0,578.6 1203.2,578.9 1203.4,579.1 1203.6,579.2 1203.8,578.4 1204.0,578.9 1204.2,579.1 1204.4,579.5 1204.6,579.2 1204.8,578.9 1205.0,578.4 1205.2,578.3 1205.4,579.9 1205.6,579.5 1205.8,579.1 1206.0,580.3 1206.2,578.2 1206.4,580.4 1206.6,578.2 1206.8,578.8 1207.0,578.7 1207.2,580.9 1207.4,579.3 1207.6,579.9 1207.8,580.2 1208.0,580.8 1208.2,580.5 1208.4,579.5 1208.6,579.1 1208.8,580.1 1209.0,580.2 1209.2,581.2 1209.4,581.1 1209.6,581.2 1209.8,582.5 1210.0,583.0 1210.2,583.5 1210.4,583.2 1210.6,584.1 1210.8,583.6 1211.0,584.3 1211.2,584.6 1211.4,582.9 1211.6,584.2 1211.8,584.2 1212.0,585.3 1212.2,584.8 1212.4,586.4 1212.6,587.4 1212.8,586.7 1213.0,585.8 1213.2,585.4 1213.4,586.0 1213.6,586.3 1213.8,585.4 1214.0,586.2 1214.2,584.4 1214.4,585.4 1214.6,585.1 1214.8,584.3 1215.0,584.8 1215.2,584.0 1215.4,582.8 1215.6,583.1 1215.8,582.1 1216.0,582.0 1216.2,581.5 1216.4,583.6 1216.6,583.7 1216.8,583.4 1217.0,581.8 1217.2,582.2 1217.4,584.3 1217.6,584.0 1217.8,583.0 1218.0,583.5 1218.2,582.6 1218.4,583.2 1218.6,583.3 1218.8,582.2 1219.0,581.8 1219.2,581.4 1219.4,584.3 1219.6,582.5 1219.8,584.0 1220.0,584.1 1220.2,584.7 1220.4,583.5 1220.6,584.8 1220.8,585.4 1221.0,585.0 1221.2,585.0 1221.4,583.7 1221.6,583.5 1221.8,582.7 1222.0,583.2 1222.2,583.1 1222.4,584.5 1222.6,583.9 1222.8,582.9 1223.0,581.6 1223.2,583.7 1223.4,584.3 1223.6,583.4 1223.8,582.2 1224.0,582.8 1224.2,584.8 1224.4,583.7 1224.6,584.2 1224.8,584.3 1225.0,585.0 1225.2,584.2 1225.4,585.4 1225.6,585.4 1225.8,585.3 1226.0,584.3 1226.2,583.9 1226.4,584.3 1226.6,584.5 1226.8,585.4 1227.0,584.9 1227.2,583.5 1227.4,583.0 1227.6,583.2 1227.8,582.6 1228.0,583.6 1228.2,583.0 1228.4,582.6 1228.6,582.1 1228.8,582.8 1229.0,584.8 1229.2,582.1 1229.4,584.3 1229.6,583.5 1229.8,584.1 1230.0,584.7 1230.2,584.7 1230.4,583.2 1230.6,583.5 1230.8,585.3 1231.0,584.7 1231.2,584.7 1231.4,585.0 1231.6,583.4 1231.8,582.0 1232.0,584.4 1232.2,584.2 1232.4,583.7 1232.6,582.8 1232.8,584.6 1233.0,583.2 1233.2,584.4 1233.4,585.5 1233.6,584.1 1233.8,584.3 1234.0,584.1 1234.2,585.6 1234.4,585.9 1234.6,585.3 1234.8,585.5 1235.0,585.3 1235.2,586.3 1235.4,585.8 1235.6,585.7 1235.8,586.6 1236.0,585.3 1236.2,585.6 1236.4,586.5 1236.6,586.9 1236.8,587.6 1237.0,588.5 1237.2,586.3 1237.4,585.5 1237.6,586.8 1237.8,585.9 1238.0,584.8 1238.2,586.1 1238.4,584.7 1238.6,582.9 1238.8,584.6 1239.0,583.8 1239.2,583.4 1239.4,584.8 1239.6,584.3 1239.8,585.8 1240.0,584.6 1240.2,585.3 1240.4,585.4 1240.6,586.0 1240.8,585.9 1241.0,586.4 1241.2,587.4 1241.4,586.6 1241.6,587.6 1241.8,586.7 1242.0,586.8 1242.2,585.5 1242.4,585.6 1242.6,586.3 1242.8,587.7 1243.0,587.0 1243.2,587.8 1243.4,587.1 1243.6,587.3 1243.8,587.4 1244.0,588.3 1244.2,588.1 1244.4,588.3 1244.6,589.6 1244.8,587.8 1245.0,589.9 1245.2,589.9 1245.4,590.2 1245.6,590.2 1245.8,589.1 1246.0,588.4 1246.2,588.5 1246.4,587.9 1246.6,587.3 1246.8,588.4 1247.0,586.5 1247.2,587.9 1247.4,587.2 1247.6,587.7 1247.8,589.1 1248.0,588.3 1248.2,587.8 1248.4,587.4 1248.6,588.5 1248.8,586.7 1249.0,587.6 1249.2,588.0 1249.4,588.5 1249.6,589.6 1249.8,588.5 1250.0,589.0 1250.2,589.2 1250.4,589.0 1250.6,588.3 1250.8,590.5 1251.0,590.1 1251.2,591.8 1251.4,591.5 1251.6,592.5 1251.8,593.5 1252.0,592.6 1252.2,593.6 1252.4,593.2 1252.6,595.1 1252.8,593.9 1253.0,594.9 1253.2,594.4 1253.4,595.1 1253.6,593.6 1253.8,593.5 1254.0,594.1 1254.2,594.1 1254.4,593.5 1254.6,593.7 1254.8,594.0 1255.0,594.4 1255.2,593.1 1255.4,592.6 1255.6,593.4 1255.8,595.3 1256.0,594.0 1256.2,594.5 1256.4,594.4 1256.6,594.6 1256.8,595.7 1257.0,595.6 1257.2,595.4 1257.4,596.7 1257.6,595.9 1257.8,596.0 1258.0,594.8 1258.2,596.8 1258.4,596.3 1258.6,597.2 1258.8,595.8 1259.0,596.5 1259.2,596.0 1259.4,596.5 1259.6,595.1 1259.8,596.4 1260.0,596.3 1260.2,594.2 1260.4,594.1 1260.6,595.4 1260.8,594.5 1261.0,593.7 1261.2,593.9 1261.4,595.6 1261.6,595.0 1261.8,594.6 1262.0,595.3 1262.2,594.8 1262.4,595.3 1262.6,593.9 1262.8,594.3 1263.0,593.8 1263.2,594.6 1263.4,594.1 1263.6,594.8 1263.8,595.7 1264.0,596.1 1264.2,594.1 1264.4,593.7 1264.6,593.8 1264.8,592.8 1265.0,592.9 1265.2,594.2 1265.4,594.0 1265.6,592.5 1265.8,593.8 1266.0,591.8 1266.2,593.9 1266.4,592.6 1266.6,592.2 1266.8,592.6 1267.0,592.3 1267.2,591.7 1267.4,591.8 1267.6,592.7 1267.8,592.7 1268.0,593.6 1268.2,592.5 1268.4,592.7 1268.6,592.0 1268.8,592.7 1269.0,592.4 1269.2,591.2 1269.4,591.0 1269.6,593.3 1269.8,592.1 1270.0,591.1 1270.2,592.3 1270.4,592.6 1270.6,592.4 1270.8,592.5 1271.0,591.4 1271.2,590.9 1271.4,591.1 1271.6,592.1 1271.8,592.4 1272.0,591.0 1272.2,591.8 1272.4,592.9 1272.6,592.5 1272.8,592.8 1273.0,592.8 1273.2,593.3 1273.4,594.3 1273.6,595.4 1273.8,595.2 1274.0,594.0 1274.2,594.9 1274.4,594.5 1274.6,594.6 1274.8,594.7 1275.0,595.2 1275.2,595.4 1275.4,596.1 1275.6,596.3 1275.8,595.8 1276.0,596.7 1276.2,595.1 1276.4,595.4 1276.6,595.6 1276.8,594.9 1277.0,594.7 1277.2,595.7 1277.4,593.6 1277.6,592.6 1277.8,592.3 1278.0,593.2 1278.2,592.0 1278.4,592.7 1278.6,592.5 1278.8,592.2 1279.0,591.6 1279.2,591.4 1279.4,590.5 1279.6,590.3 1279.8,592.6 1280.0,591.3 1280.2,591.9 1280.4,590.1 1280.6,591.0 1280.8,591.0 1281.0,590.5 1281.2,591.9 1281.4,591.4 1281.6,589.2 1281.8,589.9 1282.0,590.6 1282.2,589.2 1282.4,589.6 1282.6,588.0 1282.8,587.3 1283.0,587.4 1283.2,587.2 1283.4,587.2 1283.6,587.8 1283.8,588.1 1284.0,587.2 1284.2,588.3 1284.4,589.5 1284.6,590.2 1284.8,589.4 1285.0,588.2 1285.2,589.1 1285.4,588.5 1285.6,588.0 1285.8,587.8 1286.0,586.0 1286.2,587.3 1286.4,586.8 1286.6,586.7 1286.8,586.4 1287.0,587.4 1287.2,587.9 1287.4,587.7 1287.6,587.6 1287.8,587.8 1288.0,586.5 1288.2,585.6 1288.4,585.9 1288.6,585.9 1288.8,584.7 1289.0,584.0 1289.2,585.4 1289.4,586.5 1289.6,586.3 1289.8,586.4 1290.0,586.0 1290.2,586.9 1290.4,587.0 1290.6,585.1 1290.8,586.4 1291.0,585.7 1291.2,585.8 1291.4,584.6 1291.6,586.1 1291.8,585.5 1292.0,585.9 1292.2,584.3 1292.4,583.4 1292.6,583.2 1292.8,582.9 1293.0,582.7 1293.2,584.3 1293.4,585.0 1293.6,582.4 1293.8,582.4 1294.0,583.6 1294.2,584.6 1294.4,582.9 1294.6,583.8 1294.8,583.2 1295.0,584.8 1295.2,583.6 1295.4,585.1 1295.6,585.5 1295.8,584.0 1296.0,585.1 1296.2,586.2 1296.4,586.3 1296.6,587.3 1296.8,587.6 1297.0,587.2 1297.2,586.6 1297.4,587.9 1297.6,588.1 1297.8,587.8 1298.0,588.5 1298.2,588.9 1298.4,588.5 1298.6,588.5 1298.8,587.8 1299.0,589.1 1299.2,589.3 1299.4,591.0 1299.6,590.4 1299.8,591.1 1300.0,590.9 1300.2,591.6 1300.4,591.8 1300.6,589.9 1300.8,589.7 1301.0,589.2 1301.2,590.8 1301.4,591.3 1301.6,591.4 1301.8,591.6 1302.0,591.6 1302.2,590.9 1302.4,590.1 1302.6,588.7 1302.8,588.6 1303.0,590.4 1303.2,589.7 1303.4,589.8 1303.6,591.8 1303.8,591.5 1304.0,592.5 1304.2,591.4 1304.4,592.7 1304.6,590.5 1304.8,591.5 1305.0,592.2 1305.2,591.3 1305.4,590.7 1305.6,592.0 1305.8,591.0 1306.0,592.4 1306.2,592.3 1306.4,591.9 1306.6,593.0 1306.8,591.3 1307.0,592.2 1307.2,592.5 1307.4,593.8 1307.6,593.2 1307.8,592.9 1308.0,591.8 1308.2,592.5 1308.4,592.0 1308.6,592.3 1308.8,592.4 1309.0,591.7 1309.2,592.2 1309.4,591.5 1309.6,590.5 1309.8,591.1 1310.0,590.3 1310.2,591.8 1310.4,590.8 1310.6,592.4 1310.8,592.1 1311.0,591.8 1311.2,591.2 1311.4,590.7 1311.6,591.2 1311.8,591.9 1312.0,591.3 1312.2,592.1 1312.4,590.5 1312.6,591.1 1312.8,590.3 1313.0,590.5 1313.2,588.4 1313.4,588.4 1313.6,588.7 1313.8,588.0 1314.0,587.6 1314.2,590.1 1314.4,589.3 1314.6,589.4 1314.8,590.4 1315.0,590.0 1315.2,591.7 1315.4,590.5 1315.6,588.5 1315.8,588.1 1316.0,589.1 1316.2,588.3 1316.4,589.7 1316.6,590.7 1316.8,589.2 1317.0,589.2 1317.2,588.2 1317.4,589.3 1317.6,589.3 1317.8,588.7 1318.0,587.2 1318.2,587.4 1318.4,587.7 1318.6,586.9 1318.8,588.3 1319.0,588.7 1319.2,588.7 1319.4,588.3 1319.6,587.1 1319.8,589.2 1320.0,588.8 1320.2,588.9 1320.4,587.6 1320.6,587.6 1320.8,588.2 1321.0,588.2 1321.2,588.9 1321.4,587.4 1321.6,587.7 1321.8,589.2 1322.0,588.0 1322.2,587.6 1322.4,588.4 1322.6,586.8 1322.8,585.8 1323.0,586.1 1323.2,584.7 1323.4,584.4 1323.6,585.6 1323.8,584.4 1324.0,585.3 1324.2,585.9 1324.4,586.2 1324.6,586.5 1324.8,588.2 1325.0,587.2 1325.2,586.5 1325.4,588.0 1325.6,586.6 1325.8,586.9 1326.0,584.3 1326.2,585.5 1326.4,586.2 1326.6,586.5 1326.8,585.1 1327.0,586.6 1327.2,585.5 1327.4,586.5 1327.6,585.4 1327.8,584.5 1328.0,585.0 1328.2,585.9 1328.4,585.8 1328.6,585.8 1328.8,585.6 1329.0,584.9 1329.2,584.3 1329.4,583.7 1329.6,583.9 1329.8,585.0 1330.0,585.1 1330.2,584.7 1330.4,586.4 1330.6,586.5 1330.8,586.1 1331.0,587.8 1331.2,587.9 1331.4,588.0 1331.6,587.7 1331.8,586.9 1332.0,586.7 1332.2,587.0 1332.4,588.0 1332.6,589.2 1332.8,587.2 1333.0,587.9 1333.2,587.8 1333.4,586.6 1333.6,586.9 1333.8,586.2 1334.0,585.9 1334.2,587.5 1334.4,587.9 1334.6,586.7 1334.8,587.8 1335.0,588.2 1335.2,587.4 1335.4,588.3 1335.6,586.3 1335.8,588.3 1336.0,587.9 1336.2,587.7 1336.4,586.4 1336.6,586.1 1336.8,585.7 1337.0,585.3 1337.2,587.2 1337.4,586.9 1337.6,585.5 1337.8,585.9 1338.0,586.2 1338.2,584.6 1338.4,584.5 1338.6,585.1 1338.8,584.6 1339.0,584.9 1339.2,584.6 1339.4,584.8 1339.6,585.0 1339.8,584.7 1340.0,584.1 1340.2,584.1 1340.4,583.7 1340.6,582.7 1340.8,583.3 1341.0,582.2 1341.2,582.9 1341.4,584.0 1341.6,582.9 1341.8,583.1 1342.0,584.1 1342.2,583.4 1342.4,584.5 1342.6,585.0 1342.8,583.8 1343.0,583.5 1343.2,583.3 1343.4,583.9 1343.6,585.2 1343.8,584.9 1344.0,585.0 1344.2,585.2 1344.4,583.4 1344.6,584.3 1344.8,583.8 1345.0,583.9 1345.2,585.6 1345.4,584.7 1345.6,584.4 1345.8,583.2 1346.0,583.0 1346.2,584.1 1346.4,582.0 1346.6,583.2 1346.8,583.2 1347.0,584.1 1347.2,583.7 1347.4,582.4 1347.6,583.1 1347.8,583.6 1348.0,582.2 1348.2,580.9 1348.4,581.7 1348.6,582.2 1348.8,581.2 1349.0,581.7 1349.2,582.4 1349.4,581.2 1349.6,582.0 1349.8,581.8 1350.0,583.1 1350.2,584.2 1350.4,582.4 1350.6,583.9 1350.8,582.9 1351.0,584.0 1351.2,582.8 1351.4,583.6 1351.6,583.5 1351.8,582.7 1352.0,581.2 1352.2,581.3 1352.4,582.7 1352.6,583.1 1352.8,582.8 1353.0,582.8 1353.2,582.6 1353.4,584.2 1353.6,584.2 1353.8,583.6 1354.0,584.6 1354.2,583.9 1354.4,585.4 1354.6,583.6 1354.8,583.0 1355.0,583.4 1355.2,581.8 1355.4,581.5 1355.6,583.1 1355.8,582.8 1356.0,583.2 1356.2,581.5 1356.4,581.1 1356.6,580.2 1356.8,580.7 1357.0,581.6 1357.2,580.9 1357.4,581.1 1357.6,580.5 1357.8,580.2 1358.0,579.5 1358.2,578.5 1358.4,578.4 1358.6,579.8 1358.8,581.0 1359.0,579.7 1359.2,577.7 1359.4,578.4 1359.6,576.7 1359.8,576.2 1360.0,575.2 1360.2,576.4 1360.4,576.1 1360.6,576.9 1360.8,576.9 1361.0,577.2 1361.2,578.0 1361.4,576.7 1361.6,578.4 1361.8,576.9 1362.0,578.0 1362.2,577.7 1362.4,578.5 1362.6,578.5 1362.8,578.1 1363.0,577.1 1363.2,578.8 1363.4,577.5 1363.6,578.4 1363.8,579.0 1364.0,578.4 1364.2,578.4 1364.4,576.9 1364.6,577.3 1364.8,577.8 1365.0,578.4 1365.2,578.7 1365.4,578.9 1365.6,578.9 1365.8,578.0 1366.0,577.8 1366.2,579.9 1366.4,579.1 1366.6,578.3 1366.8,579.1 1367.0,578.6 1367.2,578.3 1367.4,579.5 1367.6,580.2 1367.8,579.5 1368.0,579.0 1368.2,579.1 1368.4,579.8 1368.6,579.8 1368.8,578.8 1369.0,579.1 1369.2,579.9 1369.4,581.5 1369.6,581.9 1369.8,580.9 1370.0,580.4 1370.2,582.6 1370.4,582.9 1370.6,582.8 1370.8,582.5 1371.0,582.4 1371.2,582.5 1371.4,581.3 1371.6,582.4 1371.8,582.3 1372.0,581.7 1372.2,580.4 1372.4,581.1 1372.6,579.7 1372.8,580.9 1373.0,580.6 1373.2,580.8 1373.4,581.4 1373.6,581.2 1373.8,581.5 1374.0,581.0 1374.2,583.6 1374.4,582.7 1374.6,583.8 1374.8,583.9 1375.0,582.9 1375.2,584.2 1375.4,583.0 1375.6,583.6 1375.8,585.0 1376.0,584.4 1376.2,585.2 1376.4,586.0 1376.6,587.1 1376.8,586.3 1377.0,588.2 1377.2,588.1 1377.4,587.3 1377.6,587.8 1377.8,588.2 1378.0,589.1 1378.2,587.8 1378.4,588.3 1378.6,587.8 1378.8,588.1 1379.0,589.4 1379.2,590.3 1379.4,591.0 1379.6,589.8 1379.8,589.9 1380.0,590.5 1380.2,591.3 1380.4,591.1 1380.6,591.3 1380.8,590.5 1381.0,590.3 1381.2,590.4 1381.4,590.8 1381.6,590.8 1381.8,591.6 1382.0,591.1 1382.2,590.3 1382.4,590.3 1382.6,590.3 1382.8,590.2 1383.0,590.5 1383.2,591.9 1383.4,591.0 1383.6,592.4 1383.8,592.5 1384.0,591.6 1384.2,593.2 1384.4,592.0 1384.6,591.5 1384.8,592.0 1385.0,590.9 1385.2,591.2 1385.4,591.7 1385.6,590.4 1385.8,590.4 1386.0,590.5 1386.2,591.6 1386.4,590.8 1386.6,592.0 1386.8,590.7 1387.0,591.8 1387.2,591.9 1387.4,592.4 1387.6,591.8 1387.8,592.6 1388.0,591.4 1388.2,592.5 1388.4,593.4 1388.6,594.3 1388.8,593.0 1389.0,593.4 1389.2,594.1 1389.4,593.1 1389.6,593.9 1389.8,593.8 1390.0,593.4 1390.2,594.1 1390.4,594.6 1390.6,595.2 1390.8,595.0 1391.0,595.5 1391.2,594.1 1391.4,593.9 1391.6,595.4 1391.8,595.9 1392.0,596.0 1392.2,595.7 1392.4,594.9 1392.6,595.0 1392.8,596.3 1393.0,595.8 1393.2,595.4 1393.4,595.0 1393.6,594.6 1393.8,593.9 1394.0,594.6 1394.2,594.7 1394.4,594.1 1394.6,595.7 1394.8,594.9 1395.0,593.8 1395.2,594.4 1395.4,595.0 1395.6,595.8 1395.8,595.5 1396.0,595.7 1396.2,594.6 1396.4,595.9 1396.6,595.9 1396.8,595.1 1397.0,595.7 1397.2,595.9 1397.4,595.4 1397.6,594.3 1397.8,595.0 1398.0,594.0 1398.2,594.5 1398.4,595.8 1398.6,594.3 1398.8,593.3 1399.0,595.5 1399.2,595.4 1399.4,594.4 1399.6,593.2 1399.8,592.3 1400.0,592.8 1400.2,593.3 1400.4,590.8 1400.6,592.1 1400.8,591.5 1401.0,591.5 1401.2,591.4 1401.4,592.0 1401.6,591.5 1401.8,591.7 1402.0,592.8 1402.2,591.3 1402.4,592.5 1402.6,592.1 1402.8,591.8 1403.0,591.5 1403.2,591.0 1403.4,590.9 1403.6,591.3 1403.8,590.4 1404.0,590.3 1404.2,588.4 1404.4,590.8 1404.6,591.6 1404.8,590.0 1405.0,590.6 1405.2,591.7 1405.4,591.6 1405.6,591.3 1405.8,592.2 1406.0,591.7 1406.2,592.0 1406.4,592.2 1406.6,592.7 1406.8,591.6 1407.0,591.9 1407.2,593.8 1407.4,593.6 1407.6,591.8 1407.8,592.5 1408.0,594.3 1408.2,593.2 1408.4,593.2 1408.6,593.8 1408.8,593.3 1409.0,593.8 1409.2,591.4 1409.4,592.0 1409.6,590.8 1409.8,591.1 1410.0,591.8 1410.2,592.2 1410.4,592.5 1410.6,591.9 1410.8,590.8 1411.0,592.1 1411.2,591.4 1411.4,593.2 1411.6,593.9 1411.8,593.0 1412.0,592.8 1412.2,593.8 1412.4,592.7 1412.6,594.3 1412.8,593.1 1413.0,594.2 1413.2,594.3 1413.4,593.5 1413.6,594.3 1413.8,594.8 1414.0,595.3 1414.2,593.6 1414.4,594.6 1414.6,595.1 1414.8,595.3 1415.0,595.2 1415.2,594.3 1415.4,595.4 1415.6,595.2 1415.8,595.2 1416.0,595.0 1416.2,595.0 1416.4,595.5 1416.6,594.1 1416.8,595.3 1417.0,596.5 1417.2,595.9 1417.4,595.9 1417.6,595.5 1417.8,595.9 1418.0,597.0 1418.2,597.0 1418.4,596.5 1418.6,596.7 1418.8,597.6 1419.0,596.9 1419.2,599.1 1419.4,598.0 1419.6,598.1 1419.8,599.3 1420.0,599.6 1420.2,599.7 1420.4,598.9 1420.6,599.1 1420.8,599.1 1421.0,599.7 1421.2,599.5 1421.4,599.3 1421.6,599.1 1421.8,599.9 1422.0,599.2 1422.2,599.8 1422.4,599.2 1422.6,600.6 1422.8,600.3 1423.0,599.3 1423.2,599.2 1423.4,599.3 1423.6,600.9 1423.8,601.0 1424.0,601.5 1424.2,599.7 1424.4,600.8 1424.6,601.2 1424.8,601.0 1425.0,600.4 1425.2,602.4 1425.4,600.7 1425.6,602.2 1425.8,602.9 1426.0,603.1 1426.2,603.0 1426.4,601.9 1426.6,604.3 1426.8,602.1 1427.0,603.7 1427.2,603.4 1427.4,603.0 1427.6,603.6 1427.8,603.8 1428.0,603.6 1428.2,604.7 1428.4,603.5 1428.6,605.7 1428.8,606.2 1429.0,605.5 1429.2,606.2 1429.4,605.0 1429.6,604.3 1429.8,604.9 1430.0,604.8 1430.2,605.2 1430.4,604.5 1430.6,603.5 1430.8,604.3 1431.0,602.6 1431.2,604.3 1431.4,602.5 1431.6,603.1 1431.8,602.9 1432.0,603.0 1432.2,602.7 1432.4,602.9 1432.6,602.6 1432.8,603.5 1433.0,603.5 1433.2,603.5 1433.4,601.0 1433.6,601.3 1433.8,600.9 1434.0,599.0 1434.2,600.9 1434.4,600.8 1434.6,598.4 1434.8,600.2 1435.0,599.8 1435.2,599.9 1435.4,599.2 1435.6,600.4 1435.8,600.3 1436.0,599.0 1436.2,599.1 1436.4,599.6 1436.6,599.6 1436.8,597.6 1437.0,596.9 1437.2,599.5 1437.4,597.3 1437.6,598.8 1437.8,598.0 1438.0,598.0 1438.2,598.6 1438.4,597.6 1438.6,599.2 1438.8,597.7 1439.0,596.3 1439.2,597.2 1439.4,597.2 1439.6,597.2 1439.8,596.9 1440.0,596.2 1440.2,597.1 1440.4,597.1 1440.6,596.5 1440.8,595.3 1441.0,597.3 1441.2,595.7 1441.4,597.3 1441.6,596.6 1441.8,596.8 1442.0,596.4 1442.2,595.2 1442.4,594.9 1442.6,595.0 1442.8,596.1 1443.0,595.0 1443.2,594.9 1443.4,593.9 1443.6,594.4 1443.8,592.5 1444.0,593.6 1444.2,593.6 1444.4,592.3 1444.6,592.3 1444.8,592.8 1445.0,592.4 1445.2,593.9 1445.4,593.7 1445.6,593.3 1445.8,593.1 1446.0,591.6 1446.2,591.2 1446.4,592.0 1446.6,590.8 1446.8,590.6 1447.0,589.8 1447.2,589.3 1447.4,591.1 1447.6,591.1 1447.8,589.8 1448.0,590.6 1448.2,590.4 1448.4,588.6 1448.6,589.6 1448.8,588.1 1449.0,588.6 1449.2,588.2 1449.4,588.6 1449.6,586.6 1449.8,587.4 1450.0,585.6 1450.2,584.8 1450.4,585.1 1450.6,584.0 1450.8,583.6 1451.0,582.1 1451.2,583.2 1451.4,581.5 1451.6,581.1 1451.8,581.3 1452.0,581.3 1452.2,581.3 1452.4,579.5 1452.6,580.7 1452.8,579.3 1453.0,578.3 1453.2,580.0 1453.4,578.3 1453.6,579.5 1453.8,579.5 1454.0,580.6 1454.2,581.1 1454.4,582.1 1454.6,581.8 1454.8,583.2 1455.0,583.3 1455.2,583.2 1455.4,583.4 1455.6,585.0 1455.8,583.7 1456.0,584.9 1456.2,585.8 1456.4,585.0 1456.6,587.0 1456.8,586.7 1457.0,587.6 1457.2,588.2 1457.4,586.4 1457.6,587.5 1457.8,588.1 1458.0,588.3 1458.2,589.1 1458.4,587.2 1458.6,587.8 1458.8,586.6 1459.0,587.9 1459.2,588.0 1459.4,586.8 1459.6,586.0 1459.8,586.9 1460.0,587.3 1460.2,587.7 1460.4,586.1 1460.6,586.9 1460.8,587.6 1461.0,587.5 1461.2,586.6 1461.4,587.4 1461.6,585.9 1461.8,585.5 1462.0,585.4 1462.2,585.2 1462.4,584.4 1462.6,585.6 1462.8,585.4 1463.0,584.8 1463.2,583.9 1463.4,584.3 1463.6,585.2 1463.8,583.1 1464.0,582.3 1464.2,582.1 1464.4,582.8 1464.6,583.5 1464.8,582.2 1465.0,582.5 1465.2,583.9 1465.4,582.9 1465.6,583.9 1465.8,582.8 1466.0,582.9 1466.2,582.3 1466.4,581.4 1466.6,580.2 1466.8,580.6 1467.0,579.7 1467.2,579.0 1467.4,579.9 1467.6,579.6 1467.8,577.7 1468.0,577.5 1468.2,577.9 1468.4,577.6 1468.6,577.8 1468.8,578.9 1469.0,578.6 1469.2,577.1 1469.4,576.8 1469.6,578.0 1469.8,577.0 1470.0,578.4 1470.2,577.5 1470.4,576.4 1470.6,576.9 1470.8,576.4 1471.0,576.2 1471.2,576.2 1471.4,575.6 1471.6,575.1 1471.8,575.4 1472.0,574.0 1472.2,573.8 1472.4,573.6 1472.6,571.6 1472.8,572.3 1473.0,571.8 1473.2,569.7 1473.4,570.9 1473.6,569.9 1473.8,569.7 1474.0,569.3 1474.2,569.0 1474.4,566.1 1474.6,567.4 1474.8,567.2 1475.0,565.3 1475.2,564.9 1475.4,563.6 1475.6,565.0 1475.8,563.5 1476.0,562.8 1476.2,560.5 1476.4,560.2 1476.6,559.3 1476.8,559.2 1477.0,559.7 1477.2,558.6 1477.4,556.4 1477.6,557.5 1477.8,557.6 1478.0,556.6 1478.2,554.3 1478.4,553.6 1478.6,550.3 1478.8,550.5 1479.0,547.7 1479.2,545.9 1479.4,543.5 1479.6,541.5 1479.8,541.4 1480.0,539.9 1480.2,536.4 1480.4,533.1 1480.6,529.4 1480.8,527.4 1481.0,524.7 1481.2,515.6 1481.5,505.4 1481.8,513.9 1482.0,519.7 1482.2,509.8 1482.4,501.5 1482.6,489.2 1482.8,482.9 1483.0,474.7 1483.2,493.8 1483.4,512.1 1483.6,508.1 1483.8,503.3 1484.0,499.3 1484.2,512.6 1484.5,526.1 1484.8,515.7 1485.0,504.4 1485.2,516.7 1485.5,529.0 1485.8,513.5 1486.0,497.2 1486.2,508.8 1486.5,520.7 1486.8,526.7 1487.0,533.3 1487.2,520.0 1487.5,504.3 1487.8,517.8 1488.0,527.8 1488.2,513.4 1488.5,499.0 1488.8,515.9 1489.0,530.5 1489.2,512.2 1489.5,496.3 1489.8,504.6 1490.0,511.3 1490.2,498.4 1490.4,483.7 1490.6,470.4 1490.8,456.2 1491.0,444.4 1491.2,430.9 1491.4,415.8 1491.6,400.9 1491.8,426.1 1492.0,449.9 1492.2,463.8 1492.4,479.6 1492.6,494.5 1492.8,510.5 1493.1,529.6 1493.3,517.2 1493.6,505.2 1493.8,518.1 1494.1,531.6 1494.3,515.4 1494.6,497.9 1494.8,511.6 1495.1,524.5 1495.3,511.7 1495.6,499.3 1495.8,513.8 1496.1,528.1 1496.3,511.2 1496.6,495.6 1496.8,513.1 1497.1,530.4 1497.3,517.2 1497.6,505.4 1497.8,517.3 1498.1,529.2 1498.3,510.7 1498.6,490.4 1498.8,506.1 1499.1,519.6 1499.3,470.1 1499.6,419.2 1499.8,389.8 1500.0,359.9 1500.2,400.1 1500.4,439.1 1500.6,466.5 1500.8,495.1 1501.0,482.7 1501.2,470.6 1501.4,476.7 1501.6,485.0" fill="none" stroke="#7b9dc3" stroke-width="2.9" stroke-linejoin="round" stroke-linecap="round" opacity="1" />
<line x1="889.4" y1="494.8" x2="1501.6" y2="494.8" stroke="rgba(60,60,60,0.45)" stroke-width="1.6" />
<line x1="889.4" y1="609.3" x2="1501.6" y2="609.3" stroke="#555" stroke-width="1.7" />
<line x1="889.4" y1="611.5" x2="1501.6" y2="611.5" stroke="#999" stroke-width="1.3" stroke-dasharray="1.1 1.2"/>
<line x1="889.4" y1="609.3" x2="889.4" y2="613.8" stroke="#222" stroke-width="1.4" />
<line x1="929.5" y1="609.3" x2="929.5" y2="613.8" stroke="#222" stroke-width="1.4" />
<line x1="969.6" y1="609.3" x2="969.6" y2="613.8" stroke="#222" stroke-width="1.4" />
<line x1="1009.7" y1="609.3" x2="1009.7" y2="613.8" stroke="#222" stroke-width="1.4" />
<line x1="1049.8" y1="609.3" x2="1049.8" y2="613.8" stroke="#222" stroke-width="1.4" />
<line x1="1089.9" y1="609.3" x2="1089.9" y2="613.8" stroke="#222" stroke-width="1.4" />
<line x1="1130.0" y1="609.3" x2="1130.0" y2="613.8" stroke="#222" stroke-width="1.4" />
<line x1="1170.1" y1="609.3" x2="1170.1" y2="613.8" stroke="#222" stroke-width="1.4" />
<line x1="1210.2" y1="609.3" x2="1210.2" y2="613.8" stroke="#222" stroke-width="1.4" />
<line x1="1250.3" y1="609.3" x2="1250.3" y2="613.8" stroke="#222" stroke-width="1.4" />
<line x1="1290.4" y1="609.3" x2="1290.4" y2="613.8" stroke="#222" stroke-width="1.4" />
<line x1="1330.5" y1="609.3" x2="1330.5" y2="613.8" stroke="#222" stroke-width="1.4" />
<line x1="1370.6" y1="609.3" x2="1370.6" y2="613.8" stroke="#222" stroke-width="1.4" />
<line x1="1410.7" y1="609.3" x2="1410.7" y2="613.8" stroke="#222" stroke-width="1.4" />
<line x1="1450.8" y1="609.3" x2="1450.8" y2="613.8" stroke="#222" stroke-width="1.4" />
<line x1="1490.9" y1="609.3" x2="1490.9" y2="613.8" stroke="#222" stroke-width="1.4" />
<text x="0" y="0" font-size="14.5" font-weight="normal" fill="#000" text-anchor="start" textLength="57.5" lengthAdjust="spacingAndGlyphs" transform="translate(890.7,620.5) rotate(90)">07/01/01</text>
<text x="0" y="0" font-size="14.5" font-weight="normal" fill="#000" text-anchor="start" textLength="57.5" lengthAdjust="spacingAndGlyphs" transform="translate(924.3,620.5) rotate(90)">08/01/01</text>
<text x="0" y="0" font-size="14.5" font-weight="normal" fill="#000" text-anchor="start" textLength="57.5" lengthAdjust="spacingAndGlyphs" transform="translate(964.4,620.5) rotate(90)">09/01/01</text>
<text x="0" y="0" font-size="14.5" font-weight="normal" fill="#000" text-anchor="start" textLength="57.5" lengthAdjust="spacingAndGlyphs" transform="translate(1004.5,620.5) rotate(90)">10/01/01</text>
<text x="0" y="0" font-size="14.5" font-weight="normal" fill="#000" text-anchor="start" textLength="57.5" lengthAdjust="spacingAndGlyphs" transform="translate(1044.6,620.5) rotate(90)">11/01/01</text>
<text x="0" y="0" font-size="14.5" font-weight="normal" fill="#000" text-anchor="start" textLength="57.5" lengthAdjust="spacingAndGlyphs" transform="translate(1084.7,620.5) rotate(90)">12/01/01</text>
<text x="0" y="0" font-size="14.5" font-weight="normal" fill="#000" text-anchor="start" textLength="57.5" lengthAdjust="spacingAndGlyphs" transform="translate(1124.8,620.5) rotate(90)">13/01/01</text>
<text x="0" y="0" font-size="14.5" font-weight="normal" fill="#000" text-anchor="start" textLength="57.5" lengthAdjust="spacingAndGlyphs" transform="translate(1164.9,620.5) rotate(90)">14/01/01</text>
<text x="0" y="0" font-size="14.5" font-weight="normal" fill="#000" text-anchor="start" textLength="57.5" lengthAdjust="spacingAndGlyphs" transform="translate(1205.0,620.5) rotate(90)">15/01/01</text>
<text x="0" y="0" font-size="14.5" font-weight="normal" fill="#000" text-anchor="start" textLength="57.5" lengthAdjust="spacingAndGlyphs" transform="translate(1245.1,620.5) rotate(90)">16/01/01</text>
<text x="0" y="0" font-size="14.5" font-weight="normal" fill="#000" text-anchor="start" textLength="57.5" lengthAdjust="spacingAndGlyphs" transform="translate(1285.2,620.5) rotate(90)">17/01/01</text>
<text x="0" y="0" font-size="14.5" font-weight="normal" fill="#000" text-anchor="start" textLength="57.5" lengthAdjust="spacingAndGlyphs" transform="translate(1325.3,620.5) rotate(90)">18/01/01</text>
<text x="0" y="0" font-size="14.5" font-weight="normal" fill="#000" text-anchor="start" textLength="57.5" lengthAdjust="spacingAndGlyphs" transform="translate(1365.4,620.5) rotate(90)">19/01/01</text>
<text x="0" y="0" font-size="14.5" font-weight="normal" fill="#000" text-anchor="start" textLength="57.5" lengthAdjust="spacingAndGlyphs" transform="translate(1405.5,620.5) rotate(90)">20/01/01</text>
<text x="0" y="0" font-size="14.5" font-weight="normal" fill="#000" text-anchor="start" textLength="57.5" lengthAdjust="spacingAndGlyphs" transform="translate(1445.6,620.5) rotate(90)">21/01/01</text>
<text x="0" y="0" font-size="14.5" font-weight="normal" fill="#000" text-anchor="start" textLength="57.5" lengthAdjust="spacingAndGlyphs" transform="translate(1485.7,620.5) rotate(90)">22/01/01</text>
<text x="845" y="334.5" font-size="13" font-weight="normal" fill="#000" text-anchor="start" textLength="117" lengthAdjust="spacingAndGlyphs" >(ユーロ/メガワット時)</text>
<text x="893" y="491" font-size="11.5" font-weight="bold" fill="#000" text-anchor="start" textLength="29" lengthAdjust="spacingAndGlyphs" >99.0</text>
<rect x="1431" y="595" width="69" height="12" fill="#fff" opacity="0.5"/>
<text x="1433.5" y="605" font-size="12.5" font-weight="bold" fill="#000" text-anchor="start" textLength="65" lengthAdjust="spacingAndGlyphs" >22/03/25</text>
<text x="1437.5" y="692.5" font-size="14" font-weight="normal" fill="#000" text-anchor="start" textLength="55" lengthAdjust="spacingAndGlyphs" >(年月日)</text>
<line x1="724.6" y1="748" x2="724.6" y2="992" stroke="#aaa" stroke-width="1.2" />
<line x1="172.4" y1="748" x2="172.4" y2="992" stroke="#888" stroke-width="1.2" />
<line x1="167.9" y1="753" x2="172.4" y2="753" stroke="#888" stroke-width="1.2" />
<text x="166.5" y="759.7" font-size="11.2" font-weight="normal" fill="#000" text-anchor="end" textLength="28.6" lengthAdjust="spacingAndGlyphs" >4000</text>
<line x1="167.9" y1="812.6" x2="172.4" y2="812.6" stroke="#888" stroke-width="1.2" />
<text x="166.5" y="816.8000000000001" font-size="11.2" font-weight="normal" fill="#000" text-anchor="end" textLength="28.6" lengthAdjust="spacingAndGlyphs" >3000</text>
<line x1="167.9" y1="873" x2="172.4" y2="873" stroke="#888" stroke-width="1.2" />
<text x="166.5" y="877.2" font-size="11.2" font-weight="normal" fill="#000" text-anchor="end" textLength="28.6" lengthAdjust="spacingAndGlyphs" >2000</text>
<line x1="167.9" y1="932" x2="172.4" y2="932" stroke="#888" stroke-width="1.2" />
<text x="166.5" y="936.2" font-size="11.2" font-weight="normal" fill="#000" text-anchor="end" textLength="28.6" lengthAdjust="spacingAndGlyphs" >1000</text>
<line x1="167.9" y1="991.7" x2="172.4" y2="991.7" stroke="#888" stroke-width="1.2" />
<text x="166.5" y="989.2" font-size="11.2" font-weight="normal" fill="#000" text-anchor="end" textLength="6.8" lengthAdjust="spacingAndGlyphs" >0</text>
<polyline points="173.0,862.8 173.2,862.5 173.4,864.9 173.6,862.4 173.8,861.9 174.0,862.1 174.2,862.0 174.4,863.6 174.6,861.8 174.8,862.0 175.0,863.4 175.2,862.8 175.4,863.5 175.6,862.2 175.8,860.3 176.0,858.5 176.2,859.0 176.4,859.0 176.6,860.3 176.8,860.6 177.0,860.5 177.2,860.1 177.4,858.7 177.6,857.5 177.8,855.3 178.0,854.8 178.2,854.9 178.4,854.5 178.6,855.2 178.8,853.0 179.0,853.9 179.2,855.5 179.4,855.8 179.6,856.4 179.8,855.5 180.0,854.8 180.2,855.3 180.4,858.8 180.6,856.1 180.8,856.9 181.0,856.6 181.2,857.5 181.4,859.3 181.6,862.4 181.8,862.9 182.0,863.9 182.2,864.3 182.4,863.7 182.6,866.7 182.8,867.9 183.0,867.1 183.2,867.7 183.4,867.0 183.6,867.6 183.8,867.2 184.0,866.3 184.2,866.5 184.4,869.3 184.6,869.9 184.8,871.3 185.0,870.8 185.2,870.6 185.4,869.8 185.6,872.1 185.8,869.6 186.0,870.8 186.2,870.5 186.4,871.1 186.6,870.3 186.8,871.1 187.0,870.6 187.2,871.6 187.4,869.7 187.6,871.6 187.8,871.4 188.0,870.8 188.2,871.0 188.4,870.1 188.6,871.4 188.8,872.4 189.0,871.3 189.2,870.9 189.4,871.1 189.6,872.2 189.8,871.5 190.0,872.2 190.2,872.3 190.4,873.6 190.6,873.2 190.8,872.3 191.0,874.0 191.2,871.7 191.4,872.6 191.6,873.9 191.8,873.7 192.0,872.3 192.2,872.4 192.4,872.5 192.6,870.8 192.8,872.2 193.0,870.5 193.2,873.8 193.4,873.1 193.6,871.9 193.8,874.4 194.0,874.0 194.2,873.5 194.4,872.3 194.6,871.4 194.8,871.0 195.0,873.8 195.2,871.5 195.4,872.8 195.6,874.1 195.8,872.3 196.0,872.9 196.2,872.9 196.4,873.8 196.6,872.8 196.8,873.1 197.0,870.7 197.2,872.8 197.4,871.2 197.6,870.4 197.8,871.5 198.0,871.1 198.2,871.4 198.4,870.3 198.6,871.3 198.8,872.0 199.0,872.5 199.2,875.0 199.4,875.0 199.6,876.0 199.8,876.6 200.0,879.6 200.2,879.7 200.4,878.0 200.6,880.1 200.8,879.3 201.0,881.4 201.2,880.8 201.4,882.1 201.6,880.7 201.8,882.5 202.0,882.4 202.2,883.2 202.4,883.6 202.6,882.5 202.8,882.9 203.0,883.2 203.2,882.1 203.4,883.3 203.6,884.4 203.8,883.5 204.0,883.7 204.2,883.2 204.4,881.3 204.6,882.4 204.8,882.4 205.0,880.1 205.2,883.0 205.4,882.4 205.6,882.0 205.8,882.5 206.0,881.5 206.2,883.6 206.4,884.0 206.6,881.4 206.8,881.1 207.0,881.1 207.2,882.2 207.4,882.2 207.6,881.9 207.8,883.3 208.0,884.4 208.2,882.4 208.4,884.0 208.6,883.6 208.8,882.1 209.0,882.0 209.2,881.8 209.4,881.6 209.6,884.6 209.8,884.8 210.0,882.8 210.2,886.3 210.4,885.6 210.6,884.5 210.8,884.2 211.0,884.4 211.2,886.2 211.4,885.7 211.6,886.1 211.8,887.5 212.0,887.3 212.2,889.0 212.4,889.6 212.6,888.3 212.8,889.4 213.0,888.8 213.2,888.3 213.4,888.7 213.6,890.1 213.8,887.5 214.0,889.4 214.2,887.3 214.4,889.5 214.6,888.3 214.8,889.1 215.0,888.4 215.2,888.0 215.4,889.8 215.6,888.0 215.8,888.4 216.0,888.5 216.2,888.4 216.4,885.7 216.6,886.5 216.8,888.6 217.0,887.6 217.2,887.1 217.4,889.6 217.6,888.7 217.8,889.1 218.0,888.5 218.2,891.8 218.4,891.3 218.6,891.5 218.8,892.5 219.0,892.7 219.2,893.7 219.4,894.5 219.6,893.8 219.8,895.4 220.0,892.7 220.2,893.9 220.4,892.8 220.6,893.0 220.8,895.3 221.0,894.2 221.2,894.8 221.4,895.3 221.6,894.0 221.8,895.0 222.0,895.9 222.2,895.2 222.4,895.2 222.6,896.0 222.8,896.9 223.0,894.0 223.2,892.9 223.4,892.7 223.6,890.5 223.8,893.5 224.0,890.4 224.2,890.5 224.4,891.2 224.6,889.8 224.8,891.8 225.0,889.9 225.2,891.6 225.4,890.7 225.6,891.6 225.8,892.1 226.0,892.3 226.2,892.5 226.4,891.2 226.6,891.5 226.8,891.6 227.0,890.6 227.2,892.9 227.4,891.6 227.6,892.9 227.8,892.3 228.0,894.3 228.2,893.5 228.4,891.8 228.6,892.9 228.8,891.1 229.0,892.0 229.2,893.3 229.4,892.5 229.6,893.1 229.8,894.1 230.0,894.1 230.2,894.1 230.4,894.4 230.6,895.1 230.8,893.6 231.0,895.3 231.2,895.3 231.4,894.4 231.6,894.7 231.8,895.6 232.0,895.0 232.2,896.8 232.4,898.1 232.6,896.4 232.8,896.5 233.0,897.0 233.2,900.3 233.4,898.6 233.6,897.1 233.8,899.0 234.0,899.0 234.2,898.5 234.4,896.8 234.6,898.8 234.8,896.3 235.0,898.0 235.2,897.4 235.4,896.4 235.6,896.7 235.8,896.1 236.0,896.5 236.2,897.4 236.4,896.1 236.6,895.2 236.8,896.5 237.0,897.3 237.2,896.6 237.4,895.5 237.6,896.1 237.8,895.9 238.0,895.1 238.2,895.9 238.4,894.2 238.6,895.1 238.8,896.4 239.0,895.4 239.2,895.5 239.4,895.6 239.6,895.7 239.8,893.2 240.0,892.9 240.2,893.1 240.4,896.6 240.6,895.6 240.8,894.8 241.0,893.4 241.2,892.8 241.4,894.2 241.6,894.5 241.8,892.7 242.0,895.4 242.2,892.8 242.4,892.1 242.6,893.0 242.8,894.1 243.0,892.2 243.2,893.3 243.4,891.1 243.6,892.2 243.8,893.4 244.0,893.5 244.2,891.9 244.4,893.6 244.6,894.5 244.8,891.6 245.0,892.8 245.2,891.9 245.4,894.2 245.6,894.6 245.8,895.3 246.0,894.0 246.2,894.9 246.4,895.8 246.6,895.0 246.8,893.9 247.0,895.9 247.2,896.5 247.4,895.9 247.6,896.3 247.8,896.6 248.0,895.3 248.2,895.6 248.4,896.7 248.6,894.7 248.8,896.3 249.0,895.2 249.2,896.5 249.4,895.4 249.6,896.3 249.8,895.9 250.0,898.1 250.2,897.9 250.4,898.3 250.6,897.1 250.8,895.9 251.0,898.6 251.2,896.4 251.4,897.6 251.6,897.1 251.8,897.4 252.0,897.6 252.2,896.6 252.4,896.7 252.6,896.8 252.8,897.3 253.0,897.3 253.2,899.2 253.4,898.2 253.6,896.7 253.8,895.8 254.0,895.7 254.2,897.2 254.4,893.7 254.6,895.7 254.8,895.1 255.0,896.7 255.2,896.9 255.4,896.7 255.6,897.0 255.8,894.7 256.0,896.2 256.2,895.4 256.4,896.5 256.6,895.9 256.8,894.7 257.0,894.1 257.2,893.6 257.4,892.6 257.6,894.2 257.8,893.7 258.0,893.4 258.2,894.2 258.4,894.6 258.6,897.0 258.8,897.2 259.0,896.0 259.2,896.6 259.4,894.0 259.6,894.5 259.8,894.3 260.0,894.1 260.2,892.7 260.4,894.5 260.6,895.3 260.8,892.6 261.0,893.0 261.2,893.7 261.4,894.7 261.6,893.0 261.8,894.8 262.0,893.0 262.2,893.5 262.4,894.5 262.6,894.1 262.8,893.3 263.0,892.9 263.2,893.9 263.4,894.8 263.6,895.0 263.8,892.6 264.0,893.9 264.2,894.4 264.4,893.8 264.6,894.6 264.8,895.7 265.0,891.9 265.2,895.5 265.4,894.3 265.6,895.4 265.8,894.2 266.0,894.9 266.2,897.3 266.4,897.0 266.6,896.6 266.8,896.1 267.0,895.6 267.2,895.4 267.4,897.9 267.6,897.8 267.8,898.2 268.0,897.0 268.2,896.6 268.4,898.4 268.6,895.6 268.8,895.9 269.0,897.5 269.2,895.8 269.4,894.5 269.6,893.3 269.8,893.1 270.0,894.3 270.2,891.7 270.4,893.2 270.6,891.8 270.8,893.4 271.0,891.5 271.2,890.8 271.4,890.8 271.6,892.2 271.8,888.2 272.0,889.4 272.2,890.0 272.4,889.4 272.6,890.0 272.8,890.4 273.0,890.2 273.2,889.6 273.4,890.1 273.6,890.6 273.8,892.4 274.0,891.7 274.2,894.3 274.4,894.1 274.6,894.9 274.8,893.5 275.0,894.5 275.2,893.4 275.4,893.7 275.6,897.6 275.8,897.3 276.0,895.5 276.2,894.6 276.4,896.5 276.6,896.9 276.8,895.8 277.0,895.6 277.2,893.7 277.4,893.0 277.6,897.2 277.8,896.7 278.0,895.9 278.2,895.5 278.4,894.6 278.6,894.0 278.8,895.0 279.0,896.0 279.2,893.2 279.4,893.2 279.6,893.7 279.8,894.9 280.0,893.8 280.2,893.4 280.4,895.3 280.6,896.5 280.8,896.0 281.0,896.4 281.2,895.6 281.4,894.1 281.6,895.0 281.8,894.3 282.0,893.7 282.2,894.5 282.4,895.9 282.6,896.5 282.8,894.5 283.0,893.9 283.2,894.1 283.4,892.8 283.6,892.5 283.8,891.3 284.0,891.0 284.2,892.9 284.4,891.0 284.6,891.5 284.8,889.7 285.0,890.0 285.2,889.3 285.4,889.7 285.6,891.8 285.8,892.1 286.0,891.5 286.2,889.1 286.4,891.2 286.6,889.7 286.8,890.9 287.0,891.4 287.2,891.1 287.4,890.8 287.6,889.4 287.8,890.4 288.0,893.1 288.2,891.2 288.4,890.9 288.6,891.7 288.8,891.2 289.0,894.4 289.2,892.1 289.4,892.0 289.6,890.3 289.8,891.7 290.0,890.2 290.2,890.2 290.4,892.3 290.6,892.0 290.8,892.8 291.0,892.3 291.2,891.1 291.4,891.2 291.6,892.1 291.8,893.7 292.0,894.2 292.2,892.0 292.4,893.2 292.6,891.0 292.8,890.2 293.0,892.2 293.2,891.5 293.4,890.3 293.6,888.7 293.8,889.2 294.0,889.1 294.2,891.0 294.4,889.4 294.6,889.8 294.8,891.2 295.0,889.0 295.2,889.4 295.4,889.4 295.6,891.2 295.8,889.7 296.0,889.1 296.2,889.2 296.4,892.3 296.6,892.4 296.8,893.0 297.0,891.8 297.2,890.6 297.4,891.6 297.6,891.1 297.8,891.7 298.0,891.6 298.2,893.0 298.4,895.1 298.6,895.8 298.8,892.8 299.0,894.7 299.2,896.1 299.4,896.5 299.6,895.3 299.8,894.9 300.0,892.9 300.2,892.9 300.4,893.7 300.6,894.8 300.8,892.5 301.0,894.6 301.2,894.3 301.4,892.6 301.6,893.9 301.8,893.3 302.0,894.9 302.2,896.0 302.4,895.6 302.6,895.6 302.8,896.0 303.0,895.1 303.2,894.9 303.4,895.8 303.6,892.9 303.8,893.2 304.0,894.6 304.2,892.5 304.4,893.3 304.6,891.6 304.8,892.8 305.0,894.0 305.2,891.0 305.4,890.2 305.6,890.2 305.8,893.0 306.0,890.9 306.2,891.9 306.4,891.3 306.6,890.3 306.8,891.3 307.0,890.9 307.2,889.2 307.4,888.3 307.6,886.8 307.8,888.6 308.0,886.7 308.2,888.3 308.4,887.1 308.6,888.5 308.8,886.3 309.0,887.6 309.2,886.9 309.4,887.4 309.6,886.2 309.8,886.3 310.0,887.0 310.2,888.2 310.4,887.3 310.6,884.7 310.8,885.6 311.0,886.2 311.2,885.9 311.4,885.3 311.6,885.2 311.8,883.4 312.0,884.6 312.2,883.4 312.4,884.5 312.6,885.7 312.8,884.8 313.0,882.0 313.2,884.0 313.4,881.6 313.6,884.4 313.8,882.2 314.0,881.3 314.2,881.1 314.4,881.7 314.6,882.4 314.8,880.6 315.0,879.5 315.2,879.9 315.4,880.8 315.6,879.2 315.8,878.6 316.0,878.7 316.2,880.3 316.4,878.6 316.6,880.3 316.8,881.6 317.0,882.1 317.2,882.4 317.4,882.4 317.6,881.8 317.8,882.9 318.0,881.4 318.2,883.9 318.4,881.1 318.6,883.7 318.8,884.5 319.0,881.9 319.2,882.4 319.4,884.9 319.6,882.8 319.8,885.4 320.0,883.6 320.2,884.2 320.4,883.6 320.6,883.8 320.8,882.7 321.0,884.2 321.2,883.3 321.4,883.8 321.6,881.8 321.8,884.3 322.0,884.0 322.2,883.0 322.4,882.7 322.6,885.2 322.8,882.8 323.0,884.2 323.2,883.1 323.4,885.5 323.6,885.2 323.8,885.5 324.0,884.3 324.2,882.7 324.4,883.5 324.6,880.3 324.8,881.1 325.0,879.8 325.2,879.4 325.4,879.9 325.6,878.6 325.8,878.7 326.0,880.2 326.2,879.1 326.4,879.1 326.6,879.1 326.8,880.1 327.0,878.0 327.2,877.1 327.4,878.3 327.6,876.3 327.8,876.1 328.0,875.0 328.2,874.5 328.4,875.3 328.6,876.0 328.8,873.7 329.0,875.0 329.2,873.7 329.4,873.4 329.6,876.0 329.8,874.1 330.0,874.3 330.2,874.9 330.4,874.6 330.6,876.9 330.8,876.8 331.0,875.2 331.2,875.2 331.4,874.4 331.6,875.8 331.8,876.5 332.0,875.8 332.2,876.0 332.4,874.3 332.6,874.9 332.8,873.9 333.0,873.5 333.2,874.2 333.4,874.2 333.6,874.9 333.8,874.1 334.0,873.8 334.2,874.0 334.4,874.1 334.6,874.1 334.8,876.0 335.0,874.0 335.2,873.3 335.4,872.8 335.6,871.7 335.8,873.7 336.0,874.4 336.2,873.2 336.4,875.1 336.6,874.3 336.8,874.6 337.0,873.1 337.2,872.1 337.4,873.7 337.6,872.1 337.8,873.0 338.0,871.0 338.2,869.9 338.4,871.8 338.6,871.7 338.8,872.2 339.0,869.6 339.2,869.5 339.4,870.4 339.6,870.9 339.8,872.3 340.0,870.5 340.2,872.2 340.4,871.5 340.6,870.9 340.8,871.0 341.0,870.4 341.2,870.2 341.4,870.7 341.6,871.2 341.8,873.3 342.0,870.7 342.2,871.5 342.4,873.1 342.6,871.6 342.8,872.5 343.0,871.2 343.2,871.4 343.4,871.7 343.6,869.5 343.8,870.8 344.0,871.1 344.2,870.6 344.4,869.1 344.6,870.2 344.8,870.7 345.0,871.3 345.2,869.1 345.4,868.8 345.6,870.2 345.8,869.3 346.0,872.2 346.2,871.3 346.4,872.2 346.6,870.0 346.8,870.8 347.0,871.7 347.2,872.1 347.4,872.1 347.6,870.1 347.8,872.1 348.0,869.1 348.2,869.4 348.4,870.5 348.6,870.7 348.8,870.1 349.0,870.1 349.2,872.7 349.4,872.1 349.6,872.6 349.8,872.3 350.0,870.2 350.2,870.8 350.4,870.2 350.6,871.8 350.8,872.3 351.0,870.5 351.2,871.0 351.4,871.7 351.6,872.9 351.8,872.9 352.0,873.2 352.2,872.0 352.4,873.1 352.6,873.7 352.8,872.5 353.0,872.2 353.2,873.1 353.4,872.0 353.6,873.4 353.8,872.1 354.0,873.4 354.2,873.7 354.4,875.1 354.6,872.8 354.8,873.4 355.0,874.6 355.2,873.5 355.4,874.3 355.6,874.4 355.8,872.3 356.0,874.3 356.2,873.4 356.4,874.1 356.6,873.7 356.8,875.4 357.0,873.0 357.2,873.3 357.4,872.6 357.6,875.0 357.8,874.8 358.0,875.0 358.2,875.3 358.4,875.8 358.6,874.7 358.8,875.7 359.0,873.9 359.2,873.9 359.4,875.0 359.6,876.0 359.8,875.4 360.0,874.6 360.2,876.2 360.4,874.8 360.6,874.0 360.8,875.0 361.0,874.3 361.2,875.2 361.4,875.5 361.6,873.8 361.8,876.6 362.0,877.0 362.2,875.6 362.4,876.0 362.6,875.7 362.8,873.2 363.0,873.2 363.2,873.6 363.4,873.1 363.6,874.0 363.8,873.8 364.0,872.6 364.2,873.0 364.4,872.0 364.6,871.3 364.8,870.5 365.0,871.6 365.2,869.9 365.4,869.6 365.6,871.6 365.8,870.0 366.0,871.8 366.2,871.6 366.4,871.8 366.6,873.7 366.8,872.0 367.0,873.5 367.2,873.1 367.4,872.1 367.6,874.2 367.8,871.5 368.0,874.0 368.2,872.0 368.4,869.4 368.6,871.6 368.8,871.2 369.0,869.5 369.2,870.9 369.4,866.7 369.6,867.7 369.8,867.9 370.0,866.5 370.2,865.2 370.4,865.5 370.6,866.6 370.8,866.0 371.0,863.6 371.2,864.8 371.4,863.1 371.6,862.8 371.8,863.9 372.0,863.6 372.2,863.3 372.4,864.9 372.6,862.6 372.8,862.1 373.0,862.4 373.2,862.4 373.4,861.9 373.6,862.8 373.8,864.1 374.0,864.2 374.2,862.5 374.4,862.7 374.6,861.5 374.8,863.5 375.0,862.5 375.2,861.3 375.4,860.6 375.6,862.4 375.8,861.1 376.0,862.9 376.2,860.9 376.4,859.7 376.6,861.1 376.8,861.4 377.0,860.9 377.2,860.5 377.4,860.0 377.6,862.1 377.8,862.5 378.0,860.8 378.2,861.1 378.4,862.8 378.6,860.6 378.8,860.5 379.0,860.6 379.2,860.5 379.4,860.6 379.6,861.1 379.8,861.3 380.0,858.5 380.2,861.5 380.4,860.0 380.6,860.3 380.8,859.4 381.0,860.5 381.2,858.2 381.4,857.6 381.6,860.2 381.8,859.6 382.0,859.7 382.2,858.9 382.4,860.5 382.6,862.4 382.8,861.7 383.0,863.1 383.2,859.8 383.4,861.9 383.6,859.9 383.8,858.5 384.0,860.4 384.2,859.7 384.4,860.8 384.6,859.1 384.8,859.3 385.0,859.4 385.2,861.1 385.4,858.3 385.6,860.5 385.8,859.9 386.0,857.9 386.2,859.0 386.4,860.6 386.6,860.9 386.8,859.9 387.0,858.2 387.2,858.6 387.4,860.4 387.6,860.2 387.8,860.0 388.0,857.5 388.2,858.2 388.4,857.7 388.6,859.2 388.8,859.2 389.0,858.3 389.2,857.1 389.4,857.6 389.6,857.6 389.8,858.5 390.0,858.0" fill="none" stroke="#7b9dc3" stroke-width="3.0" stroke-linejoin="round" stroke-linecap="round" opacity="1" />
<polyline points="390.0,858.0 390.2,858.2 390.4,857.9 390.6,857.7 390.8,858.4 391.0,857.8 391.2,857.9 391.4,858.1 391.6,858.1 391.8,858.1 392.0,857.9 392.2,858.8 392.4,858.5 392.6,858.6 392.8,858.3 393.0,858.6 393.2,858.5 393.4,858.6 393.6,858.5 393.8,858.6 394.0,858.2 394.2,858.4 394.4,858.6 394.6,858.3 394.8,858.7 395.0,858.6 395.2,858.6 395.4,858.8 395.6,858.7 395.8,858.4 396.0,858.5 396.2,858.3 396.4,858.3 396.6,858.8 396.8,858.9 397.0,859.2 397.2,859.3 397.4,859.0 397.6,859.2 397.8,858.9 398.0,858.5 398.2,858.2 398.4,858.3 398.6,858.1 398.8,858.3 399.0,857.8 399.2,858.4 399.4,858.5 399.6,858.1 399.8,858.1 400.0,857.8 400.2,858.1 400.4,857.9 400.6,857.9 400.8,857.7 401.0,857.4 401.2,857.9 401.4,857.5 401.6,857.6 401.8,857.9 402.0,857.8 402.2,857.5 402.4,857.8 402.6,857.5 402.8,857.3 403.0,857.6 403.2,857.7 403.4,857.9 403.6,857.9 403.8,857.6 404.0,857.5 404.2,857.3 404.4,857.6 404.6,857.9 404.8,857.9 405.0,857.8 405.2,857.9 405.4,857.9 405.6,857.9 405.8,857.7 406.0,857.8 406.2,857.9 406.4,857.7 406.6,858.0 406.8,858.1 407.0,857.3 407.2,857.2 407.4,857.1 407.6,857.1 407.8,857.4 408.0,857.7 408.2,857.4 408.4,857.6 408.6,857.3 408.8,857.6 409.0,857.6 409.2,857.3 409.4,857.7 409.6,857.8 409.8,857.3 410.0,857.7 410.2,857.3 410.4,857.1 410.6,857.3 410.8,856.9 411.0,856.9 411.2,857.0 411.4,856.7 411.6,856.5 411.8,856.3 412.0,856.3 412.2,856.4 412.4,856.7 412.6,856.3 412.8,856.6 413.0,856.6 413.2,856.7 413.4,856.9 413.6,856.7 413.8,856.9 414.0,857.2 414.2,856.9 414.4,856.7 414.6,857.1 414.8,857.3 415.0,856.8 415.2,856.7 415.4,857.0 415.6,857.2 415.8,857.0 416.0,856.8 416.2,856.6 416.4,856.9 416.6,856.8 416.8,857.5 417.0,857.1 417.2,857.1 417.4,857.2 417.6,857.0 417.8,857.0 418.0,856.9 418.2,856.6 418.4,856.5 418.6,856.3 418.8,855.9 419.0,855.9 419.2,855.8 419.4,855.4 419.6,855.2 419.8,855.3 420.0,855.0 420.2,855.4 420.4,855.4 420.6,855.4 420.8,855.2 421.0,855.3 421.2,855.3 421.4,855.1 421.6,855.3 421.8,855.3 422.0,855.1 422.2,855.4 422.4,855.3 422.6,855.5 422.8,855.1 423.0,855.6 423.2,855.7 423.4,855.8 423.6,855.8 423.8,855.3 424.0,855.3 424.2,855.7 424.4,855.8 424.6,855.6 424.8,855.8 425.0,855.9 425.2,856.0 425.4,856.2 425.6,856.0 425.8,855.8 426.0,856.0 426.2,856.1 426.4,856.0 426.6,856.3 426.8,856.2 427.0,855.9 427.2,855.9 427.4,856.1 427.6,856.1 427.8,856.1 428.0,855.9 428.2,856.3 428.4,856.3 428.6,855.7 428.8,855.8 429.0,855.9 429.2,856.0 429.4,855.6 429.6,855.8 429.8,855.8 430.0,855.9 430.2,856.1 430.4,855.9 430.6,856.0 430.8,856.1 431.0,856.2 431.2,856.1 431.4,855.6 431.6,855.6 431.8,855.5 432.0,855.4 432.2,855.8 432.4,855.9 432.6,856.3 432.8,856.2 433.0,856.3 433.2,856.6 433.4,856.4 433.6,856.4 433.8,856.5 434.0,856.8 434.2,856.5 434.4,856.4 434.6,856.2 434.8,856.0 435.0,856.4 435.2,856.0 435.4,856.1 435.6,856.3 435.8,856.2 436.0,856.0 436.2,855.7 436.4,855.7 436.6,855.2 436.8,855.4 437.0,854.9 437.2,855.2 437.4,854.8 437.6,854.9 437.8,855.2 438.0,855.0 438.2,854.6 438.4,854.6 438.6,855.0 438.8,854.8 439.0,854.5 439.2,854.8 439.4,854.9 439.6,854.9 439.8,854.6 440.0,854.8 440.2,854.9 440.4,855.3 440.6,855.4 440.8,854.9 441.0,854.9 441.2,854.9 441.4,854.4 441.6,854.4 441.8,854.6 442.0,854.6 442.2,854.4 442.4,854.7 442.6,854.6 442.8,854.6 443.0,854.3 443.2,854.7 443.4,854.4 443.6,854.1 443.8,854.5 444.0,854.2 444.2,854.2 444.4,853.6 444.6,853.8 444.8,853.4 445.0,853.9 445.2,854.0 445.4,854.1 445.6,854.0 445.8,854.2 446.0,854.1 446.2,853.8 446.4,854.0 446.6,854.3 446.8,853.8 447.0,854.2 447.2,854.1 447.4,854.3 447.6,854.2 447.8,853.8 448.0,853.6 448.2,853.6 448.4,853.6 448.6,853.6 448.8,853.5 449.0,853.7 449.2,853.7 449.4,853.8 449.6,853.6 449.8,853.5 450.0,853.8 450.2,853.4 450.4,853.6 450.6,853.8 450.8,853.6 451.0,853.5 451.2,853.2 451.4,853.6 451.6,853.3 451.8,852.9 452.0,853.1 452.2,852.7 452.4,852.8 452.6,852.8 452.8,852.5 453.0,852.6 453.2,853.1 453.4,852.8 453.6,852.4 453.8,852.6 454.0,852.4 454.2,852.4 454.4,852.0 454.6,852.5 454.8,852.8 455.0,852.7 455.2,852.9 455.4,852.9 455.6,852.7 455.8,852.5 456.0,852.8 456.2,852.6 456.4,852.7 456.6,852.7 456.8,853.1 457.0,852.9 457.2,852.8 457.4,852.8 457.6,853.3 457.8,853.3 458.0,853.1 458.2,853.0 458.4,853.3 458.6,853.3 458.8,853.2 459.0,852.9 459.2,853.0 459.4,853.1 459.6,852.8 459.8,853.0 460.0,852.5 460.2,852.7 460.4,852.7 460.6,853.0 460.8,852.9 461.0,852.4 461.2,852.9 461.4,852.6 461.6,852.8 461.8,852.5 462.0,852.7 462.2,852.5 462.4,852.6 462.6,852.7 462.8,852.6 463.0,852.0 463.2,852.0 463.4,852.0 463.6,852.2 463.8,852.0 464.0,852.3 464.2,852.4 464.4,852.7 464.6,852.3 464.8,852.0 465.0,852.1 465.2,852.3 465.4,851.9 465.6,852.1 465.8,852.0 466.0,852.1 466.2,851.9 466.4,851.9 466.6,851.6 466.8,851.9 467.0,851.9 467.2,852.0 467.4,851.7 467.6,852.5 467.8,852.1 468.0,851.8 468.2,851.8 468.4,852.2 468.6,852.2 468.8,852.4 469.0,852.4 469.2,852.5 469.4,852.3 469.6,852.4 469.8,852.1 470.0,852.2 470.2,852.1 470.4,852.2 470.6,851.9 470.8,852.4 471.0,852.2 471.2,851.9 471.4,851.7 471.6,851.7 471.8,851.4 472.0,851.5 472.2,850.5 472.4,850.9 472.6,851.0 472.8,850.8 473.0,850.5 473.2,851.0 473.4,850.9 473.6,851.2 473.8,851.0 474.0,850.9 474.2,850.5 474.4,850.1 474.6,850.3 474.8,850.5 475.0,850.9 475.2,851.0 475.4,851.1 475.6,851.0 475.8,851.0 476.0,851.1 476.2,850.7 476.4,850.6 476.6,850.8 476.8,850.8 477.0,850.9 477.2,850.8 477.4,850.7 477.6,850.9 477.8,850.6 478.0,850.5 478.2,850.7 478.4,850.3 478.6,850.7 478.8,850.5 479.0,850.1 479.2,850.3 479.4,850.3 479.6,850.4 479.8,850.5 480.0,850.8 480.2,850.9 480.4,850.8 480.6,850.7 480.8,851.1 481.0,851.1 481.2,851.2 481.4,850.8 481.6,851.4 481.8,851.2 482.0,851.5 482.2,851.7 482.4,851.5 482.6,851.5 482.8,851.6 483.0,851.4 483.2,851.1 483.4,851.1 483.6,851.3 483.8,851.4 484.0,851.5 484.2,851.7 484.4,851.9 484.6,851.3 484.8,851.7 485.0,851.5 485.2,851.5 485.4,851.6 485.6,851.5 485.8,851.6 486.0,851.4 486.2,851.3 486.4,852.0 486.6,851.8 486.8,852.3 487.0,852.4" fill="none" stroke="#7b9dc3" stroke-width="2.8" stroke-linejoin="round" stroke-linecap="round" opacity="1" />
<polyline points="487.0,859.4 488.0,859.4 489.0,859.4 490.0,859.4 491.0,859.4 492.0,859.4 493.0,859.4 494.0,859.4 495.0,859.4 496.0,859.4 497.0,859.4 498.0,859.4 499.0,859.4 500.0,859.4 501.0,859.4 502.0,859.4 503.0,859.4 504.0,859.4 505.0,859.4 506.0,859.4 507.0,859.4 508.0,859.4 509.0,859.4 510.0,859.4 511.0,859.4 512.0,859.4 513.0,859.4 514.0,859.4" fill="none" stroke="#7b9dc3" stroke-width="3.0" stroke-linejoin="round" stroke-linecap="round" opacity="1" />
<polyline points="514.0,860.4 514.0,883.3 514.2,883.2 514.4,882.8 514.6,882.1 514.8,880.9 515.0,882.7 515.2,882.4 515.4,882.3 515.6,882.1 515.8,882.4 516.0,882.0 516.2,883.9 516.4,882.4 516.6,882.2 516.8,882.3 517.0,880.3 517.2,880.1 517.4,880.6 517.6,881.4 517.8,880.6 518.0,879.0 518.2,880.3 518.4,879.8 518.6,878.5 518.8,879.4 519.0,880.8 519.2,879.0 519.4,880.5 519.6,881.5 519.8,882.1 520.0,880.3 520.2,881.9 520.4,881.8 520.6,882.7 520.8,882.3 521.0,883.0 521.2,882.2 521.4,882.3 521.6,881.7 521.8,881.5 522.0,881.9 522.2,883.3 522.4,882.8 522.6,882.7 522.8,884.2 523.0,885.4 523.2,884.2 523.4,886.2 523.6,885.9 523.8,884.7 524.0,884.1 524.2,885.7 524.4,885.6 524.6,884.5 524.8,885.6 525.0,885.5 525.2,884.9 525.4,883.8 525.6,884.9 525.8,886.1 526.0,885.9 526.2,886.7 526.4,886.0 526.6,888.0 526.8,886.4 527.0,885.6 527.2,887.2 527.4,885.1 527.6,885.9 527.8,885.6 528.0,884.2 528.2,882.6 528.4,885.3 528.6,885.0 528.8,883.2 529.0,885.4 529.2,883.2 529.4,887.0 529.6,885.5 529.8,885.9 530.0,885.9 530.2,887.5 530.4,886.6 530.6,886.4 530.8,888.7 531.0,887.9 531.2,887.8 531.4,889.8 531.6,889.6 531.8,888.6 532.0,889.4 532.2,887.9 532.4,887.9 532.6,887.0 532.8,889.3 533.0,887.2 533.2,887.4 533.4,888.9 533.6,885.6 533.8,888.4 534.0,888.2 534.2,887.0 534.4,890.4 534.6,890.5 534.8,888.0 535.0,889.1 535.2,889.1 535.4,888.4 535.6,888.5 535.8,890.3 536.0,890.0 536.2,890.2 536.4,889.6 536.6,889.5 536.8,888.5 537.0,888.7 537.2,888.9 537.4,889.5 537.6,889.7 537.8,888.3 538.0,889.9 538.2,888.5 538.4,888.6 538.6,887.4 538.8,890.1 539.0,889.8 539.2,888.7 539.4,886.3 539.6,886.6 539.8,889.6 540.0,888.4 540.2,889.5 540.4,887.8 540.6,888.7 540.8,886.5 541.0,885.9 541.2,887.8 541.4,887.5 541.6,885.1 541.8,885.7 542.0,885.2 542.2,883.8 542.4,882.3 542.6,883.6 542.8,882.6 543.0,884.8 543.2,882.1 543.4,883.9 543.6,882.6 543.8,883.8 544.0,885.9 544.2,883.8 544.4,885.6 544.6,885.6 544.8,884.0 545.0,882.7 545.2,883.6 545.4,881.1 545.6,882.5 545.8,883.0 546.0,881.8 546.2,880.8 546.4,882.1 546.6,882.1 546.8,882.3 547.0,880.3 547.2,881.6 547.4,882.1 547.6,882.5 547.8,881.0 548.0,880.9 548.2,881.4 548.4,882.4 548.6,880.7 548.8,882.7 549.0,882.1 549.2,881.8 549.4,880.8 549.6,883.8 549.8,883.2 550.0,883.9 550.2,883.6 550.4,884.8 550.6,884.8 550.8,885.0 551.0,885.7 551.2,884.3 551.4,885.9 551.6,885.7 551.8,884.6 552.0,885.2 552.2,882.5 552.4,881.9 552.6,881.7 552.8,883.8 553.0,881.9 553.2,881.8 553.4,882.4 553.6,882.1 553.8,881.2 554.0,881.8 554.2,882.6 554.4,882.4 554.6,882.7 554.8,883.0 555.0,884.0 555.2,885.3 555.4,881.9 555.6,885.3 555.8,884.1 556.0,883.3 556.2,884.6 556.4,883.8 556.6,883.4 556.8,885.8 557.0,886.1 557.2,887.6 557.4,884.9 557.6,887.3 557.8,887.3 558.0,886.4 558.2,886.7 558.4,885.5 558.6,886.8 558.8,886.8 559.0,887.7 559.2,886.6 559.4,885.4 559.6,885.7 559.8,885.6 560.0,885.6 560.2,886.7 560.4,885.6 560.6,885.7 560.8,886.6 561.0,884.9 561.2,884.4 561.4,885.9 561.6,887.0 561.8,886.7 562.0,887.3 562.2,887.0 562.4,886.9 562.6,886.9 562.8,884.8 563.0,885.9 563.2,886.5 563.4,886.8 563.6,886.5 563.8,887.3 564.0,888.9 564.2,887.6 564.4,889.5 564.6,890.0 564.8,888.8 565.0,889.9 565.2,889.5 565.4,890.1 565.6,888.2 565.8,887.1 566.0,889.9 566.2,888.3 566.4,889.0 566.6,890.7 566.8,890.9 567.0,889.8 567.2,892.0 567.4,890.8 567.6,892.2 567.8,890.5 568.0,891.8 568.2,892.9 568.4,893.3 568.6,894.2 568.8,893.2 569.0,893.4 569.2,895.5 569.4,895.0 569.6,896.7 569.8,896.2 570.0,895.5 570.2,895.9 570.4,896.3 570.6,897.0 570.8,898.1 571.0,898.6 571.2,898.2 571.4,899.4 571.6,899.3 571.8,897.5 572.0,898.5 572.2,899.3 572.4,900.6 572.6,901.7 572.8,902.8 573.0,903.3 573.2,901.8 573.4,902.3 573.6,901.7 573.8,904.0 574.0,903.3 574.2,904.6 574.4,903.2 574.6,904.1 574.8,905.8 575.0,904.6 575.2,904.8 575.4,907.3 575.6,907.7 575.8,904.2 576.0,905.9 576.2,904.5 576.4,904.9 576.6,904.6 576.8,902.8 577.0,903.8 577.2,901.5 577.4,903.5 577.6,902.5 577.8,903.3 578.0,904.5 578.2,904.6 578.4,904.5 578.6,904.1 578.8,904.7 579.0,902.8 579.2,904.1 579.4,903.4 579.6,903.5 579.8,902.4 580.0,904.4 580.2,902.2 580.4,902.5 580.6,902.7 580.8,903.4 581.0,905.0 581.2,901.9 581.4,903.5 581.6,903.2 581.8,902.1 582.0,901.8 582.2,902.4 582.4,904.2 582.6,903.6 582.8,902.4 583.0,902.8 583.2,902.1 583.4,902.3 583.6,902.0 583.8,901.0 584.0,901.4 584.2,901.3 584.4,901.3 584.6,899.3 584.8,901.2 585.0,898.7 585.2,899.7 585.4,899.1 585.6,896.5 585.8,898.2 586.0,897.7 586.2,895.4 586.4,895.5 586.6,897.6 586.8,895.3 587.0,896.7 587.2,895.1 587.4,895.9 587.6,896.6 587.8,897.7 588.0,897.0 588.2,897.0 588.4,896.2 588.6,895.0 588.8,896.4 589.0,894.7 589.2,896.1 589.4,894.8 589.6,895.2 589.8,894.7 590.0,895.8 590.2,897.3 590.4,897.3 590.6,897.1 590.8,895.9 591.0,895.5 591.2,896.4 591.4,896.7 591.6,895.6 591.8,896.7 592.0,895.3 592.2,896.8 592.4,896.1 592.6,897.4 592.8,897.8 593.0,896.5 593.2,896.9 593.4,898.2 593.6,895.8 593.8,895.7 594.0,895.9 594.2,894.9 594.4,895.6 594.6,893.4 594.8,894.0 595.0,895.1 595.2,893.6 595.4,893.2 595.6,892.6 595.8,892.2 596.0,893.7 596.2,893.3 596.4,892.7 596.6,892.5 596.8,894.6 597.0,893.1 597.2,892.5 597.4,891.0 597.6,891.9 597.8,892.0 598.0,892.2 598.2,890.4 598.4,889.3 598.6,891.8 598.8,890.1 599.0,888.6 599.2,886.9 599.4,886.4 599.6,886.8 599.8,887.8 600.0,887.4 600.2,886.8 600.4,887.3 600.6,886.9 600.8,886.1 601.0,885.5 601.2,885.0 601.4,885.0 601.6,883.5 601.8,885.7 602.0,883.7 602.2,883.0 602.4,884.1 602.6,883.0 602.9,884.7 603.1,883.8 603.3,883.5 603.5,884.2 603.7,883.3 603.9,884.0 604.1,885.7 604.3,883.2 604.5,883.4 604.7,883.7 604.9,884.8 605.1,884.8 605.3,885.4 605.5,887.4 605.7,886.2 605.9,886.3 606.1,885.4 606.3,884.0 606.5,887.8 606.7,886.6 606.9,886.0 607.1,885.2 607.3,885.5 607.5,884.4 607.6,884.2 607.8,883.8 608.0,885.9 608.2,884.2 608.4,884.6 608.6,885.9 608.8,886.1 609.0,885.7 609.2,887.7 609.4,887.5 609.6,886.9 609.8,886.2 610.0,887.3 610.2,886.4 610.4,884.4 610.6,885.9 610.8,884.6 611.0,883.9 611.2,885.7 611.4,885.8 611.6,886.2 611.9,884.7 612.1,886.1 612.3,885.7 612.5,886.1 612.7,885.7 612.9,882.9 613.1,881.5 613.3,882.2 613.5,881.1 613.7,881.5 613.9,879.2 614.1,882.5 614.3,882.9 614.5,882.8 614.7,881.2 614.9,883.4 615.1,882.1 615.3,883.9 615.5,883.7 615.7,881.9 615.9,884.3 616.1,885.0 616.3,884.5 616.5,884.6 616.7,884.3 616.9,883.0 617.1,881.3 617.3,880.4 617.5,878.8 617.7,880.7 617.9,881.2 618.1,879.1 618.4,880.4 618.6,878.9 618.8,879.6 619.0,879.0 619.2,876.4 619.4,876.8 619.6,876.9 619.8,875.4 620.0,874.4 620.2,874.3 620.4,874.3 620.6,874.0 620.8,874.3 621.0,875.0 621.2,874.4 621.4,873.5 621.6,873.4 621.8,871.7 622.0,872.7 622.2,871.1 622.4,870.5 622.6,870.5 622.8,870.9 623.0,870.0 623.2,868.6 623.4,869.1 623.6,870.0 623.8,869.3 624.0,869.9 624.2,870.3 624.4,872.1 624.6,870.7 624.8,871.6 625.0,872.4 625.2,870.2 625.4,871.6 625.6,871.0 625.8,868.4 626.0,869.0 626.2,870.6 626.4,869.2 626.6,869.0 626.8,870.4 627.0,869.1 627.2,869.0 627.4,867.9 627.6,868.7 627.8,869.7 628.0,869.2 628.2,869.8 628.4,867.7 628.6,867.4 628.8,868.9 629.0,868.4 629.2,870.9 629.4,868.6 629.6,870.3 629.8,870.1 630.0,870.5 630.2,869.2 630.4,870.6 630.6,868.4 630.8,869.3 631.0,869.4 631.2,871.3 631.4,871.4 631.5,871.8 631.7,872.6 631.9,875.1 632.1,873.3 632.3,873.3 632.5,871.7 632.7,872.4 632.9,873.3 633.1,874.2 633.3,872.4 633.5,874.5 633.7,873.7 633.9,873.5 634.1,873.7 634.3,875.7 634.5,874.1 634.7,875.9 634.9,875.3 635.1,874.4 635.3,872.7 635.5,871.9 635.7,872.1 635.9,872.8 636.1,873.5 636.3,872.6 636.5,871.5 636.7,869.5 636.9,870.2 637.1,868.1 637.3,870.4 637.5,869.5 637.7,868.4 637.9,869.0 638.1,868.7 638.3,865.3 638.5,865.1 638.7,864.7 638.9,863.3 639.1,862.7 639.3,863.3 639.5,863.4 639.7,861.5 639.9,861.8 640.1,862.6 640.3,862.4 640.5,859.6 640.7,860.3 640.9,859.5 641.1,858.8 641.3,856.7 641.5,858.5 641.7,857.0 641.9,858.6 642.1,858.1 642.3,858.4 642.5,857.0 642.7,859.4 642.9,858.7 643.1,859.1 643.3,857.5 643.5,857.3 643.7,857.4 643.9,858.1 644.1,858.7 644.3,861.1 644.5,860.3 644.7,860.9 644.9,858.1 645.1,860.3 645.3,858.8 645.5,857.5 645.7,860.6 645.9,860.0 646.1,859.1 646.3,859.5 646.5,858.6 646.7,859.1 646.9,860.5 647.1,860.0 647.3,858.6 647.5,858.9 647.7,857.6 647.9,858.8 648.1,857.4 648.3,858.5 648.5,856.7 648.7,857.6 648.9,855.8 649.1,855.8 649.3,857.6 649.5,856.4 649.7,854.5 649.9,854.6 650.1,855.4 650.3,854.2 650.5,855.6 650.6,854.2 650.8,853.0 651.0,855.1 651.2,853.8 651.4,853.1 651.6,852.4 651.8,852.5 652.0,853.2 652.2,853.0 652.4,852.4 652.6,849.6 652.8,849.2 653.0,849.5 653.2,850.4 653.4,850.7 653.6,849.5 653.8,848.3 654.0,849.4 654.2,847.3 654.4,847.3 654.6,845.3 654.8,845.4 655.0,844.4 655.2,841.8 655.4,842.2 655.6,840.4 655.8,839.5 656.0,842.0 656.2,839.5 656.4,842.3 656.6,842.6 656.8,841.0 657.0,843.5 657.2,842.9 657.4,842.3 657.6,842.8 657.8,843.6 658.0,844.7 658.2,843.5 658.4,844.6 658.6,845.1 658.8,845.4 659.0,846.5 659.2,846.6 659.4,847.0 659.6,848.0 659.8,846.6 660.0,846.7 660.2,847.0 660.4,846.1 660.6,846.1 660.8,846.5 661.0,847.1 661.2,848.7 661.4,846.3 661.6,847.0 661.8,848.2 662.0,847.1 662.2,848.5 662.4,846.6 662.6,848.5 662.9,847.3 663.1,849.7 663.3,849.8 663.5,849.2 663.7,849.8 663.9,848.4 664.1,848.3 664.3,848.6 664.5,851.1 664.7,849.5 664.9,850.1 665.1,847.6 665.3,846.2 665.5,847.8 665.7,846.9 665.9,844.8 666.1,843.9 666.3,843.9 666.5,842.7 666.7,845.1 666.9,843.3 667.1,842.5 667.3,842.4 667.5,839.9 667.7,840.2 667.9,840.1 668.1,838.1 668.3,840.2 668.5,839.5 668.7,837.2 668.9,837.5 669.1,836.7 669.3,839.1 669.5,838.8 669.7,840.5 669.9,841.2 670.1,840.9 670.3,841.0 670.5,841.4 670.7,841.9 670.9,842.1 671.1,843.4 671.3,842.0 671.5,842.5 671.7,844.1 671.9,843.4 672.1,845.8 672.3,844.0 672.5,845.6 672.7,845.2 672.9,843.3 673.1,841.1 673.3,843.2 673.5,841.1 673.7,838.3 673.9,839.8 674.1,837.0 674.3,835.8 674.5,835.9 674.7,835.1 674.9,835.3 675.1,834.9 675.3,836.4 675.5,834.8 675.7,836.1 675.9,835.4 676.1,837.0 676.3,839.1 676.5,837.9 676.7,838.6 676.9,838.3 677.1,837.5 677.3,837.1 677.5,837.4 677.7,836.0 677.9,835.3 678.1,836.6 678.3,837.3 678.5,839.6 678.7,838.8 678.9,836.8 679.1,835.2 679.3,834.1 679.5,832.6 679.7,833.8 679.9,831.5 680.1,832.7 680.3,829.7 680.5,831.0 680.7,831.9 680.9,829.1 681.1,829.7 681.3,829.2 681.5,828.2 681.7,825.2 681.9,822.4 682.1,821.2 682.3,822.1 682.5,819.8 682.7,817.2 682.9,815.9 683.1,816.6 683.3,817.4 683.5,816.3 683.7,815.3 683.9,815.5 684.1,814.9 684.3,816.3 684.5,815.4 684.7,816.0 684.9,815.2 685.1,816.3 685.4,815.2 685.6,814.6 685.8,814.0 686.0,815.5 686.2,815.3 686.4,814.0 686.6,814.9 686.8,816.2 687.0,817.4 687.2,816.5 687.4,816.9 687.6,814.6 687.8,815.4 688.0,813.2 688.2,813.6 688.4,812.2 688.6,813.0 688.8,810.0 689.0,807.1 689.2,808.6 689.4,805.5 689.5,805.6 689.7,802.1 689.9,804.3 690.1,802.6 690.3,802.0 690.5,800.9 690.7,800.1 690.9,803.3 691.1,805.2 691.4,808.2 691.6,810.0 691.8,812.8 692.0,817.7 692.2,819.3 692.4,820.5 692.6,822.8 692.9,825.1 693.1,826.8 693.3,830.7 693.5,831.9 693.7,830.2 693.9,830.0 694.1,832.4 694.3,833.4 694.5,833.2 694.6,833.2 694.8,832.5 695.0,835.6 695.2,836.0 695.4,836.4 695.6,837.4 695.8,836.4 696.0,837.2 696.2,837.3 696.4,837.7 696.6,838.1 696.8,837.5 697.0,837.9 697.2,837.2 697.4,838.2 697.6,836.8 697.8,835.3 698.0,836.9 698.2,836.9 698.4,836.9 698.6,836.2 698.9,837.1 699.1,836.3 699.3,834.9 699.5,836.6 699.7,835.8 699.9,836.0 700.1,835.1 700.3,837.4 700.5,835.4 700.7,837.4 700.9,836.1 701.1,836.5 701.3,838.0 701.5,835.8 701.7,837.0 701.9,837.6 702.1,839.3 702.3,837.6 702.5,839.2 702.7,838.6 702.9,838.8 703.1,839.0 703.3,839.5 703.5,838.3 703.7,836.4 703.9,833.1 704.1,831.5 704.3,828.5 704.5,826.9 704.7,824.9 704.9,824.3 705.1,824.0 705.3,823.5 705.5,824.4 705.7,822.1 705.9,821.1 706.1,821.9 706.4,823.3 706.6,820.8 706.8,822.2 707.0,820.1 707.2,822.1 707.4,820.5 707.6,820.8 707.8,821.7 708.0,820.4 708.2,819.8 708.4,819.9 708.6,819.0 708.8,817.6 709.0,815.9 709.2,816.4 709.4,813.3 709.5,814.3 709.7,810.9 709.9,811.2 710.1,810.9 710.3,809.9 710.5,809.7 710.7,808.4 710.9,807.6 711.1,809.7 711.3,807.0 711.5,808.3 711.7,808.0 711.9,807.3 712.1,805.2 712.3,805.7 712.5,807.5 712.7,806.5 712.9,804.0 713.1,804.8 713.3,804.4 713.5,802.6 713.7,802.7 713.9,800.3 714.1,798.5 714.3,797.6 714.5,797.7 714.7,795.4 714.9,795.0 715.1,795.6 715.4,793.4 715.6,792.7 715.8,792.4 716.0,790.6 716.2,792.6 716.4,791.3 716.6,790.3 716.9,791.5 717.1,790.1 717.3,788.7 717.5,789.2 717.6,787.0 717.8,783.7 718.0,783.0 718.2,778.5 718.4,776.5 718.6,771.0 718.9,769.3 719.1,765.4 719.3,761.7 719.5,764.1 719.6,767.2 719.8,770.0 720.0,774.3 720.2,776.3 720.4,780.1 720.5,781.4 720.7,781.9 720.9,779.7 721.1,775.2 721.3,770.8 721.5,775.8 721.6,783.1 721.8,787.0 722.0,792.4 722.2,792.7 722.4,794.8 722.5,797.4 722.7,800.1 722.9,794.7 723.1,789.9 723.3,784.2 723.5,785.0 723.6,780.3 723.8,779.8 724.0,778.0" fill="none" stroke="#7b9dc3" stroke-width="3.0" stroke-linejoin="round" stroke-linecap="round" opacity="1" />
<line x1="172.4" y1="778.5" x2="724.6" y2="778.5" stroke="rgba(60,60,60,0.45)" stroke-width="1.6" />
<line x1="172.4" y1="992" x2="724.6" y2="992" stroke="#555" stroke-width="1.7" />
<line x1="172.4" y1="994.2" x2="724.6" y2="994.2" stroke="#999" stroke-width="1.3" stroke-dasharray="1.1 1.2"/>
<line x1="172.4" y1="992" x2="172.4" y2="996.5" stroke="#222" stroke-width="1.4" />
<line x1="248.68" y1="992" x2="248.68" y2="996.5" stroke="#222" stroke-width="1.4" />
<line x1="324.96000000000004" y1="992" x2="324.96000000000004" y2="996.5" stroke="#222" stroke-width="1.4" />
<line x1="401.24" y1="992" x2="401.24" y2="996.5" stroke="#222" stroke-width="1.4" />
<line x1="477.52" y1="992" x2="477.52" y2="996.5" stroke="#222" stroke-width="1.4" />
<line x1="553.8" y1="992" x2="553.8" y2="996.5" stroke="#222" stroke-width="1.4" />
<line x1="630.08" y1="992" x2="630.08" y2="996.5" stroke="#222" stroke-width="1.4" />
<line x1="706.36" y1="992" x2="706.36" y2="996.5" stroke="#222" stroke-width="1.4" />
<text x="0" y="0" font-size="13.5" font-weight="normal" fill="#000" text-anchor="start" textLength="51.5" lengthAdjust="spacingAndGlyphs" transform="translate(173.5,1003.5) rotate(90)">15/01/01</text>
<text x="0" y="0" font-size="13.5" font-weight="normal" fill="#000" text-anchor="start" textLength="51.5" lengthAdjust="spacingAndGlyphs" transform="translate(243.8,1003.5) rotate(90)">16/01/01</text>
<text x="0" y="0" font-size="13.5" font-weight="normal" fill="#000" text-anchor="start" textLength="51.5" lengthAdjust="spacingAndGlyphs" transform="translate(320.1,1003.5) rotate(90)">17/01/01</text>
<text x="0" y="0" font-size="13.5" font-weight="normal" fill="#000" text-anchor="start" textLength="51.5" lengthAdjust="spacingAndGlyphs" transform="translate(396.4,1003.5) rotate(90)">18/01/01</text>
<text x="0" y="0" font-size="13.5" font-weight="normal" fill="#000" text-anchor="start" textLength="51.5" lengthAdjust="spacingAndGlyphs" transform="translate(472.7,1003.5) rotate(90)">19/01/01</text>
<text x="0" y="0" font-size="13.5" font-weight="normal" fill="#000" text-anchor="start" textLength="51.5" lengthAdjust="spacingAndGlyphs" transform="translate(548.9,1003.5) rotate(90)">20/01/01</text>
<text x="0" y="0" font-size="13.5" font-weight="normal" fill="#000" text-anchor="start" textLength="51.5" lengthAdjust="spacingAndGlyphs" transform="translate(625.2,1003.5) rotate(90)">21/01/01</text>
<text x="0" y="0" font-size="13.5" font-weight="normal" fill="#000" text-anchor="start" textLength="51.5" lengthAdjust="spacingAndGlyphs" transform="translate(701.5,1003.5) rotate(90)">22/01/01</text>
<text x="124" y="737" font-size="13" font-weight="normal" fill="#000" text-anchor="start" textLength="63" lengthAdjust="spacingAndGlyphs" >(USD/トン)</text>
<text x="175.6" y="775" font-size="11.5" font-weight="bold" fill="#000" text-anchor="start" textLength="34" lengthAdjust="spacingAndGlyphs" >3,572</text>
<text x="661.5" y="989" font-size="12" font-weight="bold" fill="#000" text-anchor="start" textLength="62" lengthAdjust="spacingAndGlyphs" >22/03/25</text>
<text x="677.5" y="1074" font-size="14" font-weight="normal" fill="#000" text-anchor="start" textLength="56" lengthAdjust="spacingAndGlyphs" >(年月日)</text>
<line x1="1505.7" y1="746" x2="1505.7" y2="1010" stroke="#aaa" stroke-width="1.2" />
<line x1="899.6" y1="746" x2="899.6" y2="1010" stroke="#555" stroke-width="1.2" />
<line x1="895.1" y1="758" x2="899.6" y2="758" stroke="#555" stroke-width="1.2" />
<text x="893" y="762.2" font-size="12" font-weight="normal" fill="#000" text-anchor="end" textLength="7.3" lengthAdjust="spacingAndGlyphs" >5</text>
<line x1="895.1" y1="808.4" x2="899.6" y2="808.4" stroke="#555" stroke-width="1.2" />
<text x="893" y="812.6" font-size="12" font-weight="normal" fill="#000" text-anchor="end" textLength="7.3" lengthAdjust="spacingAndGlyphs" >4</text>
<line x1="895.1" y1="858.6" x2="899.6" y2="858.6" stroke="#555" stroke-width="1.2" />
<text x="893" y="862.8000000000001" font-size="12" font-weight="normal" fill="#000" text-anchor="end" textLength="7.3" lengthAdjust="spacingAndGlyphs" >3</text>
<line x1="895.1" y1="908.6" x2="899.6" y2="908.6" stroke="#555" stroke-width="1.2" />
<text x="893" y="912.8000000000001" font-size="12" font-weight="normal" fill="#000" text-anchor="end" textLength="7.3" lengthAdjust="spacingAndGlyphs" >2</text>
<line x1="895.1" y1="958.8" x2="899.6" y2="958.8" stroke="#555" stroke-width="1.2" />
<text x="893" y="963.0" font-size="12" font-weight="normal" fill="#000" text-anchor="end" textLength="7.3" lengthAdjust="spacingAndGlyphs" >1</text>
<line x1="895.1" y1="1009" x2="899.6" y2="1009" stroke="#555" stroke-width="1.2" />
<text x="893" y="1006.6" font-size="12" font-weight="normal" fill="#000" text-anchor="end" textLength="7.3" lengthAdjust="spacingAndGlyphs" >0</text>
<polyline points="900.3,871.8 900.5,870.5 900.7,870.5 900.9,872.7 901.1,879.1 901.3,876.3 901.5,880.6 901.7,881.4 901.9,879.2 902.1,885.3 902.3,881.3 902.5,888.3 902.7,887.5 902.9,886.2 903.1,881.6 903.3,884.6 903.5,881.9 903.7,877.6 904.0,875.8 904.2,878.6 904.4,876.4 904.6,876.0 904.8,871.9 905.0,869.9 905.2,867.6 905.4,865.8 905.6,864.5 905.8,868.9 906.0,868.3 906.3,866.2 906.5,860.2 906.7,862.5 906.9,857.1 907.1,861.3 907.3,858.5 907.5,856.1 907.7,852.0 907.9,850.3 908.1,851.7 908.3,846.7 908.5,843.5 908.7,845.1 908.9,844.1 909.1,838.3 909.3,839.0 909.5,838.9 909.7,835.8 909.9,834.3 910.0,832.8 910.2,834.1 910.4,827.8 910.6,831.9 910.8,828.0 911.0,827.5 911.2,826.0 911.4,826.1 911.6,821.7 911.8,826.2 912.0,826.9 912.2,825.8 912.4,828.2 912.6,828.9 912.8,828.5 913.0,824.6 913.2,823.5 913.4,828.2 913.6,824.3 913.8,828.0 914.0,830.8 914.2,831.7 914.4,833.9 914.5,838.2 914.7,838.3 914.9,844.2 915.1,844.1 915.3,848.6 915.5,843.1 915.7,847.3 915.9,844.4 916.1,840.8 916.4,842.2 916.6,841.4 916.8,837.3 917.0,841.8 917.2,838.3 917.4,840.8 917.6,837.6 917.8,839.4 918.0,834.7 918.2,835.4 918.4,831.7 918.6,835.9 918.8,836.7 919.0,832.8 919.2,831.8 919.4,827.6 919.6,829.4 919.8,823.8 920.0,824.2 920.2,823.4 920.4,826.3 920.6,826.0 920.8,824.8 921.0,824.3 921.2,826.4 921.4,827.9 921.6,829.4 921.9,824.9 922.1,830.3 922.3,829.8 922.5,828.6 922.7,828.4 922.9,830.7 923.1,836.7 923.3,840.3 923.5,837.6 923.7,843.6 923.9,845.5 924.1,846.7 924.3,847.0 924.5,847.9 924.7,850.3 924.9,845.8 925.1,848.9 925.3,845.4 925.5,847.3 925.8,843.1 926.0,844.1 926.2,837.1 926.4,836.6 926.6,836.4 926.8,832.6 927.0,836.7 927.2,835.6 927.4,834.4 927.6,832.6 927.8,832.7 928.0,831.4 928.1,830.0 928.3,828.4 928.5,822.0 928.7,828.1 928.9,824.7 929.1,822.8 929.3,822.7 929.5,826.9 929.7,827.9 929.9,828.8 930.1,827.6 930.3,828.0 930.5,829.6 930.7,829.3 930.9,830.4 931.1,837.6 931.3,833.3 931.5,832.1 931.7,836.3 931.9,834.8 932.1,839.8 932.3,844.0 932.5,844.6 932.7,845.6 932.9,844.2 933.0,852.1 933.2,849.8 933.4,854.7 933.6,851.8 933.8,854.4 934.0,858.4 934.2,859.1 934.4,858.2 934.6,861.6 934.8,864.5 935.0,864.3 935.2,863.7 935.4,864.3 935.6,860.3 935.8,861.6 936.0,860.4 936.2,861.1 936.3,861.1 936.5,860.4 936.7,861.1 936.9,864.2 937.1,862.1 937.3,864.7 937.5,862.5 937.7,860.2 937.9,860.4 938.1,862.1 938.3,861.1 938.5,855.3 938.7,855.6 938.9,855.2 939.1,849.9 939.4,849.7 939.6,849.2 939.8,850.2 940.0,846.1 940.2,849.9 940.4,845.4 940.6,848.3 940.8,845.8 941.0,844.6 941.2,845.4 941.4,840.4 941.6,841.8 941.8,842.3 942.0,837.0 942.1,835.5 942.3,833.9 942.5,836.1 942.7,835.9 942.9,834.7 943.1,829.4 943.3,830.6 943.5,825.1 943.7,825.3 943.9,823.7 944.1,824.1 944.3,821.9 944.5,818.1 944.7,819.5 944.9,820.1 945.1,818.1 945.3,813.4 945.5,815.8 945.7,812.0 945.9,816.5 946.1,809.2 946.4,808.9 946.6,811.3 946.8,809.1 947.0,814.7 947.2,814.5 947.4,808.9 947.6,811.5 947.8,811.6 948.0,811.1 948.2,807.8 948.4,811.9 948.6,812.6 948.8,813.4 949.0,811.8 949.2,814.7 949.3,815.2 949.5,814.2 949.7,811.3 949.9,813.2 950.1,812.9 950.3,813.8 950.5,810.4 950.7,810.3 950.9,812.1 951.1,814.3 951.3,811.1 951.5,813.8 951.7,815.4 951.9,813.8 952.0,817.7 952.2,819.2 952.4,820.9 952.6,817.7 952.8,815.3 953.0,818.4 953.2,821.0 953.4,822.2 953.6,819.7 953.8,821.0 954.0,823.5 954.2,822.4 954.4,821.4 954.6,825.4 954.9,823.7 955.1,821.3 955.3,826.4 955.5,827.0 955.7,828.9 955.9,829.4 956.1,830.3 956.3,830.6 956.5,828.9 956.7,826.5 956.9,826.5 957.1,823.6 957.3,821.3 957.5,819.1 957.7,820.2 957.9,819.2 958.1,816.0 958.3,813.6 958.5,812.8 958.7,808.4 958.9,809.4 959.1,804.5 959.3,803.4 959.5,803.3 959.7,809.3 959.9,808.8 960.1,812.3 960.2,812.7 960.4,815.5 960.6,821.3 960.8,820.1 961.0,822.6 961.2,824.0 961.4,823.7 961.6,826.7 961.8,826.6 962.0,822.4 962.3,823.0 962.5,823.6 962.7,829.2 962.9,825.7 963.1,828.9 963.3,828.4 963.5,832.4 963.7,833.3 963.9,832.4 964.1,832.5 964.3,835.6 964.5,839.2 964.7,836.7 964.9,842.0 965.1,838.6 965.3,843.4 965.5,844.6 965.7,841.3 965.9,845.7 966.1,848.0 966.3,846.1 966.5,847.0 966.6,846.5 966.8,845.1 967.0,846.5 967.2,850.0 967.4,852.5 967.6,848.6 967.8,849.6 968.0,850.9 968.2,857.5 968.4,861.4 968.6,865.1 968.8,867.8 969.0,875.7 969.2,875.7 969.4,880.4 969.6,889.0 969.8,886.3 970.0,889.5 970.2,891.1 970.4,895.3 970.5,898.5 970.7,901.4 970.9,904.4 971.1,907.6 971.3,907.4 971.5,909.5 971.7,911.4 971.9,914.9 972.1,912.5 972.3,913.2 972.5,916.4 972.7,912.8 972.8,916.7 973.0,916.1 973.2,919.4 973.4,922.3 973.6,920.3 973.8,921.1 974.0,920.9 974.2,924.2 974.4,924.5 974.6,928.4 974.8,927.2 975.0,928.7 975.2,928.8 975.4,928.8 975.6,934.5 975.8,935.1 976.0,930.8 976.2,933.3 976.4,935.8 976.6,934.3 976.8,936.1 977.0,938.1 977.2,935.8 977.4,939.0 977.6,940.3 977.8,938.9 978.0,937.8 978.2,936.6 978.4,940.2 978.6,938.6 978.8,941.3 979.0,937.2 979.1,936.8 979.3,937.4 979.5,940.6 979.7,939.3 979.9,936.0 980.1,937.0 980.3,937.7 980.5,934.3 980.7,931.7 980.9,933.0 981.1,938.3 981.3,934.2 981.5,931.9 981.7,930.8 981.9,931.5 982.1,932.0 982.3,936.1 982.6,930.7 982.8,935.4 983.0,932.1 983.2,932.6 983.4,930.5 983.6,933.0 983.8,932.2 984.0,929.6 984.2,927.8 984.4,929.2 984.6,928.0 984.8,927.1 985.0,928.7 985.2,928.1 985.4,923.6 985.6,924.9 985.8,924.6 986.0,923.3 986.1,922.5 986.3,921.2 986.5,923.0 986.7,918.9 986.9,920.3 987.1,919.7 987.3,918.5 987.5,920.2 987.7,914.1 987.9,915.7 988.1,912.4 988.3,912.0 988.5,913.0 988.7,913.6 988.9,912.6 989.0,911.1 989.2,908.4 989.4,914.1 989.6,906.7 989.8,912.4 990.0,910.6 990.2,907.4 990.4,904.0 990.6,900.9 990.8,905.3 991.0,900.4 991.2,900.1 991.4,902.5 991.6,904.9 991.8,899.9 992.0,904.7 992.2,901.5 992.4,901.9 992.7,902.7 992.9,906.3 993.1,906.8 993.3,903.0 993.5,903.6 993.7,902.3 993.9,901.5 994.1,904.0 994.3,903.0 994.5,901.9 994.7,901.9 994.9,902.8 995.1,900.9 995.3,896.9 995.5,896.4 995.7,897.1 995.9,898.2 996.0,893.6 996.2,892.8 996.4,893.9 996.6,892.7 996.8,894.5 997.0,891.2 997.2,891.1 997.4,893.8 997.6,890.5 997.8,889.8 998.0,891.0 998.2,889.2 998.4,890.9 998.6,892.8 998.9,894.1 999.1,894.9 999.3,890.3 999.5,896.2 999.7,894.2 999.9,894.4 1000.1,894.1 1000.3,894.8 1000.5,890.3 1000.7,886.6 1000.9,886.5 1001.0,890.4 1001.2,887.5 1001.4,882.6 1001.6,880.5 1001.8,882.0 1002.0,878.7 1002.2,876.0 1002.4,878.4 1002.6,877.0 1002.8,876.4 1003.0,873.3 1003.2,876.0 1003.4,872.1 1003.6,871.4 1003.8,869.2 1004.0,871.1 1004.2,866.0 1004.4,867.5 1004.6,864.4 1004.8,869.0 1005.0,870.4 1005.2,871.5 1005.4,868.6 1005.6,871.4 1005.8,866.7 1006.0,868.8 1006.2,868.1 1006.4,869.5 1006.7,868.5 1006.9,872.7 1007.1,869.3 1007.3,868.4 1007.5,871.9 1007.7,872.9 1007.9,869.3 1008.1,868.7 1008.3,873.5 1008.5,870.2 1008.7,871.2 1008.9,872.7 1009.1,867.3 1009.3,872.6 1009.5,869.1 1009.7,868.0 1009.9,867.9 1010.0,867.5 1010.2,865.9 1010.4,867.5 1010.6,866.2 1010.8,863.3 1011.0,863.2 1011.2,861.8 1011.4,860.2 1011.6,862.7 1011.8,859.9 1012.0,860.7 1012.2,862.8 1012.4,858.5 1012.6,862.3 1012.8,858.6 1013.0,859.4 1013.2,855.2 1013.4,857.4 1013.7,860.7 1013.9,858.6 1014.1,857.1 1014.3,854.8 1014.5,855.6 1014.7,857.0 1014.9,858.4 1015.1,852.1 1015.3,853.1 1015.5,852.2 1015.7,852.3 1015.9,852.9 1016.1,850.7 1016.3,852.1 1016.5,846.7 1016.7,846.7 1016.9,845.2 1017.1,848.2 1017.3,847.6 1017.6,844.8 1017.8,841.7 1018.0,841.7 1018.2,838.4 1018.4,841.6 1018.6,839.2 1018.8,838.2 1019.0,838.3 1019.2,840.9 1019.4,839.4 1019.6,838.3 1019.8,844.3 1020.0,844.5 1020.2,845.7 1020.4,846.5 1020.6,847.5 1020.8,851.5 1021.0,849.5 1021.1,851.2 1021.3,852.5 1021.5,856.5 1021.7,857.7 1021.9,860.6 1022.1,861.4 1022.3,864.0 1022.5,864.8 1022.7,860.3 1022.9,860.2 1023.1,855.9 1023.2,854.6 1023.4,853.3 1023.6,847.5 1023.8,845.2 1024.0,839.2 1024.2,840.4 1024.4,843.7 1024.6,844.3 1024.8,842.2 1025.0,842.5 1025.2,841.6 1025.4,840.3 1025.7,844.7 1025.9,839.0 1026.1,841.5 1026.3,837.1 1026.5,840.0 1026.7,840.0 1026.9,837.4 1027.1,837.3 1027.3,841.1 1027.5,834.6 1027.7,839.1 1027.9,833.2 1028.1,832.9 1028.3,835.5 1028.5,830.3 1028.7,831.1 1028.9,832.2 1029.1,828.0 1029.3,827.9 1029.5,830.6 1029.7,828.1 1029.9,835.2 1030.1,832.1 1030.3,836.8 1030.5,833.7 1030.7,834.9 1030.9,840.2 1031.2,839.1 1031.4,842.2 1031.6,844.7 1031.8,845.3 1032.0,846.8 1032.2,848.6 1032.4,844.2 1032.6,848.7 1032.8,847.2 1033.0,852.9 1033.2,850.5 1033.4,856.6 1033.6,854.1 1033.8,853.7 1034.0,856.3 1034.2,856.7 1034.3,857.3 1034.5,860.1 1034.7,861.9 1034.9,863.7 1035.1,864.8 1035.3,863.0 1035.5,868.0 1035.7,869.2 1035.9,863.5 1036.1,864.0 1036.3,865.2 1036.5,862.4 1036.7,863.3 1036.9,859.9 1037.1,858.1 1037.4,857.9 1037.6,855.9 1037.8,858.3 1038.0,859.5 1038.2,861.8 1038.4,857.5 1038.6,859.5 1038.8,856.8 1039.0,854.2 1039.2,855.3 1039.4,855.3 1039.6,853.7 1039.8,851.7 1040.0,854.1 1040.2,850.8 1040.3,851.6 1040.5,848.3 1040.7,848.8 1040.9,849.6 1041.1,846.1 1041.3,844.0 1041.5,844.9 1041.7,840.8 1041.9,838.8 1042.1,840.1 1042.3,840.2 1042.5,841.2 1042.7,838.2 1042.9,836.4 1043.1,838.9 1043.3,835.8 1043.6,836.5 1043.8,838.1 1044.0,835.5 1044.2,834.8 1044.4,840.3 1044.6,834.5 1044.8,838.4 1045.0,837.0 1045.2,836.9 1045.4,833.1 1045.6,835.4 1045.8,830.8 1046.0,828.5 1046.2,829.3 1046.4,831.6 1046.6,828.6 1046.8,830.3 1047.0,825.0 1047.2,827.7 1047.4,826.8 1047.6,825.3 1047.9,828.5 1048.1,830.8 1048.3,823.9 1048.5,826.9 1048.7,823.8 1048.9,819.8 1049.1,820.0 1049.3,821.7 1049.5,819.4 1049.7,820.6 1049.8,818.5 1050.0,815.2 1050.2,817.3 1050.4,820.8 1050.6,815.0 1050.8,817.0 1051.0,819.0 1051.2,815.8 1051.4,817.2 1051.6,812.3 1051.8,813.5 1052.0,810.4 1052.2,812.2 1052.4,811.3 1052.6,810.6 1052.8,811.6 1053.0,808.1 1053.2,808.9 1053.4,806.7 1053.6,805.5 1053.8,809.3 1054.0,812.8 1054.2,811.8 1054.3,815.6 1054.5,816.3 1054.7,820.4 1054.9,818.8 1055.1,823.9 1055.3,821.3 1055.5,816.8 1055.7,814.4 1055.9,814.4 1056.1,807.8 1056.2,806.5 1056.4,807.6 1056.6,805.0 1056.8,801.7 1057.0,800.6 1057.2,795.5 1057.4,794.3 1057.6,794.6 1057.8,793.2 1058.0,791.5 1058.2,794.4 1058.4,794.3 1058.6,789.2 1058.8,788.2 1059.0,789.7 1059.2,791.6 1059.4,785.6 1059.6,789.1 1059.8,785.3 1060.0,786.5 1060.2,786.1 1060.4,788.7 1060.5,788.7 1060.7,790.1 1060.9,795.1 1061.1,795.2 1061.3,794.8 1061.5,795.0 1061.7,796.1 1061.9,790.7 1062.1,790.6 1062.3,786.7 1062.5,787.6 1062.7,783.7 1062.9,780.7 1063.1,783.0 1063.3,779.7 1063.5,777.0 1063.7,779.7 1063.9,780.3 1064.1,781.6 1064.3,785.9 1064.5,786.4 1064.7,787.3 1065.0,790.2 1065.2,791.0 1065.4,794.8 1065.6,796.5 1065.8,799.9 1066.0,803.0 1066.2,798.7 1066.4,800.1 1066.6,800.1 1066.8,797.8 1067.0,796.7 1067.2,797.5 1067.4,793.1 1067.7,792.0 1067.9,788.7 1068.1,789.9 1068.3,787.1 1068.5,786.8 1068.7,784.3 1068.9,787.1 1069.1,787.9 1069.3,788.2 1069.5,787.5 1069.7,787.9 1069.9,793.7 1070.1,793.8 1070.3,794.7 1070.5,797.6 1070.7,797.2 1070.9,797.4 1071.1,801.2 1071.3,803.9 1071.5,802.4 1071.7,805.9 1072.0,804.8 1072.2,810.2 1072.4,810.9 1072.6,807.1 1072.8,812.7 1073.0,810.4 1073.2,814.8 1073.4,811.0 1073.6,808.0 1073.8,809.2 1074.0,808.0 1074.2,805.6 1074.4,807.6 1074.7,811.1 1074.9,808.6 1075.1,808.9 1075.3,805.4 1075.5,804.2 1075.7,802.9 1075.9,804.0 1076.1,801.0 1076.3,806.3 1076.5,800.1 1076.7,800.5 1076.9,802.1 1077.1,800.1 1077.3,794.4 1077.5,794.7 1077.7,796.1 1077.8,795.1 1078.0,794.0 1078.2,793.5 1078.4,787.4 1078.6,792.9 1078.8,790.4 1079.0,785.9 1079.2,785.0 1079.4,785.5 1079.6,783.9 1079.8,785.1 1080.0,785.4 1080.2,785.3 1080.4,788.6 1080.6,790.0 1080.8,784.9 1081.0,783.2 1081.2,785.8 1081.4,789.7 1081.6,787.1 1081.8,787.1 1082.0,792.6 1082.2,792.7 1082.3,801.6 1082.5,803.6 1082.7,804.3 1082.9,805.5 1083.1,814.2 1083.3,815.4 1083.5,814.4 1083.7,812.3 1083.9,809.7 1084.1,810.5 1084.3,810.0 1084.5,807.1 1084.7,811.8 1084.8,810.3 1085.0,803.4 1085.2,808.1 1085.4,803.5 1085.6,806.8 1085.8,806.9 1086.0,804.0 1086.2,801.9 1086.4,810.4 1086.6,814.3 1086.8,819.3 1087.0,821.8 1087.2,824.6 1087.4,826.7 1087.6,830.5 1087.8,833.2 1088.0,840.5 1088.2,847.1 1088.4,848.8 1088.6,857.0 1088.8,847.7 1089.0,844.0 1089.2,839.5 1089.3,837.7 1089.5,832.3 1089.7,830.2 1089.9,824.8 1090.1,826.8 1090.3,828.0 1090.5,826.2 1090.7,830.7 1090.9,836.2 1091.1,834.6 1091.3,843.3 1091.5,844.6 1091.7,844.8 1091.9,841.6 1092.1,843.4 1092.3,842.5 1092.5,839.2 1092.7,836.9 1092.9,837.0 1093.1,835.3 1093.4,833.1 1093.6,835.6 1093.8,832.4 1094.0,832.9 1094.2,830.3 1094.4,828.2 1094.6,828.8 1094.8,830.6 1095.0,827.8 1095.2,830.7 1095.4,834.2 1095.6,834.8 1095.8,832.0 1096.1,836.3 1096.3,838.7 1096.5,840.4 1096.7,844.3 1096.9,845.3 1097.1,847.3 1097.3,844.6 1097.5,839.4 1097.7,839.9 1097.9,836.0 1098.1,838.4 1098.3,833.6 1098.5,831.5 1098.7,831.4 1098.9,830.5 1099.1,826.0 1099.3,824.1 1099.5,823.2 1099.7,828.4 1099.9,825.1 1100.1,821.1 1100.3,819.4 1100.5,820.7 1100.8,817.4 1101.0,818.3 1101.2,820.6 1101.4,816.9 1101.6,815.2 1101.8,815.9 1102.0,812.3 1102.2,816.3 1102.4,812.9 1102.6,818.2 1102.8,815.0 1103.1,812.7 1103.3,810.9 1103.5,810.7 1103.7,812.3 1103.9,810.8 1104.1,814.8 1104.3,812.2 1104.5,811.9 1104.7,811.3 1104.9,814.1 1105.1,814.3 1105.3,814.4 1105.5,812.7 1105.7,816.6 1105.8,814.6 1106.0,815.5 1106.2,813.1 1106.4,813.6 1106.6,818.0 1106.8,818.7 1107.0,814.0 1107.2,821.1 1107.4,818.6 1107.6,821.7 1107.8,822.7 1108.0,822.8 1108.2,818.6 1108.4,823.8 1108.6,818.6 1108.9,821.2 1109.1,820.9 1109.3,823.9 1109.5,823.3 1109.7,823.8 1109.9,825.1 1110.1,821.9 1110.3,824.4 1110.5,825.6 1110.7,826.1 1110.9,826.9 1111.1,827.1 1111.3,829.5 1111.5,827.4 1111.7,829.8 1111.9,829.9 1112.1,831.0 1112.3,830.0 1112.5,828.6 1112.7,828.2 1112.9,829.7 1113.1,836.4 1113.3,832.1 1113.5,839.3 1113.7,838.3 1114.0,839.7 1114.2,838.1 1114.4,838.8 1114.6,840.4 1114.8,840.4 1115.0,845.4 1115.2,840.0 1115.4,838.8 1115.6,838.2 1115.8,837.4 1116.0,839.7 1116.2,836.3 1116.4,836.3 1116.7,840.5 1116.9,838.8 1117.1,836.4 1117.3,835.5 1117.5,839.3 1117.7,833.7 1117.9,837.8 1118.1,830.9 1118.3,831.4 1118.5,833.9 1118.7,836.2 1118.9,836.2 1119.1,839.0 1119.3,835.5 1119.5,838.1 1119.7,835.5 1119.8,836.7 1120.0,834.3 1120.2,838.4 1120.4,841.4 1120.6,839.5 1120.8,841.6 1121.0,838.7 1121.2,843.9 1121.4,838.9 1121.6,838.5 1121.8,839.1 1122.0,839.1 1122.2,834.4 1122.4,834.1 1122.6,833.8 1122.8,834.2 1123.0,833.3 1123.2,831.8 1123.4,833.9 1123.6,832.4 1123.8,834.5 1124.0,828.8 1124.2,833.3 1124.4,830.7 1124.6,831.7 1124.8,831.2 1125.0,824.2 1125.2,828.5 1125.4,827.4 1125.7,824.9 1125.9,823.5 1126.1,819.8 1126.3,818.7 1126.5,814.0 1126.7,817.4 1126.9,814.6 1127.1,818.0 1127.3,814.8 1127.5,818.1 1127.7,814.3 1127.9,820.4 1128.1,821.1 1128.4,816.0 1128.6,818.6 1128.8,818.2 1129.0,823.2 1129.2,823.7 1129.4,822.3 1129.6,821.5 1129.8,821.8 1130.0,824.5 1130.2,821.0 1130.4,823.3 1130.6,823.4 1130.8,826.2 1131.0,826.5 1131.2,827.5 1131.3,831.0 1131.5,829.0 1131.7,828.4 1131.9,831.7 1132.1,829.1 1132.3,834.5 1132.5,834.1 1132.7,833.9 1132.9,834.1 1133.1,835.2 1133.3,833.5 1133.5,832.3 1133.7,832.8 1133.9,834.7 1134.1,831.2 1134.3,831.2 1134.5,830.3 1134.7,827.7 1135.0,832.9 1135.2,829.7 1135.4,828.8 1135.6,831.8 1135.8,831.9 1136.0,826.1 1136.2,830.3 1136.4,827.3 1136.6,827.4 1136.8,825.7 1137.0,827.1 1137.2,823.9 1137.4,823.8 1137.6,827.3 1137.8,825.2 1138.0,823.1 1138.2,825.1 1138.4,821.1 1138.6,822.0 1138.8,824.1 1139.0,822.9 1139.2,823.1 1139.4,823.4 1139.6,819.8 1139.8,822.7 1140.0,822.0 1140.2,818.7 1140.4,824.2 1140.6,821.7 1140.8,823.3 1141.0,823.3 1141.2,824.1 1141.4,819.1 1141.6,823.3 1141.8,820.7 1142.0,819.9 1142.2,819.4 1142.4,821.8 1142.6,821.7 1142.8,826.2 1143.0,825.9 1143.2,827.0 1143.4,828.7 1143.6,825.0 1143.8,827.7 1144.0,828.1 1144.2,829.0 1144.4,830.7 1144.6,833.5 1144.8,832.7 1145.0,832.8 1145.2,834.2 1145.4,832.3 1145.6,833.8 1145.8,830.4 1146.0,833.7 1146.2,831.3 1146.3,828.3 1146.5,834.3 1146.7,831.5 1146.9,829.7 1147.1,834.2 1147.3,835.9 1147.5,836.6 1147.7,837.4 1147.9,840.2 1148.1,838.4 1148.3,840.0 1148.5,839.2 1148.7,840.7 1148.9,844.1 1149.1,845.9 1149.4,849.3 1149.6,851.3 1149.8,851.9 1150.0,849.1 1150.2,847.3 1150.4,848.6 1150.6,853.7 1150.8,854.3 1151.0,848.4 1151.2,851.0 1151.4,851.0 1151.6,853.2 1151.8,851.5 1152.0,849.8 1152.2,846.4 1152.3,850.2 1152.5,847.9 1152.7,844.7 1152.9,842.6 1153.1,841.0 1153.3,842.5 1153.5,841.8 1153.7,845.6 1153.9,842.0 1154.1,842.9 1154.3,843.9 1154.5,842.1 1154.7,842.1 1154.9,844.2 1155.1,846.3 1155.3,847.5 1155.6,846.6 1155.8,848.8 1156.0,851.5 1156.2,849.8 1156.4,853.3 1156.6,854.5 1156.8,857.5 1157.0,855.7 1157.2,854.8 1157.4,856.9 1157.6,857.1 1157.8,857.4 1158.0,858.1 1158.2,858.4 1158.4,855.5 1158.6,852.8 1158.8,852.3 1159.0,855.9 1159.1,856.8 1159.3,852.7 1159.5,853.1 1159.7,853.8 1159.9,850.6 1160.1,849.1 1160.3,852.5 1160.5,852.3 1160.7,849.7 1160.9,848.8 1161.1,852.5 1161.3,847.3 1161.5,849.6 1161.7,849.3 1161.9,848.9 1162.1,849.7 1162.3,846.6 1162.5,842.7 1162.7,847.2 1162.9,846.1 1163.1,843.8 1163.3,841.9 1163.5,842.3 1163.7,842.1 1163.9,837.6 1164.1,840.8 1164.3,842.4 1164.5,841.9 1164.7,847.0 1164.9,843.9 1165.1,843.6 1165.3,846.1 1165.5,846.5 1165.7,848.4 1165.9,846.0 1166.1,845.2 1166.3,847.7 1166.5,844.4 1166.7,844.0 1166.9,846.4 1167.1,845.0 1167.3,846.9 1167.5,846.9 1167.7,845.0 1167.9,846.1 1168.1,846.1 1168.3,847.7 1168.5,841.0 1168.7,845.5 1168.9,842.0 1169.1,845.3 1169.3,844.3 1169.5,845.5 1169.7,847.5 1169.9,843.9 1170.1,846.0 1170.3,844.1 1170.5,848.5 1170.7,845.1 1170.9,847.1 1171.1,843.0 1171.3,842.5 1171.5,845.8 1171.7,843.7 1171.9,846.6 1172.1,845.3 1172.3,845.2 1172.5,845.6 1172.7,851.2 1172.9,848.4 1173.1,848.2 1173.3,847.4 1173.5,848.9 1173.7,844.2 1173.9,846.7 1174.1,849.4 1174.3,845.1 1174.5,849.9 1174.7,848.8 1174.9,848.8 1175.1,848.6 1175.3,847.3 1175.5,848.5 1175.7,843.1 1175.9,845.6 1176.0,842.6 1176.2,842.7 1176.4,837.8 1176.6,838.5 1176.8,840.7 1177.0,837.4 1177.2,838.3 1177.4,838.9 1177.6,836.3 1177.8,838.3 1178.0,839.7 1178.2,838.6 1178.4,835.3 1178.6,839.0 1178.8,840.3 1179.0,834.9 1179.2,835.1 1179.4,839.4 1179.6,841.9 1179.8,842.5 1180.0,839.3 1180.1,843.0 1180.3,839.9 1180.5,841.1 1180.7,842.0 1180.9,840.8 1181.1,844.7 1181.3,840.7 1181.5,841.7 1181.7,844.6 1181.9,846.0 1182.1,841.6 1182.3,843.1 1182.5,842.0 1182.7,840.7 1182.9,845.0 1183.1,847.2 1183.3,844.0 1183.6,841.8 1183.8,845.6 1184.0,842.3 1184.2,843.5 1184.4,846.4 1184.6,847.0 1184.8,843.6 1185.0,844.6 1185.2,847.7 1185.4,850.7 1185.6,857.6 1185.8,859.4 1186.0,856.4 1186.2,856.4 1186.4,858.7 1186.6,860.8 1186.8,858.7 1187.0,859.4 1187.2,855.6 1187.4,857.4 1187.6,858.5 1187.8,856.2 1187.9,855.5 1188.1,859.7 1188.3,853.5 1188.5,858.2 1188.7,853.6 1188.9,856.0 1189.1,855.4 1189.3,855.9 1189.5,851.8 1189.7,853.6 1189.9,851.2 1190.1,853.4 1190.3,853.2 1190.5,851.4 1190.7,853.6 1190.9,850.9 1191.1,854.9 1191.3,850.3 1191.5,855.1 1191.7,854.6 1191.9,853.4 1192.1,852.2 1192.3,851.2 1192.5,851.1 1192.7,852.8 1192.9,850.6 1193.1,849.6 1193.3,853.3 1193.5,848.6 1193.7,852.2 1193.9,849.7 1194.1,848.8 1194.3,851.4 1194.5,852.3 1194.7,851.8 1194.8,855.9 1195.0,852.9 1195.2,852.6 1195.4,853.9 1195.6,857.1 1195.8,854.6 1196.0,854.1 1196.2,855.4 1196.4,854.5 1196.6,852.5 1196.8,855.4 1197.0,855.6 1197.2,850.6 1197.4,856.0 1197.6,852.8 1197.9,851.6 1198.1,851.7 1198.3,847.2 1198.5,847.4 1198.7,849.8 1198.9,846.8 1199.1,849.9 1199.3,847.6 1199.5,847.1 1199.7,848.0 1199.9,850.4 1200.1,844.7 1200.3,847.7 1200.5,851.7 1200.7,845.7 1200.9,848.4 1201.1,846.8 1201.3,849.4 1201.5,849.7 1201.7,849.0 1201.8,850.3 1202.0,845.5 1202.2,849.0 1202.4,850.7 1202.6,849.0 1202.8,847.8 1203.0,845.8 1203.2,845.1 1203.4,844.4 1203.6,847.1 1203.8,848.4 1204.0,851.5 1204.2,849.3 1204.4,852.6 1204.6,853.2 1204.8,849.3 1205.0,849.4 1205.2,855.0 1205.4,850.9 1205.7,851.7 1205.9,851.5 1206.1,854.4 1206.3,854.3 1206.5,853.7 1206.7,853.3 1206.9,855.6 1207.1,857.2 1207.3,856.9 1207.5,852.4 1207.7,851.0 1207.9,856.1 1208.1,856.1 1208.3,853.4 1208.5,853.1 1208.7,851.1 1208.9,854.7 1209.0,856.9 1209.2,858.7 1209.4,855.9 1209.6,853.4 1209.8,856.9 1210.0,854.5 1210.2,853.1 1210.4,854.1 1210.6,858.1 1210.8,855.7 1211.0,855.8 1211.2,857.7 1211.4,858.4 1211.6,856.1 1211.8,859.4 1212.0,861.9 1212.3,858.8 1212.5,861.2 1212.7,861.7 1212.9,864.1 1213.1,863.6 1213.3,864.5 1213.5,864.4 1213.7,865.1 1213.9,864.2 1214.1,869.0 1214.3,868.4 1214.5,869.4 1214.7,869.8 1214.9,870.1 1215.1,870.3 1215.3,869.3 1215.5,867.4 1215.7,867.0 1215.9,867.4 1216.0,865.0 1216.2,867.7 1216.4,867.6 1216.6,865.5 1216.8,868.4 1217.0,869.1 1217.2,866.0 1217.4,869.5 1217.6,865.2 1217.8,864.4 1218.0,870.1 1218.2,868.6 1218.4,867.2 1218.6,866.3 1218.8,867.4 1219.0,868.2 1219.2,868.2 1219.4,870.3 1219.6,876.6 1219.8,878.1 1220.1,876.0 1220.3,875.4 1220.5,876.9 1220.7,882.4 1220.9,883.5 1221.1,884.5 1221.3,884.4 1221.5,880.5 1221.7,883.0 1221.9,881.7 1222.1,879.8 1222.3,881.9 1222.5,877.4 1222.7,883.3 1222.8,879.2 1223.0,878.9 1223.2,877.8 1223.4,875.9 1223.6,875.9 1223.8,876.3 1224.0,878.6 1224.2,876.1 1224.4,873.1 1224.6,872.4 1224.8,873.8 1225.0,876.5 1225.2,873.5 1225.4,876.6 1225.6,873.7 1225.9,873.4 1226.1,871.9 1226.3,870.4 1226.5,871.3 1226.7,871.2 1226.9,873.6 1227.1,870.4 1227.3,867.1 1227.5,867.1 1227.7,870.5 1227.9,868.7 1228.1,866.7 1228.3,869.1 1228.5,869.4 1228.7,869.2 1228.9,872.1 1229.1,872.4 1229.3,874.6 1229.5,876.5 1229.7,872.5 1229.9,870.1 1230.1,868.6 1230.3,869.8 1230.5,872.9 1230.7,866.5 1230.9,866.6 1231.1,866.5 1231.3,863.2 1231.5,866.4 1231.7,863.5 1231.9,864.8 1232.1,863.5 1232.3,860.3 1232.5,865.3 1232.7,861.8 1232.9,867.5 1233.1,864.3 1233.3,865.7 1233.5,866.1 1233.7,869.4 1233.9,869.5 1234.1,869.2 1234.3,870.0 1234.5,867.9 1234.7,870.6 1234.9,873.7 1235.1,875.9 1235.3,870.8 1235.5,874.0 1235.7,875.4 1235.9,871.8 1236.1,876.9 1236.3,872.6 1236.5,874.3 1236.7,878.8 1236.8,872.7 1237.0,876.4 1237.2,875.7 1237.4,876.8 1237.6,876.2 1237.8,881.7 1238.0,882.9 1238.2,881.0 1238.4,880.3 1238.6,885.1 1238.8,885.9 1239.0,886.3 1239.2,886.9 1239.4,883.0 1239.6,883.1 1239.9,887.1 1240.1,890.5 1240.3,888.5 1240.5,884.7 1240.7,889.0 1240.9,890.7 1241.1,888.5 1241.3,888.3 1241.5,888.7 1241.7,892.6 1241.9,888.4 1242.1,893.3 1242.3,890.7 1242.5,889.7 1242.7,887.5 1242.9,887.0 1243.1,885.9 1243.3,888.8 1243.5,887.3 1243.7,886.8 1243.8,889.9 1244.0,887.3 1244.2,892.7 1244.4,890.3 1244.6,890.8 1244.8,890.3 1245.0,889.7 1245.2,889.0 1245.4,887.5 1245.6,887.5 1245.8,890.9 1246.0,889.4 1246.2,888.1 1246.4,889.9 1246.6,890.6 1246.8,888.8 1247.0,889.5 1247.2,890.4 1247.4,893.4 1247.7,892.1 1247.9,895.2 1248.1,891.2 1248.3,894.8 1248.5,894.8 1248.7,893.3 1248.9,889.6 1249.1,894.3 1249.3,897.2 1249.5,893.6 1249.7,897.4 1249.9,894.8 1250.1,896.6 1250.3,892.2 1250.5,893.5 1250.7,896.2 1250.8,895.1 1251.0,897.3 1251.2,898.0 1251.4,896.0 1251.6,896.2 1251.8,898.4 1252.0,900.8 1252.2,894.5 1252.4,899.2 1252.6,898.9 1252.8,905.4 1253.0,909.0 1253.2,903.7 1253.4,903.7 1253.6,903.4 1253.8,904.7 1254.0,908.8 1254.2,906.3 1254.4,907.5 1254.6,907.6 1254.8,904.2 1255.0,909.6 1255.2,905.6 1255.4,903.9 1255.6,909.3 1255.8,904.1 1255.9,909.2 1256.1,904.1 1256.3,906.6 1256.5,910.1 1256.7,904.6 1256.9,906.2 1257.1,909.9 1257.3,908.7 1257.5,910.5 1257.7,906.9 1257.9,906.2 1258.1,909.7 1258.3,911.4 1258.5,911.2 1258.7,912.6 1258.9,910.2 1259.1,909.0 1259.3,910.5 1259.5,906.9 1259.7,911.1 1259.9,906.5 1260.1,908.3 1260.3,908.1 1260.5,906.1 1260.6,911.1 1260.8,911.0 1261.0,909.0 1261.2,910.3 1261.4,904.8 1261.6,908.5 1261.8,905.1 1262.0,904.0 1262.2,906.1 1262.4,906.0 1262.6,902.5 1262.8,902.1 1263.0,902.8 1263.2,903.4 1263.4,901.0 1263.6,899.5 1263.8,899.2 1264.0,899.0 1264.2,901.5 1264.4,899.3 1264.6,901.2 1264.8,900.4 1265.0,898.7 1265.2,895.5 1265.4,899.4 1265.6,896.8 1265.8,896.8 1266.0,896.9 1266.2,895.8 1266.4,892.7 1266.6,896.1 1266.8,893.2 1267.0,899.4 1267.2,898.6 1267.4,894.4 1267.6,899.1 1267.8,899.7 1268.0,896.4 1268.2,901.3 1268.4,897.8 1268.6,901.4 1268.8,901.2 1269.0,899.6 1269.2,901.6 1269.4,900.7 1269.6,900.1 1269.8,898.8 1270.0,903.0 1270.2,902.3 1270.3,899.7 1270.5,906.0 1270.7,906.5 1270.9,902.3 1271.1,908.3 1271.3,908.8 1271.5,903.2 1271.7,905.5 1271.9,907.2 1272.1,904.0 1272.3,908.6 1272.5,906.5 1272.7,908.6 1272.9,904.5 1273.1,909.2 1273.3,908.6 1273.5,904.6 1273.7,908.9 1273.8,906.0 1274.0,908.3 1274.2,905.8 1274.4,905.9 1274.6,907.1 1274.8,906.0 1275.0,906.7 1275.2,904.2 1275.4,906.7 1275.6,902.9 1275.8,904.7 1276.0,901.8 1276.2,905.1 1276.4,903.6 1276.6,902.8 1276.8,903.8 1277.0,906.4 1277.2,904.2 1277.4,905.7 1277.6,898.7 1277.8,905.2 1278.1,904.7 1278.3,898.7 1278.5,902.2 1278.7,896.9 1278.9,897.5 1279.1,899.1 1279.3,900.8 1279.5,897.3 1279.7,894.2 1279.9,900.1 1280.1,899.2 1280.3,899.2 1280.5,902.8 1280.7,899.1 1280.9,903.2 1281.1,902.2 1281.3,897.5 1281.5,899.4 1281.7,899.7 1281.9,900.0 1282.1,897.2 1282.3,898.3 1282.5,897.2 1282.7,896.8 1282.9,897.9 1283.1,902.0 1283.3,903.7 1283.5,900.3 1283.7,904.0 1283.9,898.8 1284.1,902.0 1284.3,902.0 1284.5,901.1 1284.7,903.8 1284.9,903.5 1285.1,906.5 1285.3,899.6 1285.5,900.3 1285.7,899.8 1285.9,901.3 1286.1,898.6 1286.3,898.9 1286.6,901.6 1286.8,898.6 1287.0,900.1 1287.2,899.1 1287.4,903.8 1287.6,898.1 1287.8,902.6 1288.0,903.5 1288.2,900.8 1288.4,899.8 1288.6,903.0 1288.8,904.3 1289.0,903.7 1289.2,901.5 1289.4,906.4 1289.6,901.6 1289.8,906.5 1290.0,905.2 1290.2,906.5 1290.4,902.7 1290.6,901.4 1290.8,898.3 1291.0,892.2 1291.2,892.5 1291.3,887.2 1291.5,881.2 1291.7,880.5 1291.9,877.8 1292.1,878.0 1292.3,878.1 1292.5,875.3 1292.7,874.9 1292.9,879.3 1293.1,873.5 1293.3,877.6 1293.5,875.5 1293.7,876.3 1293.9,877.5 1294.1,877.9 1294.3,876.8 1294.5,874.5 1294.7,874.3 1294.9,879.0 1295.1,880.0 1295.3,880.8 1295.5,881.9 1295.6,878.6 1295.8,882.4 1296.0,882.8 1296.2,881.4 1296.4,884.4 1296.6,880.2 1296.8,879.7 1297.0,882.7 1297.2,879.6 1297.4,881.9 1297.6,881.2 1297.8,880.1 1298.0,883.3 1298.2,878.9 1298.4,880.7 1298.6,878.3 1298.8,881.1 1299.0,875.1 1299.2,874.6 1299.4,875.0 1299.6,874.7 1299.8,876.4 1300.0,877.6 1300.2,874.7 1300.4,878.6 1300.6,875.5 1300.8,872.8 1301.0,872.8 1301.2,874.7 1301.4,869.7 1301.6,868.7 1301.8,871.6 1302.0,871.8 1302.2,873.1 1302.4,873.9 1302.6,873.5 1302.8,874.8 1303.0,870.0 1303.2,869.8 1303.4,872.8 1303.6,870.2 1303.8,871.8 1304.0,871.9 1304.2,871.1 1304.4,874.6 1304.6,872.3 1304.8,871.7 1305.0,871.0 1305.3,871.7 1305.5,874.3 1305.7,870.9 1305.9,875.5 1306.1,872.1 1306.3,871.7 1306.5,874.5 1306.7,874.1 1306.9,873.7 1307.1,873.9 1307.3,879.2 1307.5,875.0 1307.7,876.9 1307.9,879.3 1308.1,879.5 1308.3,877.0 1308.5,878.3 1308.7,878.5 1308.9,881.7 1309.1,878.2 1309.3,882.8 1309.5,880.9 1309.7,883.7 1309.9,883.7 1310.1,884.1 1310.3,881.5 1310.5,878.6 1310.7,884.0 1310.9,879.0 1311.1,885.5 1311.3,878.9 1311.5,884.3 1311.7,881.4 1311.9,880.4 1312.1,884.8 1312.3,880.7 1312.5,883.7 1312.7,886.3 1312.9,883.2 1313.1,884.0 1313.3,883.5 1313.5,883.8 1313.7,883.6 1313.9,884.3 1314.1,881.3 1314.3,878.8 1314.5,881.3 1314.7,876.3 1314.9,876.4 1315.1,878.1 1315.4,877.2 1315.6,879.0 1315.8,880.1 1316.0,876.2 1316.2,874.2 1316.4,876.6 1316.6,877.3 1316.8,876.5 1317.0,875.9 1317.2,875.3 1317.4,879.1 1317.6,873.6 1317.8,873.7 1318.0,873.2 1318.2,876.6 1318.4,874.4 1318.6,873.6 1318.8,871.6 1319.0,874.0 1319.2,872.1 1319.3,868.8 1319.5,870.5 1319.7,867.5 1319.9,867.1 1320.1,868.7 1320.3,865.0 1320.5,866.2 1320.7,867.4 1320.9,863.9 1321.1,865.9 1321.3,865.9 1321.5,861.9 1321.7,860.9 1321.9,861.4 1322.1,863.4 1322.4,858.9 1322.6,860.9 1322.8,859.4 1323.0,857.8 1323.2,859.0 1323.4,852.8 1323.6,853.8 1323.8,856.0 1324.0,855.2 1324.2,854.1 1324.4,852.5 1324.6,854.5 1324.8,858.4 1325.0,859.5 1325.2,858.8 1325.3,854.7 1325.5,855.2 1325.7,858.2 1325.9,862.6 1326.1,860.5 1326.3,860.2 1326.5,862.7 1326.7,864.6 1326.9,861.6 1327.1,858.9 1327.3,862.5 1327.5,860.3 1327.7,855.7 1327.9,857.8 1328.1,853.5 1328.3,857.4 1328.5,856.4 1328.7,852.4 1328.9,850.8 1329.1,851.0 1329.3,849.1 1329.5,850.9 1329.7,853.2 1329.9,848.6 1330.1,850.8 1330.3,849.2 1330.5,850.4 1330.7,848.9 1330.9,848.6 1331.1,852.5 1331.3,847.4 1331.5,853.7 1331.7,852.6 1331.9,853.2 1332.1,853.0 1332.3,851.2 1332.5,851.9 1332.7,854.8 1332.9,850.5 1333.1,850.7 1333.3,854.7 1333.5,856.4 1333.7,854.5 1333.9,857.9 1334.1,855.9 1334.3,859.0 1334.5,859.3 1334.7,857.0 1334.9,861.2 1335.1,863.0 1335.3,860.5 1335.5,859.0 1335.7,857.9 1335.9,856.3 1336.1,855.1 1336.3,853.3 1336.5,850.6 1336.7,852.1 1336.9,849.3 1337.1,845.3 1337.3,848.3 1337.5,847.9 1337.7,848.1 1337.9,849.7 1338.1,845.7 1338.3,846.9 1338.5,848.6 1338.7,850.7 1338.9,849.2 1339.1,848.9 1339.2,852.1 1339.4,849.4 1339.6,850.3 1339.8,848.5 1340.0,849.3 1340.2,851.8 1340.4,849.1 1340.6,854.5 1340.8,852.7 1341.0,850.0 1341.2,854.6 1341.4,850.6 1341.6,852.0 1341.8,855.5 1342.0,855.8 1342.2,853.6 1342.4,856.2 1342.6,856.7 1342.8,854.9 1343.0,857.4 1343.2,857.8 1343.4,856.3 1343.6,859.8 1343.7,858.9 1343.9,856.3 1344.1,859.1 1344.3,861.8 1344.5,861.3 1344.7,859.0 1344.9,861.5 1345.1,859.2 1345.3,863.0 1345.5,858.4 1345.7,861.8 1345.9,861.4 1346.1,855.7 1346.3,858.0 1346.5,859.1 1346.7,855.2 1346.9,856.2 1347.1,859.5 1347.3,858.9 1347.5,854.6 1347.7,858.8 1348.0,859.9 1348.2,858.5 1348.4,854.2 1348.6,854.8 1348.8,854.5 1349.0,852.0 1349.2,851.5 1349.4,850.1 1349.6,854.7 1349.8,854.7 1350.0,851.6 1350.2,850.4 1350.4,849.4 1350.6,850.2 1350.8,852.2 1351.0,853.7 1351.2,853.9 1351.4,854.7 1351.6,851.5 1351.8,854.3 1352.0,852.6 1352.2,853.3 1352.4,855.9 1352.6,851.5 1352.8,855.6 1353.0,856.6 1353.2,852.2 1353.4,854.5 1353.6,852.3 1353.8,854.7 1354.0,858.0 1354.2,851.7 1354.4,852.0 1354.6,849.2 1354.8,850.7 1355.0,844.2 1355.2,847.5 1355.4,849.9 1355.6,845.3 1355.8,849.0 1356.0,847.9 1356.2,854.0 1356.4,853.4 1356.6,853.7 1356.8,855.2 1357.0,855.7 1357.2,860.1 1357.4,860.2 1357.6,862.9 1357.8,860.0 1358.0,860.0 1358.2,865.7 1358.4,860.6 1358.6,863.3 1358.8,866.2 1358.9,866.1 1359.1,864.6 1359.3,870.9 1359.5,871.0 1359.7,867.0 1359.9,874.0 1360.1,869.4 1360.3,873.8 1360.5,870.2 1360.7,876.0 1360.9,875.1 1361.1,870.5 1361.3,875.7 1361.6,874.9 1361.8,877.0 1362.0,878.8 1362.2,879.7 1362.4,879.2 1362.6,879.9 1362.8,876.3 1363.0,880.3 1363.2,880.3 1363.4,880.4 1363.6,875.4 1363.8,878.0 1364.0,875.6 1364.2,875.0 1364.4,875.3 1364.6,871.3 1364.8,873.7 1365.0,871.3 1365.1,874.3 1365.3,868.5 1365.5,868.7 1365.7,870.7 1365.9,867.5 1366.1,872.0 1366.3,870.1 1366.5,869.6 1366.7,867.8 1366.9,867.5 1367.1,870.8 1367.3,867.8 1367.5,867.3 1367.7,869.8 1367.9,864.3 1368.1,866.2 1368.3,866.1 1368.5,868.8 1368.7,869.1 1369.0,867.2 1369.2,868.5 1369.4,867.4 1369.6,868.0 1369.8,873.3 1370.0,869.2 1370.2,871.0 1370.4,870.5 1370.6,872.5 1370.8,873.3 1371.0,874.4 1371.2,872.1 1371.4,871.7 1371.6,873.3 1371.8,871.5 1372.0,874.3 1372.2,875.5 1372.4,874.4 1372.6,874.5 1372.8,877.5 1373.0,875.2 1373.2,873.5 1373.4,877.0 1373.6,876.1 1373.8,876.2 1374.0,877.3 1374.2,876.0 1374.4,876.8 1374.6,875.8 1374.8,878.1 1375.0,876.7 1375.2,878.7 1375.4,874.7 1375.6,874.8 1375.8,875.2 1376.0,880.0 1376.2,876.5 1376.4,877.8 1376.6,879.3 1376.8,880.2 1377.0,880.9 1377.2,881.8 1377.4,881.2 1377.6,877.3 1377.8,877.3 1378.0,877.8 1378.2,879.4 1378.4,875.0 1378.6,880.2 1378.8,875.9 1379.0,879.5 1379.2,878.4 1379.3,877.9 1379.5,878.9 1379.7,875.9 1379.9,876.3 1380.1,876.3 1380.3,872.3 1380.5,873.7 1380.7,872.5 1380.9,873.0 1381.1,869.6 1381.3,872.3 1381.5,872.3 1381.7,870.2 1381.9,868.2 1382.1,867.4 1382.3,870.6 1382.5,864.9 1382.7,866.4 1382.9,866.7 1383.1,867.5 1383.4,866.4 1383.6,867.7 1383.8,864.6 1384.0,862.9 1384.2,862.8 1384.4,862.3 1384.6,864.1 1384.8,863.3 1385.0,865.8 1385.2,865.4 1385.4,860.4 1385.6,864.9 1385.8,860.5 1386.0,859.6 1386.2,861.2 1386.4,860.2 1386.6,863.6 1386.8,861.4 1387.0,859.2 1387.2,861.2 1387.3,860.3 1387.5,859.8 1387.7,860.3 1387.9,860.9 1388.1,863.8 1388.3,863.7 1388.5,859.1 1388.7,859.9 1388.9,859.6 1389.1,863.5 1389.3,864.0 1389.5,861.6 1389.7,861.8 1389.9,863.8 1390.1,861.9 1390.3,862.6 1390.5,862.4 1390.7,864.0 1390.9,863.4 1391.1,866.2 1391.3,865.9 1391.5,865.7 1391.7,871.8 1391.9,867.8 1392.1,868.4 1392.3,870.5 1392.5,868.6 1392.7,873.8 1392.9,871.9 1393.1,875.0 1393.3,878.0 1393.5,874.6 1393.7,873.6 1393.9,873.6 1394.1,873.8 1394.3,877.0 1394.5,875.4 1394.7,878.2 1394.9,878.1 1395.1,878.7 1395.3,874.4 1395.5,878.3 1395.7,877.7 1395.9,872.9 1396.0,878.2 1396.2,877.9 1396.4,875.4 1396.6,877.9 1396.8,877.1 1397.0,875.5 1397.2,873.6 1397.4,872.2 1397.6,874.8 1397.8,873.6 1398.0,873.9 1398.2,873.2 1398.4,874.5 1398.6,872.2 1398.8,873.5 1399.0,872.0 1399.2,875.2 1399.4,872.5 1399.6,877.7 1399.8,876.1 1400.0,873.8 1400.2,875.2 1400.4,877.5 1400.6,875.6 1400.8,876.7 1401.0,877.8 1401.2,878.3 1401.3,874.1 1401.5,877.6 1401.7,880.4 1401.9,880.7 1402.1,878.8 1402.3,875.9 1402.5,878.5 1402.7,882.5 1402.9,880.8 1403.1,881.7 1403.3,879.9 1403.5,883.2 1403.7,878.3 1403.9,879.5 1404.1,880.9 1404.3,878.1 1404.5,878.6 1404.7,882.9 1404.9,877.4 1405.1,877.9 1405.3,880.8 1405.5,878.2 1405.7,882.3 1405.9,877.5 1406.1,877.5 1406.3,880.7 1406.5,877.2 1406.7,880.7 1406.9,877.7 1407.1,879.6 1407.3,877.9 1407.5,881.6 1407.7,878.4 1407.9,877.3 1408.1,877.6 1408.3,880.0 1408.5,877.7 1408.7,880.2 1408.9,877.7 1409.1,876.1 1409.3,877.9 1409.5,872.5 1409.7,876.6 1409.9,873.6 1410.1,871.0 1410.3,876.6 1410.4,873.5 1410.6,877.3 1410.8,875.8 1411.0,875.2 1411.2,875.1 1411.4,876.9 1411.6,877.8 1411.8,875.2 1412.0,873.7 1412.2,878.6 1412.4,872.1 1412.6,873.1 1412.8,874.8 1413.0,876.0 1413.2,871.9 1413.4,876.4 1413.6,873.2 1413.8,870.7 1414.0,875.4 1414.2,870.2 1414.4,871.5 1414.6,871.8 1414.8,871.2 1415.0,867.1 1415.2,867.1 1415.3,868.6 1415.5,864.0 1415.7,865.2 1415.9,863.1 1416.1,867.1 1416.3,865.4 1416.5,865.3 1416.7,863.8 1416.9,862.5 1417.1,866.8 1417.3,867.4 1417.5,866.1 1417.7,868.4 1417.9,871.1 1418.1,872.4 1418.3,869.9 1418.5,869.7 1418.8,872.1 1419.0,874.3 1419.2,869.5 1419.4,871.9 1419.6,872.8 1419.8,873.0 1420.0,876.2 1420.2,878.8 1420.4,877.1 1420.6,882.3 1420.8,879.5 1421.0,881.0 1421.2,880.7 1421.4,880.8 1421.6,883.0 1421.8,879.0 1422.0,881.2 1422.2,878.2 1422.4,881.2 1422.5,878.5 1422.7,883.3 1422.9,878.2 1423.1,883.9 1423.3,878.7 1423.5,880.1 1423.7,877.9 1423.9,883.4 1424.1,882.4 1424.3,881.0 1424.5,884.8 1424.7,888.7 1424.8,891.8 1425.0,898.9 1425.2,902.8 1425.4,902.4 1425.6,900.5 1425.8,899.2 1426.0,902.0 1426.2,898.4 1426.4,897.3 1426.6,899.6 1426.8,897.1 1427.0,894.6 1427.2,893.8 1427.4,898.1 1427.6,895.5 1427.8,892.7 1428.0,892.7 1428.2,896.2 1428.4,890.6 1428.6,895.0 1428.8,891.6 1429.0,893.8 1429.2,891.8 1429.4,893.7 1429.6,893.7 1429.8,892.3 1430.0,894.0 1430.2,892.1 1430.4,887.9 1430.6,887.8 1430.8,890.4 1431.0,892.2 1431.2,888.3 1431.4,888.3 1431.6,890.8 1431.8,887.6 1432.0,888.9 1432.2,887.8 1432.4,891.7 1432.6,886.4 1432.8,889.3 1433.0,887.0 1433.2,889.1 1433.4,888.7 1433.6,886.1 1433.8,887.8 1434.0,886.9 1434.2,885.1 1434.4,886.4 1434.7,881.4 1434.9,880.4 1435.1,881.2 1435.3,882.0 1435.5,880.1 1435.7,882.3 1435.9,879.4 1436.1,877.1 1436.3,875.5 1436.5,875.8 1436.7,876.8 1436.9,871.3 1437.1,874.5 1437.3,872.2 1437.5,872.5 1437.7,868.7 1437.9,864.5 1438.1,864.7 1438.3,866.1 1438.5,862.9 1438.7,862.2 1438.9,862.0 1439.1,862.7 1439.3,863.1 1439.5,865.5 1439.7,862.3 1439.9,861.7 1440.1,859.7 1440.3,858.6 1440.5,861.1 1440.6,862.9 1440.8,861.3 1441.0,858.7 1441.2,861.7 1441.4,857.0 1441.6,862.9 1441.8,860.7 1442.0,858.5 1442.2,856.2 1442.4,859.0 1442.6,857.9 1442.8,861.7 1443.0,863.4 1443.2,861.6 1443.4,859.4 1443.6,857.9 1443.8,858.9 1444.0,860.3 1444.2,861.7 1444.4,861.4 1444.6,862.5 1444.8,857.8 1445.0,862.2 1445.2,863.0 1445.4,862.4 1445.6,860.4 1445.8,855.9 1446.0,857.4 1446.2,860.4 1446.4,855.8 1446.6,859.5 1446.8,859.7 1447.0,860.0 1447.2,859.0 1447.4,853.9 1447.6,855.6 1447.8,857.5 1448.0,853.7 1448.2,850.8 1448.4,853.7 1448.6,852.7 1448.8,849.6 1449.0,852.8 1449.2,848.9 1449.4,846.7 1449.6,849.7 1449.8,850.3 1450.0,845.6 1450.2,849.4 1450.4,844.6 1450.6,847.0 1450.8,845.3 1451.1,847.6 1451.3,846.1 1451.5,845.4 1451.7,840.7 1451.9,843.8 1452.1,844.4 1452.3,839.0 1452.5,838.5 1452.7,840.4 1452.9,838.6 1453.1,839.0 1453.3,836.7 1453.5,836.3 1453.7,837.2 1453.9,832.2 1454.1,835.9 1454.3,835.3 1454.5,835.4 1454.6,834.3 1454.8,831.3 1455.0,830.2 1455.2,827.3 1455.4,829.0 1455.6,831.9 1455.8,829.2 1456.0,825.9 1456.2,831.8 1456.4,827.3 1456.6,827.0 1456.8,829.0 1457.0,827.9 1457.2,828.3 1457.4,826.0 1457.6,826.2 1457.8,829.9 1458.0,824.4 1458.2,826.0 1458.5,828.5 1458.7,828.4 1458.9,828.0 1459.1,825.4 1459.3,826.7 1459.5,830.2 1459.7,825.4 1459.9,830.9 1460.1,826.7 1460.3,824.7 1460.5,824.7 1460.7,827.7 1460.9,820.7 1461.0,822.2 1461.2,822.4 1461.4,822.2 1461.6,820.8 1461.8,815.8 1462.0,814.3 1462.2,811.6 1462.4,809.1 1462.6,803.6 1462.8,800.4 1463.0,798.6 1463.2,798.8 1463.4,793.8 1463.6,797.8 1463.8,794.2 1464.0,800.1 1464.2,795.6 1464.4,802.2 1464.6,800.6 1464.8,797.9 1465.1,802.4 1465.3,801.6 1465.5,801.7 1465.7,803.2 1465.9,802.5 1466.1,803.4 1466.3,803.6 1466.5,802.9 1466.7,806.0 1466.9,802.9 1467.1,801.5 1467.3,803.5 1467.5,802.3 1467.8,797.3 1468.0,798.8 1468.2,796.3 1468.4,796.3 1468.6,796.4 1468.8,793.2 1469.0,788.7 1469.2,785.8 1469.4,783.2 1469.6,780.9 1469.8,781.2 1470.0,780.9 1470.2,778.5 1470.4,774.5 1470.6,775.1 1470.8,775.0 1471.0,775.7 1471.2,777.3 1471.4,774.0 1471.7,774.6 1471.9,777.8 1472.1,777.1 1472.3,777.8 1472.5,776.4 1472.7,775.0 1472.9,778.9 1473.1,782.5 1473.3,784.6 1473.5,782.8 1473.7,786.3 1473.9,789.4 1474.1,788.7 1474.4,787.5 1474.6,788.6 1474.8,793.2 1475.0,789.4 1475.2,795.4 1475.4,796.2 1475.6,801.1 1475.8,798.0 1476.0,796.7 1476.2,797.2 1476.4,795.7 1476.6,790.5 1476.7,794.8 1476.9,792.5 1477.1,787.7 1477.3,787.1 1477.5,786.5 1477.7,781.1 1477.9,787.0 1478.1,783.0 1478.3,784.7 1478.5,781.1 1478.7,784.2 1478.9,783.1 1479.1,781.2 1479.3,779.7 1479.5,780.8 1479.7,778.6 1479.9,782.0 1480.1,787.4 1480.3,784.8 1480.5,786.1 1480.7,792.2 1481.0,795.8 1481.2,796.6 1481.4,795.0 1481.6,799.5 1481.8,801.2 1482.0,805.5 1482.2,799.8 1482.4,798.6 1482.6,800.4 1482.8,793.6 1483.0,798.7 1483.2,794.3 1483.4,795.5 1483.6,789.3 1483.8,787.7 1484.0,786.0 1484.2,786.0 1484.4,784.0 1484.6,787.7 1484.8,789.3 1485.0,788.6 1485.2,796.3 1485.4,798.2 1485.7,795.0 1485.9,796.7 1486.1,798.2 1486.3,797.2 1486.5,800.8 1486.7,800.9 1486.9,804.3 1487.1,798.6 1487.3,798.8 1487.5,794.4 1487.7,795.2 1487.9,790.6 1488.2,787.3 1488.4,785.6 1488.6,778.3 1488.8,779.4 1489.0,775.8 1489.2,771.8 1489.4,772.5 1489.6,774.3 1489.8,774.2 1490.0,779.3 1490.2,781.2 1490.4,785.8 1490.6,788.9 1490.8,788.1 1491.0,792.7 1491.2,794.0 1491.4,796.0 1491.6,798.9 1491.8,795.5 1492.0,795.6 1492.2,797.1 1492.4,797.9 1492.6,797.3 1492.8,800.8 1493.0,797.5 1493.2,801.4 1493.4,802.9 1493.6,803.2 1493.8,801.1 1494.0,798.5 1494.2,795.9 1494.4,797.8 1494.6,797.8 1494.8,800.9 1495.0,800.4 1495.2,796.1 1495.4,798.6 1495.6,798.0 1495.8,794.4 1496.0,793.6 1496.2,792.1 1496.4,794.4 1496.6,791.6 1496.8,788.7 1497.0,790.0 1497.2,789.6 1497.4,787.2 1497.6,782.8 1497.8,780.5 1498.0,780.1 1498.2,780.8 1498.4,779.9 1498.6,787.7 1498.8,788.5 1499.0,789.0 1499.2,786.1 1499.4,786.7 1499.6,788.9 1499.8,791.3 1500.0,793.5 1500.2,788.7 1500.4,794.6 1500.6,795.7 1500.8,794.0 1501.0,793.9 1501.2,788.0 1501.4,787.7 1501.6,784.4 1501.8,785.7 1502.0,781.0 1502.2,778.0 1502.4,778.0 1502.6,776.1 1502.8,775.3 1503.0,770.5 1503.2,767.0 1503.4,769.7 1503.6,762.5 1503.8,761.2 1504.0,764.0 1504.2,765.4 1504.4,768.8 1504.7,771.9 1504.9,776.0 1505.1,780.4 1505.3,782.7" fill="none" stroke="#7b9dc3" stroke-width="3.3" stroke-linejoin="round" stroke-linecap="round" opacity="1" />
<line x1="899.6" y1="773.4" x2="1505.7" y2="773.4" stroke="rgba(60,60,60,0.45)" stroke-width="1.6" />
<line x1="899.6" y1="1010" x2="1505.7" y2="1010" stroke="#555" stroke-width="1.7" />
<line x1="899.6" y1="1012.2" x2="1505.7" y2="1012.2" stroke="#999" stroke-width="1.3" stroke-dasharray="1.1 1.2"/>
<line x1="899.4" y1="1010" x2="899.4" y2="1014.5" stroke="#222" stroke-width="1.4" />
<line x1="939.13" y1="1010" x2="939.13" y2="1014.5" stroke="#222" stroke-width="1.4" />
<line x1="978.86" y1="1010" x2="978.86" y2="1014.5" stroke="#222" stroke-width="1.4" />
<line x1="1018.5899999999999" y1="1010" x2="1018.5899999999999" y2="1014.5" stroke="#222" stroke-width="1.4" />
<line x1="1058.32" y1="1010" x2="1058.32" y2="1014.5" stroke="#222" stroke-width="1.4" />
<line x1="1098.05" y1="1010" x2="1098.05" y2="1014.5" stroke="#222" stroke-width="1.4" />
<line x1="1137.78" y1="1010" x2="1137.78" y2="1014.5" stroke="#222" stroke-width="1.4" />
<line x1="1177.51" y1="1010" x2="1177.51" y2="1014.5" stroke="#222" stroke-width="1.4" />
<line x1="1217.24" y1="1010" x2="1217.24" y2="1014.5" stroke="#222" stroke-width="1.4" />
<line x1="1256.97" y1="1010" x2="1256.97" y2="1014.5" stroke="#222" stroke-width="1.4" />
<line x1="1296.6999999999998" y1="1010" x2="1296.6999999999998" y2="1014.5" stroke="#222" stroke-width="1.4" />
<line x1="1336.4299999999998" y1="1010" x2="1336.4299999999998" y2="1014.5" stroke="#222" stroke-width="1.4" />
<line x1="1376.1599999999999" y1="1010" x2="1376.1599999999999" y2="1014.5" stroke="#222" stroke-width="1.4" />
<line x1="1415.8899999999999" y1="1010" x2="1415.8899999999999" y2="1014.5" stroke="#222" stroke-width="1.4" />
<line x1="1455.62" y1="1010" x2="1455.62" y2="1014.5" stroke="#222" stroke-width="1.4" />
<line x1="1495.35" y1="1010" x2="1495.35" y2="1014.5" stroke="#222" stroke-width="1.4" />
<text x="0" y="0" font-size="14" font-weight="normal" fill="#000" text-anchor="start" textLength="55.5" lengthAdjust="spacingAndGlyphs" transform="translate(900.9,1022.5) rotate(90)">07/01/01</text>
<text x="0" y="0" font-size="14" font-weight="normal" fill="#000" text-anchor="start" textLength="55.5" lengthAdjust="spacingAndGlyphs" transform="translate(934.1,1022.5) rotate(90)">08/01/01</text>
<text x="0" y="0" font-size="14" font-weight="normal" fill="#000" text-anchor="start" textLength="55.5" lengthAdjust="spacingAndGlyphs" transform="translate(973.8,1022.5) rotate(90)">09/01/01</text>
<text x="0" y="0" font-size="14" font-weight="normal" fill="#000" text-anchor="start" textLength="55.5" lengthAdjust="spacingAndGlyphs" transform="translate(1013.5,1022.5) rotate(90)">10/01/01</text>
<text x="0" y="0" font-size="14" font-weight="normal" fill="#000" text-anchor="start" textLength="55.5" lengthAdjust="spacingAndGlyphs" transform="translate(1053.3,1022.5) rotate(90)">11/01/01</text>
<text x="0" y="0" font-size="14" font-weight="normal" fill="#000" text-anchor="start" textLength="55.5" lengthAdjust="spacingAndGlyphs" transform="translate(1093.0,1022.5) rotate(90)">12/01/01</text>
<text x="0" y="0" font-size="14" font-weight="normal" fill="#000" text-anchor="start" textLength="55.5" lengthAdjust="spacingAndGlyphs" transform="translate(1132.7,1022.5) rotate(90)">13/01/01</text>
<text x="0" y="0" font-size="14" font-weight="normal" fill="#000" text-anchor="start" textLength="55.5" lengthAdjust="spacingAndGlyphs" transform="translate(1172.5,1022.5) rotate(90)">14/01/01</text>
<text x="0" y="0" font-size="14" font-weight="normal" fill="#000" text-anchor="start" textLength="55.5" lengthAdjust="spacingAndGlyphs" transform="translate(1212.2,1022.5) rotate(90)">15/01/01</text>
<text x="0" y="0" font-size="14" font-weight="normal" fill="#000" text-anchor="start" textLength="55.5" lengthAdjust="spacingAndGlyphs" transform="translate(1251.9,1022.5) rotate(90)">16/01/01</text>
<text x="0" y="0" font-size="14" font-weight="normal" fill="#000" text-anchor="start" textLength="55.5" lengthAdjust="spacingAndGlyphs" transform="translate(1291.7,1022.5) rotate(90)">17/01/01</text>
<text x="0" y="0" font-size="14" font-weight="normal" fill="#000" text-anchor="start" textLength="55.5" lengthAdjust="spacingAndGlyphs" transform="translate(1331.4,1022.5) rotate(90)">18/01/01</text>
<text x="0" y="0" font-size="14" font-weight="normal" fill="#000" text-anchor="start" textLength="55.5" lengthAdjust="spacingAndGlyphs" transform="translate(1371.1,1022.5) rotate(90)">19/01/01</text>
<text x="0" y="0" font-size="14" font-weight="normal" fill="#000" text-anchor="start" textLength="55.5" lengthAdjust="spacingAndGlyphs" transform="translate(1410.8,1022.5) rotate(90)">20/01/01</text>
<text x="0" y="0" font-size="14" font-weight="normal" fill="#000" text-anchor="start" textLength="55.5" lengthAdjust="spacingAndGlyphs" transform="translate(1450.6,1022.5) rotate(90)">21/01/01</text>
<text x="0" y="0" font-size="14" font-weight="normal" fill="#000" text-anchor="start" textLength="55.5" lengthAdjust="spacingAndGlyphs" transform="translate(1490.3,1022.5) rotate(90)">22/01/01</text>
<text x="858" y="734" font-size="13" font-weight="normal" fill="#000" text-anchor="start" textLength="80" lengthAdjust="spacingAndGlyphs" >(USD/ポンド)</text>
<text x="903" y="769.5" font-size="11.5" font-weight="bold" fill="#000" text-anchor="start" textLength="20" lengthAdjust="spacingAndGlyphs" >4.7</text>
<text x="1437" y="1006" font-size="12" font-weight="bold" fill="#000" text-anchor="start" textLength="67.5" lengthAdjust="spacingAndGlyphs" >22/03/25</text>
<text x="1447.5" y="1095.5" font-size="14" font-weight="normal" fill="#000" text-anchor="start" textLength="56" lengthAdjust="spacingAndGlyphs" >(年月日)</text>
<text x="48" y="1086" font-size="20" fill="#000" textLength="143" lengthAdjust="spacingAndGlyphs">資料：Refinitiv</text>
<text transform="translate(58.65,1111.30) scale(1.000,1.000)" x="0" y="0" font-size="20.8" font-weight="normal" fill="#000" text-anchor="middle" stroke="#000" stroke-width="0.15">（</text>
<text transform="translate(77.83,1111.30) scale(1.037,1.000)" x="0" y="0" font-size="20.8" font-weight="normal" fill="#000" text-anchor="middle" stroke="#000" stroke-width="0.15">注</text>
<text transform="translate(97.60,1111.30) scale(1.000,1.000)" x="0" y="0" font-size="20.8" font-weight="normal" fill="#000" text-anchor="middle" stroke="#000" stroke-width="0.15">）</text>
<text transform="translate(119.95,1111.30) scale(1.005,1.000)" x="0" y="0" font-size="20.8" font-weight="normal" fill="#000" text-anchor="middle" stroke="#000" stroke-width="0.15">先</text>
<text transform="translate(141.85,1111.30) scale(1.005,1.000)" x="0" y="0" font-size="20.8" font-weight="normal" fill="#000" text-anchor="middle" stroke="#000" stroke-width="0.15">物</text>
<text transform="translate(161.20,1111.30) scale(1.000,1.000)" x="0" y="0" font-size="20.8" font-weight="normal" fill="#000" text-anchor="middle" stroke="#000" stroke-width="0.15">取</text>
<text transform="translate(181.63,1111.30) scale(1.067,1.000)" x="0" y="0" font-size="20.8" font-weight="normal" fill="#000" text-anchor="middle" stroke="#000" stroke-width="0.15">引</text>
<text transform="translate(203.05,1111.30) scale(0.905,1.000)" x="0" y="0" font-size="20.8" font-weight="normal" fill="#000" text-anchor="middle" stroke="#000" stroke-width="0.15">の</text>
<text transform="translate(222.00,1111.30) scale(0.950,1.000)" x="0" y="0" font-size="20.8" font-weight="normal" fill="#000" text-anchor="middle" stroke="#000" stroke-width="0.15">休</text>
<text transform="translate(241.85,1111.30) scale(0.965,1.000)" x="0" y="0" font-size="20.8" font-weight="normal" fill="#000" text-anchor="middle" stroke="#000" stroke-width="0.15">場</text>
<text transform="translate(261.60,1111.30) scale(1.057,1.000)" x="0" y="0" font-size="20.8" font-weight="normal" fill="#000" text-anchor="middle" stroke="#000" stroke-width="0.15">日</text>
<text transform="translate(281.77,1111.30) scale(0.941,1.000)" x="0" y="0" font-size="20.8" font-weight="normal" fill="#000" text-anchor="middle" stroke="#000" stroke-width="0.15">は</text>
<text transform="translate(299.63,1111.30) scale(0.937,1.000)" x="0" y="0" font-size="20.8" font-weight="normal" fill="#000" text-anchor="middle" stroke="#000" stroke-width="0.15">欠</text>
<text transform="translate(321.35,1111.30) scale(0.985,1.000)" x="0" y="0" font-size="20.8" font-weight="normal" fill="#000" text-anchor="middle" stroke="#000" stroke-width="0.15">損</text>
<text transform="translate(341.95,1111.30) scale(0.955,1.000)" x="0" y="0" font-size="20.8" font-weight="normal" fill="#000" text-anchor="middle" stroke="#000" stroke-width="0.15">値</text>
<text transform="translate(362.45,1111.30) scale(0.605,1.000)" x="0" y="0" font-size="20.8" font-weight="normal" fill="#000" text-anchor="middle" stroke="#000" stroke-width="0.15">で</text>
<text transform="translate(378.19,1111.30) scale(0.889,1.000)" x="0" y="0" font-size="20.8" font-weight="normal" fill="#000" text-anchor="middle" stroke="#000" stroke-width="0.15">あ</text>
<text transform="translate(394.68,1111.30) scale(0.860,1.000)" x="0" y="0" font-size="20.8" font-weight="normal" fill="#000" text-anchor="middle" stroke="#000" stroke-width="0.15">る</text>
<text transform="translate(410.97,1111.30) scale(0.941,1.000)" x="0" y="0" font-size="20.8" font-weight="normal" fill="#000" text-anchor="middle" stroke="#000" stroke-width="0.15">た</text>
<text transform="translate(427.91,1111.30) scale(0.811,1.000)" x="0" y="0" font-size="20.8" font-weight="normal" fill="#000" text-anchor="middle" stroke="#000" stroke-width="0.15">め</text>
<text transform="translate(445.00,1111.30) scale(1.000,1.000)" x="0" y="0" font-size="20.8" font-weight="normal" fill="#000" text-anchor="middle" stroke="#000" stroke-width="0.15">、</text>
<text transform="translate(459.35,1111.30) scale(1.015,1.000)" x="0" y="0" font-size="20.8" font-weight="normal" fill="#000" text-anchor="middle" stroke="#000" stroke-width="0.15">線</text>
<text transform="translate(479.26,1111.30) scale(0.874,1.000)" x="0" y="0" font-size="20.8" font-weight="normal" fill="#000" text-anchor="middle" stroke="#000" stroke-width="0.15">グ</text>
<text transform="translate(495.76,1111.30) scale(0.820,1.000)" x="0" y="0" font-size="20.8" font-weight="normal" fill="#000" text-anchor="middle" stroke="#000" stroke-width="0.15">ラ</text>
<text transform="translate(512.14,1111.30) scale(1.037,1.000)" x="0" y="0" font-size="20.8" font-weight="normal" fill="#000" text-anchor="middle" stroke="#000" stroke-width="0.15">フ</text>
<text transform="translate(525.25,1111.30) scale(0.955,1.000)" x="0" y="0" font-size="20.8" font-weight="normal" fill="#000" text-anchor="middle" stroke="#000" stroke-width="0.15">が</text>
<text transform="translate(542.90,1111.30) scale(0.750,1.000)" x="0" y="0" font-size="20.8" font-weight="normal" fill="#000" text-anchor="middle" stroke="#000" stroke-width="0.15">つ</text>
<text transform="translate(557.72,1111.30) scale(0.822,1.000)" x="0" y="0" font-size="20.8" font-weight="normal" fill="#000" text-anchor="middle" stroke="#000" stroke-width="0.15">な</text>
<text transform="translate(576.00,1111.30) scale(0.920,1.000)" x="0" y="0" font-size="20.8" font-weight="normal" fill="#000" text-anchor="middle" stroke="#000" stroke-width="0.15">が</text>
<text transform="translate(591.12,1111.30) scale(0.740,1.000)" x="0" y="0" font-size="20.8" font-weight="normal" fill="#000" text-anchor="middle" stroke="#000" stroke-width="0.15">っ</text>
<text transform="translate(605.50,1111.30) scale(0.800,1.000)" x="0" y="0" font-size="20.8" font-weight="normal" fill="#000" text-anchor="middle" stroke="#000" stroke-width="0.15">て</text>
<text transform="translate(621.65,1111.30) scale(0.761,1.000)" x="0" y="0" font-size="20.8" font-weight="normal" fill="#000" text-anchor="middle" stroke="#000" stroke-width="0.15">い</text>
<text transform="translate(638.78,1111.30) scale(0.778,1.000)" x="0" y="0" font-size="20.8" font-weight="normal" fill="#000" text-anchor="middle" stroke="#000" stroke-width="0.15">な</text>
<text transform="translate(654.15,1111.30) scale(0.850,1.000)" x="0" y="0" font-size="20.8" font-weight="normal" fill="#000" text-anchor="middle" stroke="#000" stroke-width="0.15">い</text>
<text transform="translate(673.25,1111.30) scale(0.994,1.000)" x="0" y="0" font-size="20.8" font-weight="normal" fill="#000" text-anchor="middle" stroke="#000" stroke-width="0.15">箇</text>
<text transform="translate(693.25,1111.30) scale(1.028,1.000)" x="0" y="0" font-size="20.8" font-weight="normal" fill="#000" text-anchor="middle" stroke="#000" stroke-width="0.15">所</text>
<text transform="translate(713.60,1111.30) scale(0.860,1.000)" x="0" y="0" font-size="20.8" font-weight="normal" fill="#000" text-anchor="middle" stroke="#000" stroke-width="0.15">が</text>
<text transform="translate(731.36,1111.30) scale(0.856,1.000)" x="0" y="0" font-size="20.8" font-weight="normal" fill="#000" text-anchor="middle" stroke="#000" stroke-width="0.15">あ</text>
<text transform="translate(747.20,1111.30) scale(0.900,1.000)" x="0" y="0" font-size="20.8" font-weight="normal" fill="#000" text-anchor="middle" stroke="#000" stroke-width="0.15">る</text>
<text transform="translate(766.52,1111.30) scale(1.240,1.000)" x="0" y="0" font-size="20.8" font-weight="normal" fill="#000" text-anchor="middle" stroke="#000" stroke-width="0.15">。</text>
<text x="1577" y="1112" font-size="31" fill="#000">16</text>
</svg>
</body></html>
